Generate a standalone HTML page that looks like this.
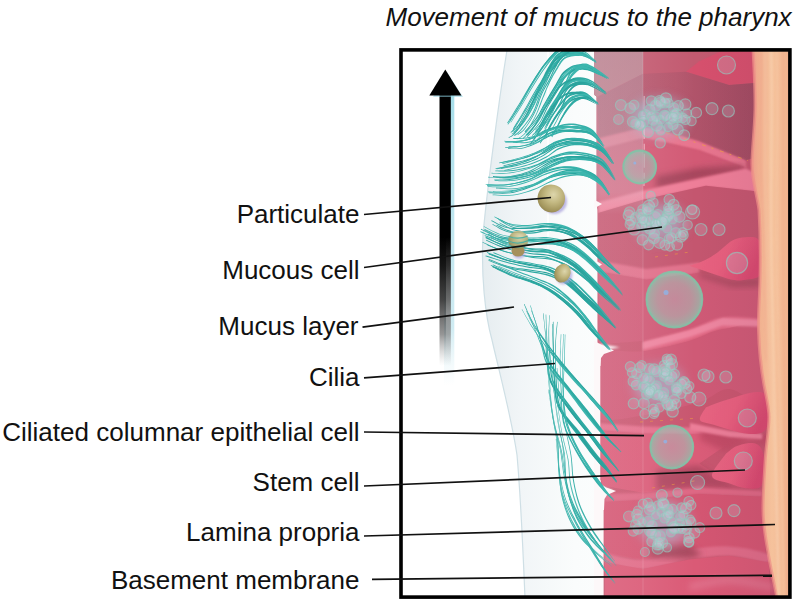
<!DOCTYPE html>
<html><head><meta charset="utf-8">
<style>
html,body{margin:0;padding:0;background:#fff;}
body{width:800px;height:604px;overflow:hidden;position:relative;font-family:"Liberation Sans",sans-serif;}
svg{position:absolute;left:0;top:0;}
.lbl{font-family:"Liberation Sans",sans-serif;font-size:26px;fill:#111;}
</style></head>
<body>
<svg width="800" height="604" viewBox="0 0 800 604">
<defs>
<linearGradient id="gShaft" x1="0" y1="0" x2="0" y2="1">
 <stop offset="0" stop-color="#000"/><stop offset="0.5" stop-color="#000"/><stop offset="0.6" stop-color="#161616"/><stop offset="0.72" stop-color="#363636" stop-opacity="0.93"/><stop offset="0.84" stop-color="#686868" stop-opacity="0.7"/><stop offset="0.95" stop-color="#aaa" stop-opacity="0"/>
</linearGradient>
<linearGradient id="gMucus" x1="0" y1="0" x2="1" y2="0">
 <stop offset="0" stop-color="#e6edf0"/><stop offset="0.22" stop-color="#f1f5f7"/><stop offset="0.55" stop-color="#fafcfc"/><stop offset="1" stop-color="#fefefe"/>
</linearGradient>
<linearGradient id="gLam" x1="0" y1="0" x2="1" y2="0">
 <stop offset="0" stop-color="#ee9f8c"/><stop offset="0.18" stop-color="#f1b08f"/><stop offset="0.5" stop-color="#f5c29c"/><stop offset="0.85" stop-color="#f2b690"/><stop offset="1" stop-color="#eda58a"/>
</linearGradient>
<linearGradient id="gShaftHi" x1="0" y1="0" x2="0" y2="1">
 <stop offset="0" stop-color="#fff" stop-opacity="0"/><stop offset="0.5" stop-color="#fff" stop-opacity="0"/><stop offset="0.78" stop-color="#fff" stop-opacity="0.28"/><stop offset="0.95" stop-color="#fff" stop-opacity="0"/>
</linearGradient>
<linearGradient id="gGlow" x1="0" y1="0" x2="0" y2="1">
 <stop offset="0" stop-color="#7fcfe0" stop-opacity="0.7"/><stop offset="0.8" stop-color="#9fd8e6" stop-opacity="0.5"/><stop offset="1" stop-color="#cfeaf2" stop-opacity="0"/>
</linearGradient>
<linearGradient id="gTone" gradientUnits="userSpaceOnUse" x1="597" y1="0" x2="760" y2="0">
 <stop offset="0" stop-color="#ffe8ee" stop-opacity="0.14"/><stop offset="0.3" stop-color="#ffe0e8" stop-opacity="0.09"/><stop offset="0.6" stop-color="#ffd8e0" stop-opacity="0"/><stop offset="0.61" stop-color="#40203a" stop-opacity="0"/><stop offset="1" stop-color="#40203a" stop-opacity="0.07"/>
</linearGradient>
<linearGradient id="gB" gradientUnits="userSpaceOnUse" x1="597" y1="0" x2="757" y2="0">
 <stop offset="0" stop-color="#b85a70"/><stop offset="0.5" stop-color="#b4566c"/><stop offset="1" stop-color="#a24b62"/>
</linearGradient>
<linearGradient id="gBulb" x1="0" y1="0" x2="1" y2="0.3">
 <stop offset="0" stop-color="#e66682"/><stop offset="0.55" stop-color="#e85f7e"/><stop offset="1" stop-color="#d94a70"/>
</linearGradient>
<linearGradient id="gStripe" x1="0" y1="0" x2="0" y2="1">
 <stop offset="0" stop-color="#fff" stop-opacity="0.9"/><stop offset="0.7" stop-color="#fff" stop-opacity="0.8"/><stop offset="1" stop-color="#fff" stop-opacity="0"/>
</linearGradient>
<linearGradient id="gHaze" x1="0" y1="0" x2="0" y2="1">
 <stop offset="0" stop-color="#b4aeb8" stop-opacity="0.38"/><stop offset="0.16" stop-color="#c4bcc4" stop-opacity="0.34"/><stop offset="0.26" stop-color="#dcd4dc" stop-opacity="0.26"/><stop offset="0.3" stop-color="#f0e0e8" stop-opacity="0.05"/><stop offset="1" stop-color="#f8e0e8" stop-opacity="0.0"/>
</linearGradient>
<radialGradient id="gPart" cx="0.58" cy="0.36" r="0.68">
 <stop offset="0" stop-color="#ddd6ac"/><stop offset="0.45" stop-color="#c2b780"/><stop offset="0.85" stop-color="#a2955c"/><stop offset="1" stop-color="#8f8250"/>
</radialGradient>
<radialGradient id="gBig" cx="0.5" cy="0.5" r="0.5">
 <stop offset="0" stop-color="#bca6b0" stop-opacity="0.6"/><stop offset="0.6" stop-color="#aeb4b2" stop-opacity="0.62"/><stop offset="0.88" stop-color="#98c0b0" stop-opacity="0.72"/><stop offset="1" stop-color="#84c6aa" stop-opacity="0.9"/>
</radialGradient>
<filter id="b0" x="-10%" y="-10%" width="120%" height="120%"><feGaussianBlur stdDeviation="0.6"/></filter>
<filter id="b1" x="-10%" y="-10%" width="120%" height="120%"><feGaussianBlur stdDeviation="1.2"/></filter>
<filter id="b3" x="-30%" y="-30%" width="160%" height="160%"><feGaussianBlur stdDeviation="6"/></filter>
<filter id="b2" x="-20%" y="-20%" width="140%" height="140%"><feGaussianBlur stdDeviation="3"/></filter>
<linearGradient id="gFade" gradientUnits="userSpaceOnUse" x1="602" y1="0" x2="630" y2="0">
 <stop offset="0" stop-color="#fff"/><stop offset="0.5" stop-color="#ddd"/><stop offset="1" stop-color="#888"/>
</linearGradient>
<mask id="mCil" maskUnits="userSpaceOnUse" x="400" y="40" width="400" height="570"><rect x="400" y="40" width="400" height="570" fill="url(#gFade)"/></mask>
<clipPath id="clipBox"><rect x="402" y="51" width="387" height="546"/></clipPath>
<clipPath id="clipCells"><path d="M594,50 L594,92 Q594,95.5 596.5,96.5 L596.5,205 L597.5,210 L597.5,344 L600,352 L600,486 L603,496 L603,598 L790,598 L790,50 Z"/></clipPath>
</defs>
<rect width="800" height="604" fill="#fff"/>
<g clip-path="url(#clipBox)">
 <path id="mucus" d="M507,50 C499,100 487,190 483,235 C481,275 485,315 492,340 C500,375 512,420 517,455 C521,500 523,550 525,598 L650,598 L650,50 Z" fill="url(#gMucus)"/>
 <path d="M507,50 C499,100 487,190 483,235 C481,275 485,315 492,340 C500,375 512,420 517,455 C521,500 523,550 525,598" fill="none" stroke="#cfdfe5" stroke-width="1.2"/>
 <rect x="547" y="50" width="2" height="260" fill="url(#gStripe)"/>
 <g id="cells" clip-path="url(#clipCells)">
<rect x="592" y="50" width="185" height="548" fill="#c8566f"/>
<polygon points="591.7,49.7 643.0,49.7 643.0,73.8 591.7,99.3" fill="#c4707f" />
<polygon points="643.0,49.7 757.2,49.7 757.2,82.8 729.1,85.1 686.0,71.8 643.0,73.8" fill="#c25a70" />
<polygon points="686.0,71.8 699.3,61.2 722.5,50.6 757.2,50.6 757.2,82.8 729.1,85.1" fill="#d6506d" />
<polygon points="596.6,97.7 643.0,73.8 686.0,71.8 729.1,85.1 757.2,82.8 755.6,157.3 745.6,160.6 699.3,141.4 666.2,131.4 643.0,127.5 599.9,138.1" fill="url(#gB)" />
<polygon points="599.9,138.1 643.0,127.5 666.2,131.4 699.3,141.4 745.6,160.6 746.3,168.5 699.3,151.3 666.2,143.0 643.0,139.7 599.9,151.3" fill="#e8748e" filter="url(#b1)"/>
<polygon points="599.9,149.0 643.0,138.1 699.3,150.0 745.6,167.9 745.6,170.5 705.9,178.5 643.0,191.7 598.3,203.6" fill="#d25a74" filter="url(#b1)"/>
<polygon points="656.2,176.5 699.3,167.9 744.0,165.2 744.0,169.9 705.9,177.8 656.2,188.4" fill="#a4455b" filter="url(#b2)"/>
<polygon points="598.3,202.3 643.0,190.4 705.9,177.1 745.6,168.5 757.2,173.8 760.5,192.4 705.9,186.4 643.0,200.3 598.3,213.6" fill="#ee7e98" filter="url(#b1)"/>
<polygon points="598.3,212.9 643.0,199.7 705.9,185.7 760.5,191.7 762.2,243.2 735.7,239.9 722.5,250.5 699.3,263.1 646.3,269.7 598.3,260.5" fill="#c4566f" />
<polygon points="598.3,260.5 646.3,269.1 699.3,262.5 699.3,273.0 646.3,279.7 598.3,271.4" fill="#e0708a" filter="url(#b1)"/>
<polygon points="598.3,271.4 646.3,279.7 699.3,273.0 762.2,279.7 762.2,319.4 722.5,316.8 689.3,329.3 643.0,340.9 599.9,344.2" fill="#cf5a76" />
<polygon points="699.3,271.4 732.4,280.3 760.5,278.0 760.5,286.3 732.4,287.0 699.3,276.4" fill="#a9485e" filter="url(#b2)"/>
<path d="M643.0,341.9 C650.7,339.9 676.1,334.1 689.3,330.0 C702.6,325.9 710.0,319.1 722.5,317.4 C734.9,315.8 756.9,318.1 763.8,320.1 C770.7,322.1 770.7,327.8 763.8,329.3 C756.9,330.9 734.9,327.4 722.5,329.3 C710.0,331.3 702.6,337.2 689.3,340.9 C676.1,344.7 650.7,350.0 643.0,351.9 Z" fill="#e26a86" filter="url(#b1)"/>
<polygon points="593.3,343.9 603.2,344.6 619.8,347.2 603.2,350.5 593.3,351.9" fill="#fbf4f6" filter="url(#b1)"/>
<path d="M599.9,353.2 C600.8,352.6 597.7,350.2 604.9,349.9 C612.1,349.5 628.9,352.7 643.0,351.2 C657.1,349.7 676.1,344.6 689.3,340.9 C702.6,337.3 709.8,331.3 722.5,329.3 C735.1,327.4 758.0,317.2 765.5,329.3 C772.9,341.5 773.2,392.3 767.2,402.2 C761.1,412.1 740.4,388.9 729.1,388.9 C717.8,388.9 713.6,397.8 699.3,402.2 C684.9,406.6 659.0,412.4 643.0,415.4 C627.0,418.5 610.4,420.4 603.2,420.4 C596.1,420.4 600.5,416.3 599.9,415.4 Z" fill="#cf5a76"/>
<polygon points="643.0,341.9 689.3,330.0 722.5,318.1 762.2,320.1 762.2,326.7 722.5,325.4 689.3,337.3 643.0,349.2" fill="#ee86a0" filter="url(#b1)"/>
<polygon points="599.9,423.2 643.0,426.5 699.3,427.8 732.4,435.8 762.2,434.5 762.2,440.4 732.4,441.1 699.3,434.5 643.0,433.8 599.9,430.5" fill="#e4708c" filter="url(#b1)"/>
<polygon points="599.9,430.5 643.0,433.8 699.3,434.5 732.4,441.1 699.3,463.6 715.8,474.2 735.7,484.1 762.2,483.5 762.2,490.8 699.3,486.8 643.0,492.7 601.6,485.5" fill="#da5c78" />
<polygon points="656.2,470.2 699.3,465.3 715.8,475.2 735.7,485.1 762.2,484.5 762.2,490.8 699.3,487.4 656.2,490.8" fill="#b04a62" filter="url(#b2)"/>
<polygon points="593.3,486.8 603.2,486.8 613.2,490.8 603.2,494.7 593.3,494.7" fill="#f4e6ea" filter="url(#b1)"/>
<polygon points="604.9,494.1 643.0,492.7 699.3,487.4 762.2,490.8 762.2,496.7 699.3,494.1 643.0,500.0 604.9,502.0" fill="#de6884" filter="url(#b1)"/>
<polygon points="603.9,502.0 643.0,500.0 699.3,494.1 763.8,496.7 765.5,553.0 729.1,547.0 689.3,550.4 643.0,560.3 604.9,553.7" fill="#d45672" />
<path d="M604.9,553.0 C611.2,554.1 628.9,560.2 643.0,559.6 C657.1,559.1 675.0,551.9 689.3,549.7 C703.7,547.5 716.1,545.7 729.1,546.4 C742.0,547.0 760.8,551.0 767.2,553.7 C773.5,556.3 773.5,561.9 767.2,562.3 C760.8,562.6 742.0,556.1 729.1,555.7 C716.1,555.2 703.7,557.4 689.3,559.6 C675.0,561.8 657.1,568.5 643.0,568.9 C628.9,569.3 611.2,563.4 604.9,562.3 Z" fill="#e06c88" filter="url(#b1)"/>
<polygon points="649.6,546.4 689.3,544.7 702.6,554.7 689.3,559.0 649.6,557.0" fill="#a9485e" filter="url(#b2)"/>
<polygon points="604.9,562.3 643.0,568.9 689.3,559.6 729.1,555.7 768.8,562.3 770.5,602.7 604.9,602.7" fill="#da5a76" />
<path d="M689.3,582.8 C696.0,581.7 715.8,576.2 729.1,576.2 C742.3,576.2 761.9,580.6 768.8,582.8 C775.7,585.0 777.1,589.2 770.5,589.4 C763.8,589.7 742.6,584.2 729.1,584.5 C715.6,584.7 696.0,590.0 689.3,591.1 Z" fill="#e0708a" filter="url(#b2)"/>
<polygon points="700.0,424.0 748.0,436.0 770.0,434.0 770.0,446.0 748.0,442.0 726.0,452.0 700.0,440.0" fill="#c24c66" filter="url(#b2)"/>
<polygon points="690.0,423.0 730.0,431.0 762.0,434.0 762.0,439.0 730.0,437.0 690.0,430.0" fill="#ec7e98" filter="url(#b1)"/>
<path d="M705.8,407.5 C708.1,406.6 714.8,403.8 719.8,402.0 C724.8,400.2 730.7,398.5 735.7,397.0 C740.7,395.5 745.2,393.8 749.6,393.0 C754.0,392.2 758.8,391.7 762.0,392.5 C765.2,393.3 767.6,394.8 769.0,398.0 C770.4,401.2 770.8,407.2 770.5,411.8 C770.2,416.4 769.0,422.2 767.5,425.7 C766.0,429.2 764.8,431.4 761.5,432.7 C758.2,434.0 752.9,434.2 747.6,433.7 C742.3,433.2 735.3,431.2 729.7,429.7 C724.1,428.2 718.8,426.3 713.8,424.7 C708.8,423.1 701.3,422.9 700.0,420.0 C698.7,417.1 704.8,409.6 705.8,407.5 Z" fill="url(#gBulb)" filter="url(#b0)"/>
<path d="M725.7,454.0 C727.4,452.8 732.1,448.4 735.7,446.6 C739.4,444.8 744.0,443.5 747.6,443.2 C751.2,442.9 755.0,443.2 757.5,444.6 C760.0,446.0 761.3,448.5 762.5,451.6 C763.7,454.8 764.3,459.2 764.5,463.5 C764.7,467.8 764.3,473.4 763.5,477.4 C762.7,481.4 762.5,485.6 759.5,487.4 C756.5,489.2 750.6,489.0 745.6,488.3 C740.6,487.6 735.3,485.4 729.7,483.4 C724.1,481.3 712.7,480.9 712.0,476.0 C711.3,471.1 723.4,457.7 725.7,454.0 Z" fill="url(#gBulb)" filter="url(#b0)"/>
<path d="M689.3,265.8 C691.8,264.9 699.5,262.7 704.2,260.5 C708.9,258.3 712.8,255.8 717.5,252.5 C722.2,249.2 727.7,243.1 732.4,240.6 C737.1,238.1 741.2,237.4 745.6,237.3 C750.0,237.2 755.9,236.2 758.9,239.9 C761.9,243.7 763.4,253.8 763.5,259.8 C763.6,265.8 762.5,272.4 759.5,275.7 C756.6,279.0 750.2,279.0 745.6,279.7 C741.1,280.3 738.5,280.9 732.4,279.7 C726.3,278.5 716.4,274.7 709.2,272.4 C702.0,270.1 692.6,266.9 689.3,265.8 Z" fill="url(#gBulb)" filter="url(#b0)"/>
 <rect x="590" y="50" width="200" height="548" fill="url(#gTone)"/>
 <rect x="590" y="50" width="53" height="548" fill="url(#gHaze)"/>
 <rect x="642.3" y="50" width="1.4" height="548" fill="#fff" opacity="0.1"/>
<path d="M644.2,96 C643.6,120 644.8,150 644,186" fill="none" stroke="#fff" stroke-width="1.1" stroke-dasharray="14 5 6 4" opacity="0.5"/>
 <path d="M666,132.5 L700,144 L748,160.5" fill="none" stroke="#f0a040" stroke-width="1" stroke-dasharray="4 6 2 7" opacity="0.7"/>
 <path d="M655,257 L690,252 M640,422 L700,418 M652,488 L700,480" fill="none" stroke="#f0a040" stroke-width="1" stroke-dasharray="3 7" opacity="0.55"/>
<ellipse cx="660" cy="117" rx="28" ry="19" fill="#a8bcd4" opacity="0.62" filter="url(#b3)"/>
<circle cx="678.3" cy="105.6" r="5.0" fill="#c4dce8" fill-opacity="0.20" stroke="#94c6bc" stroke-opacity="0.66" stroke-width="1.2"/>
<circle cx="668.1" cy="127.3" r="4.4" fill="#c4dce8" fill-opacity="0.20" stroke="#94c6bc" stroke-opacity="0.66" stroke-width="1.2"/>
<circle cx="687.0" cy="113.4" r="4.4" fill="#c4dce8" fill-opacity="0.20" stroke="#94c6bc" stroke-opacity="0.66" stroke-width="1.2"/>
<circle cx="656.8" cy="125.7" r="5.6" fill="#c4dce8" fill-opacity="0.20" stroke="#94c6bc" stroke-opacity="0.66" stroke-width="1.2"/>
<circle cx="618.5" cy="119.4" r="4.9" fill="#c4dce8" fill-opacity="0.20" stroke="#94c6bc" stroke-opacity="0.66" stroke-width="1.2"/>
<circle cx="645.6" cy="114.4" r="4.7" fill="#c4dce8" fill-opacity="0.20" stroke="#94c6bc" stroke-opacity="0.66" stroke-width="1.2"/>
<circle cx="656.3" cy="116.8" r="4.7" fill="#c4dce8" fill-opacity="0.20" stroke="#94c6bc" stroke-opacity="0.66" stroke-width="1.2"/>
<circle cx="642.8" cy="115.4" r="4.4" fill="#c4dce8" fill-opacity="0.20" stroke="#94c6bc" stroke-opacity="0.66" stroke-width="1.2"/>
<circle cx="685.5" cy="119.8" r="4.6" fill="#c4dce8" fill-opacity="0.20" stroke="#94c6bc" stroke-opacity="0.66" stroke-width="1.2"/>
<circle cx="630.2" cy="108.2" r="5.3" fill="#c4dce8" fill-opacity="0.20" stroke="#94c6bc" stroke-opacity="0.66" stroke-width="1.2"/>
<circle cx="696.3" cy="112.7" r="5.3" fill="#c4dce8" fill-opacity="0.20" stroke="#94c6bc" stroke-opacity="0.66" stroke-width="1.2"/>
<circle cx="643.2" cy="122.0" r="5.5" fill="#c4dce8" fill-opacity="0.20" stroke="#94c6bc" stroke-opacity="0.66" stroke-width="1.2"/>
<circle cx="660.3" cy="120.0" r="4.7" fill="#c4dce8" fill-opacity="0.20" stroke="#94c6bc" stroke-opacity="0.66" stroke-width="1.2"/>
<circle cx="676.8" cy="113.8" r="5.1" fill="#c4dce8" fill-opacity="0.20" stroke="#94c6bc" stroke-opacity="0.66" stroke-width="1.2"/>
<circle cx="673.1" cy="124.5" r="5.0" fill="#c4dce8" fill-opacity="0.20" stroke="#94c6bc" stroke-opacity="0.66" stroke-width="1.2"/>
<circle cx="660.6" cy="130.1" r="4.9" fill="#c4dce8" fill-opacity="0.20" stroke="#94c6bc" stroke-opacity="0.66" stroke-width="1.2"/>
<circle cx="659.5" cy="100.9" r="5.3" fill="#c4dce8" fill-opacity="0.20" stroke="#94c6bc" stroke-opacity="0.66" stroke-width="1.2"/>
<circle cx="691.6" cy="121.1" r="4.6" fill="#c4dce8" fill-opacity="0.20" stroke="#94c6bc" stroke-opacity="0.66" stroke-width="1.2"/>
<circle cx="660.2" cy="142.9" r="5.1" fill="#c4dce8" fill-opacity="0.20" stroke="#94c6bc" stroke-opacity="0.66" stroke-width="1.2"/>
<circle cx="685.3" cy="104.4" r="5.6" fill="#c4dce8" fill-opacity="0.20" stroke="#94c6bc" stroke-opacity="0.66" stroke-width="1.2"/>
<circle cx="664.7" cy="115.4" r="5.1" fill="#c4dce8" fill-opacity="0.20" stroke="#94c6bc" stroke-opacity="0.66" stroke-width="1.2"/>
<circle cx="684.2" cy="135.2" r="5.4" fill="#c4dce8" fill-opacity="0.20" stroke="#94c6bc" stroke-opacity="0.66" stroke-width="1.2"/>
<circle cx="682.3" cy="117.9" r="5.0" fill="#c4dce8" fill-opacity="0.20" stroke="#94c6bc" stroke-opacity="0.66" stroke-width="1.2"/>
<circle cx="664.9" cy="103.0" r="5.0" fill="#c4dce8" fill-opacity="0.20" stroke="#94c6bc" stroke-opacity="0.66" stroke-width="1.2"/>
<circle cx="649.8" cy="109.7" r="5.2" fill="#c4dce8" fill-opacity="0.20" stroke="#94c6bc" stroke-opacity="0.66" stroke-width="1.2"/>
<circle cx="665.7" cy="115.6" r="4.7" fill="#c4dce8" fill-opacity="0.20" stroke="#94c6bc" stroke-opacity="0.66" stroke-width="1.2"/>
<circle cx="632.8" cy="121.8" r="5.4" fill="#c4dce8" fill-opacity="0.20" stroke="#94c6bc" stroke-opacity="0.66" stroke-width="1.2"/>
<circle cx="677.8" cy="129.6" r="5.5" fill="#c4dce8" fill-opacity="0.20" stroke="#94c6bc" stroke-opacity="0.66" stroke-width="1.2"/>
<circle cx="668.7" cy="103.1" r="4.4" fill="#c4dce8" fill-opacity="0.20" stroke="#94c6bc" stroke-opacity="0.66" stroke-width="1.2"/>
<circle cx="673.8" cy="108.0" r="5.2" fill="#c4dce8" fill-opacity="0.20" stroke="#94c6bc" stroke-opacity="0.66" stroke-width="1.2"/>
<circle cx="651.3" cy="100.9" r="5.1" fill="#c4dce8" fill-opacity="0.20" stroke="#94c6bc" stroke-opacity="0.66" stroke-width="1.2"/>
<circle cx="634.0" cy="105.1" r="5.0" fill="#c4dce8" fill-opacity="0.20" stroke="#94c6bc" stroke-opacity="0.66" stroke-width="1.2"/>
<circle cx="651.0" cy="116.1" r="4.9" fill="#c4dce8" fill-opacity="0.20" stroke="#94c6bc" stroke-opacity="0.66" stroke-width="1.2"/>
<circle cx="655.7" cy="105.8" r="5.6" fill="#c4dce8" fill-opacity="0.20" stroke="#94c6bc" stroke-opacity="0.66" stroke-width="1.2"/>
<circle cx="660.7" cy="102.6" r="5.5" fill="#c4dce8" fill-opacity="0.20" stroke="#94c6bc" stroke-opacity="0.66" stroke-width="1.2"/>
<circle cx="640.2" cy="125.2" r="5.3" fill="#c4dce8" fill-opacity="0.20" stroke="#94c6bc" stroke-opacity="0.66" stroke-width="1.2"/>
<circle cx="670.4" cy="118.7" r="5.7" fill="#c4dce8" fill-opacity="0.20" stroke="#94c6bc" stroke-opacity="0.66" stroke-width="1.2"/>
<circle cx="677.4" cy="117.6" r="5.2" fill="#c4dce8" fill-opacity="0.20" stroke="#94c6bc" stroke-opacity="0.66" stroke-width="1.2"/>
<circle cx="653.4" cy="120.2" r="5.2" fill="#c4dce8" fill-opacity="0.20" stroke="#94c6bc" stroke-opacity="0.66" stroke-width="1.2"/>
<circle cx="620.9" cy="105.1" r="5.5" fill="#c4dce8" fill-opacity="0.20" stroke="#94c6bc" stroke-opacity="0.66" stroke-width="1.2"/>
<circle cx="648.0" cy="131.8" r="5.6" fill="#c4dce8" fill-opacity="0.20" stroke="#94c6bc" stroke-opacity="0.66" stroke-width="1.2"/>
<circle cx="674.6" cy="113.7" r="4.4" fill="#c4dce8" fill-opacity="0.20" stroke="#94c6bc" stroke-opacity="0.66" stroke-width="1.2"/>
<circle cx="665.9" cy="98.5" r="5.7" fill="#c4dce8" fill-opacity="0.20" stroke="#94c6bc" stroke-opacity="0.66" stroke-width="1.2"/>
<circle cx="673.2" cy="117.4" r="4.9" fill="#c4dce8" fill-opacity="0.20" stroke="#94c6bc" stroke-opacity="0.66" stroke-width="1.2"/>
<circle cx="640.3" cy="124.8" r="4.7" fill="#c4dce8" fill-opacity="0.20" stroke="#94c6bc" stroke-opacity="0.66" stroke-width="1.2"/>
<circle cx="635.7" cy="123.8" r="5.0" fill="#c4dce8" fill-opacity="0.20" stroke="#94c6bc" stroke-opacity="0.66" stroke-width="1.2"/>
<circle cx="712.0" cy="108.6" r="6.0" fill="#c4dce8" fill-opacity="0.20" stroke="#94c6bc" stroke-opacity="0.66" stroke-width="1.2"/>
<circle cx="728.4" cy="111.0" r="6.0" fill="#c4dce8" fill-opacity="0.20" stroke="#94c6bc" stroke-opacity="0.66" stroke-width="1.2"/>
<circle cx="726.5" cy="65.0" r="9.0" fill="#c4dce8" fill-opacity="0.20" stroke="#94c6bc" stroke-opacity="0.66" stroke-width="1.2"/>
<ellipse cx="660" cy="223" rx="25" ry="19" fill="#a8bcd4" opacity="0.62" filter="url(#b3)"/>
<circle cx="683.4" cy="235.1" r="4.8" fill="#c4dce8" fill-opacity="0.20" stroke="#94c6bc" stroke-opacity="0.66" stroke-width="1.2"/>
<circle cx="667.1" cy="228.2" r="4.6" fill="#c4dce8" fill-opacity="0.20" stroke="#94c6bc" stroke-opacity="0.66" stroke-width="1.2"/>
<circle cx="655.0" cy="217.4" r="5.7" fill="#c4dce8" fill-opacity="0.20" stroke="#94c6bc" stroke-opacity="0.66" stroke-width="1.2"/>
<circle cx="687.6" cy="225.0" r="4.7" fill="#c4dce8" fill-opacity="0.20" stroke="#94c6bc" stroke-opacity="0.66" stroke-width="1.2"/>
<circle cx="657.9" cy="215.1" r="5.6" fill="#c4dce8" fill-opacity="0.20" stroke="#94c6bc" stroke-opacity="0.66" stroke-width="1.2"/>
<circle cx="661.4" cy="225.4" r="4.4" fill="#c4dce8" fill-opacity="0.20" stroke="#94c6bc" stroke-opacity="0.66" stroke-width="1.2"/>
<circle cx="648.8" cy="206.0" r="5.7" fill="#c4dce8" fill-opacity="0.20" stroke="#94c6bc" stroke-opacity="0.66" stroke-width="1.2"/>
<circle cx="673.6" cy="204.8" r="5.4" fill="#c4dce8" fill-opacity="0.20" stroke="#94c6bc" stroke-opacity="0.66" stroke-width="1.2"/>
<circle cx="677.2" cy="244.8" r="5.4" fill="#c4dce8" fill-opacity="0.20" stroke="#94c6bc" stroke-opacity="0.66" stroke-width="1.2"/>
<circle cx="675.8" cy="232.8" r="5.1" fill="#c4dce8" fill-opacity="0.20" stroke="#94c6bc" stroke-opacity="0.66" stroke-width="1.2"/>
<circle cx="659.4" cy="242.8" r="5.5" fill="#c4dce8" fill-opacity="0.20" stroke="#94c6bc" stroke-opacity="0.66" stroke-width="1.2"/>
<circle cx="648.6" cy="244.9" r="5.0" fill="#c4dce8" fill-opacity="0.20" stroke="#94c6bc" stroke-opacity="0.66" stroke-width="1.2"/>
<circle cx="664.9" cy="245.1" r="5.0" fill="#c4dce8" fill-opacity="0.20" stroke="#94c6bc" stroke-opacity="0.66" stroke-width="1.2"/>
<circle cx="640.3" cy="213.9" r="4.6" fill="#c4dce8" fill-opacity="0.20" stroke="#94c6bc" stroke-opacity="0.66" stroke-width="1.2"/>
<circle cx="692.1" cy="209.6" r="4.8" fill="#c4dce8" fill-opacity="0.20" stroke="#94c6bc" stroke-opacity="0.66" stroke-width="1.2"/>
<circle cx="660.3" cy="223.9" r="5.2" fill="#c4dce8" fill-opacity="0.20" stroke="#94c6bc" stroke-opacity="0.66" stroke-width="1.2"/>
<circle cx="648.0" cy="209.3" r="5.6" fill="#c4dce8" fill-opacity="0.20" stroke="#94c6bc" stroke-opacity="0.66" stroke-width="1.2"/>
<circle cx="669.3" cy="199.6" r="5.3" fill="#c4dce8" fill-opacity="0.20" stroke="#94c6bc" stroke-opacity="0.66" stroke-width="1.2"/>
<circle cx="668.2" cy="214.1" r="5.5" fill="#c4dce8" fill-opacity="0.20" stroke="#94c6bc" stroke-opacity="0.66" stroke-width="1.2"/>
<circle cx="629.8" cy="224.3" r="4.7" fill="#c4dce8" fill-opacity="0.20" stroke="#94c6bc" stroke-opacity="0.66" stroke-width="1.2"/>
<circle cx="642.4" cy="239.9" r="5.3" fill="#c4dce8" fill-opacity="0.20" stroke="#94c6bc" stroke-opacity="0.66" stroke-width="1.2"/>
<circle cx="635.9" cy="217.8" r="5.3" fill="#c4dce8" fill-opacity="0.20" stroke="#94c6bc" stroke-opacity="0.66" stroke-width="1.2"/>
<circle cx="676.3" cy="210.0" r="5.3" fill="#c4dce8" fill-opacity="0.20" stroke="#94c6bc" stroke-opacity="0.66" stroke-width="1.2"/>
<circle cx="650.7" cy="195.7" r="4.6" fill="#c4dce8" fill-opacity="0.20" stroke="#94c6bc" stroke-opacity="0.66" stroke-width="1.2"/>
<circle cx="628.6" cy="215.3" r="5.4" fill="#c4dce8" fill-opacity="0.20" stroke="#94c6bc" stroke-opacity="0.66" stroke-width="1.2"/>
<circle cx="642.1" cy="217.5" r="5.0" fill="#c4dce8" fill-opacity="0.20" stroke="#94c6bc" stroke-opacity="0.66" stroke-width="1.2"/>
<circle cx="680.8" cy="236.8" r="5.4" fill="#c4dce8" fill-opacity="0.20" stroke="#94c6bc" stroke-opacity="0.66" stroke-width="1.2"/>
<circle cx="682.7" cy="232.4" r="4.7" fill="#c4dce8" fill-opacity="0.20" stroke="#94c6bc" stroke-opacity="0.66" stroke-width="1.2"/>
<circle cx="667.9" cy="216.4" r="5.0" fill="#c4dce8" fill-opacity="0.20" stroke="#94c6bc" stroke-opacity="0.66" stroke-width="1.2"/>
<circle cx="665.4" cy="218.0" r="4.6" fill="#c4dce8" fill-opacity="0.20" stroke="#94c6bc" stroke-opacity="0.66" stroke-width="1.2"/>
<circle cx="664.9" cy="220.3" r="5.1" fill="#c4dce8" fill-opacity="0.20" stroke="#94c6bc" stroke-opacity="0.66" stroke-width="1.2"/>
<circle cx="634.2" cy="229.3" r="5.7" fill="#c4dce8" fill-opacity="0.20" stroke="#94c6bc" stroke-opacity="0.66" stroke-width="1.2"/>
<circle cx="645.5" cy="220.8" r="5.2" fill="#c4dce8" fill-opacity="0.20" stroke="#94c6bc" stroke-opacity="0.66" stroke-width="1.2"/>
<circle cx="668.9" cy="238.7" r="4.7" fill="#c4dce8" fill-opacity="0.20" stroke="#94c6bc" stroke-opacity="0.66" stroke-width="1.2"/>
<circle cx="656.5" cy="223.9" r="4.4" fill="#c4dce8" fill-opacity="0.20" stroke="#94c6bc" stroke-opacity="0.66" stroke-width="1.2"/>
<circle cx="653.4" cy="202.6" r="4.7" fill="#c4dce8" fill-opacity="0.20" stroke="#94c6bc" stroke-opacity="0.66" stroke-width="1.2"/>
<circle cx="642.7" cy="209.7" r="5.0" fill="#c4dce8" fill-opacity="0.20" stroke="#94c6bc" stroke-opacity="0.66" stroke-width="1.2"/>
<circle cx="649.9" cy="228.5" r="5.6" fill="#c4dce8" fill-opacity="0.20" stroke="#94c6bc" stroke-opacity="0.66" stroke-width="1.2"/>
<circle cx="655.6" cy="223.6" r="4.5" fill="#c4dce8" fill-opacity="0.20" stroke="#94c6bc" stroke-opacity="0.66" stroke-width="1.2"/>
<circle cx="655.8" cy="223.9" r="4.5" fill="#c4dce8" fill-opacity="0.20" stroke="#94c6bc" stroke-opacity="0.66" stroke-width="1.2"/>
<circle cx="679.4" cy="216.7" r="5.6" fill="#c4dce8" fill-opacity="0.20" stroke="#94c6bc" stroke-opacity="0.66" stroke-width="1.2"/>
<circle cx="669.0" cy="210.5" r="4.9" fill="#c4dce8" fill-opacity="0.20" stroke="#94c6bc" stroke-opacity="0.66" stroke-width="1.2"/>
<circle cx="629.6" cy="212.2" r="5.3" fill="#c4dce8" fill-opacity="0.20" stroke="#94c6bc" stroke-opacity="0.66" stroke-width="1.2"/>
<circle cx="630.8" cy="220.9" r="5.0" fill="#c4dce8" fill-opacity="0.20" stroke="#94c6bc" stroke-opacity="0.66" stroke-width="1.2"/>
<circle cx="646.0" cy="226.1" r="4.8" fill="#c4dce8" fill-opacity="0.20" stroke="#94c6bc" stroke-opacity="0.66" stroke-width="1.2"/>
<circle cx="653.9" cy="238.3" r="5.4" fill="#c4dce8" fill-opacity="0.20" stroke="#94c6bc" stroke-opacity="0.66" stroke-width="1.2"/>
<circle cx="641.7" cy="226.1" r="5.0" fill="#c4dce8" fill-opacity="0.20" stroke="#94c6bc" stroke-opacity="0.66" stroke-width="1.2"/>
<circle cx="672.6" cy="219.2" r="4.6" fill="#c4dce8" fill-opacity="0.20" stroke="#94c6bc" stroke-opacity="0.66" stroke-width="1.2"/>
<circle cx="670.0" cy="246.8" r="4.4" fill="#c4dce8" fill-opacity="0.20" stroke="#94c6bc" stroke-opacity="0.66" stroke-width="1.2"/>
<circle cx="671.4" cy="237.6" r="5.0" fill="#c4dce8" fill-opacity="0.20" stroke="#94c6bc" stroke-opacity="0.66" stroke-width="1.2"/>
<circle cx="649.4" cy="220.7" r="4.7" fill="#c4dce8" fill-opacity="0.20" stroke="#94c6bc" stroke-opacity="0.66" stroke-width="1.2"/>
<circle cx="662.1" cy="221.7" r="5.4" fill="#c4dce8" fill-opacity="0.20" stroke="#94c6bc" stroke-opacity="0.66" stroke-width="1.2"/>
<circle cx="647.2" cy="210.6" r="4.7" fill="#c4dce8" fill-opacity="0.20" stroke="#94c6bc" stroke-opacity="0.66" stroke-width="1.2"/>
<circle cx="654.3" cy="233.4" r="5.2" fill="#c4dce8" fill-opacity="0.20" stroke="#94c6bc" stroke-opacity="0.66" stroke-width="1.2"/>
<circle cx="643.2" cy="220.1" r="4.5" fill="#c4dce8" fill-opacity="0.20" stroke="#94c6bc" stroke-opacity="0.66" stroke-width="1.2"/>
<circle cx="668.3" cy="207.8" r="4.7" fill="#c4dce8" fill-opacity="0.20" stroke="#94c6bc" stroke-opacity="0.66" stroke-width="1.2"/>
<circle cx="701.0" cy="229.5" r="6.0" fill="#c4dce8" fill-opacity="0.20" stroke="#94c6bc" stroke-opacity="0.66" stroke-width="1.2"/>
<circle cx="719.0" cy="229.5" r="6.0" fill="#c4dce8" fill-opacity="0.20" stroke="#94c6bc" stroke-opacity="0.66" stroke-width="1.2"/>
<circle cx="692.6" cy="212.0" r="7.0" fill="#c4dce8" fill-opacity="0.20" stroke="#94c6bc" stroke-opacity="0.66" stroke-width="1.2"/>
<ellipse cx="659" cy="385" rx="25" ry="20" fill="#a8bcd4" opacity="0.62" filter="url(#b3)"/>
<circle cx="644.0" cy="387.1" r="5.2" fill="#c4dce8" fill-opacity="0.20" stroke="#94c6bc" stroke-opacity="0.66" stroke-width="1.2"/>
<circle cx="664.6" cy="369.1" r="5.5" fill="#c4dce8" fill-opacity="0.20" stroke="#94c6bc" stroke-opacity="0.66" stroke-width="1.2"/>
<circle cx="639.8" cy="367.5" r="5.0" fill="#c4dce8" fill-opacity="0.20" stroke="#94c6bc" stroke-opacity="0.66" stroke-width="1.2"/>
<circle cx="681.5" cy="383.7" r="4.6" fill="#c4dce8" fill-opacity="0.20" stroke="#94c6bc" stroke-opacity="0.66" stroke-width="1.2"/>
<circle cx="667.5" cy="404.1" r="5.4" fill="#c4dce8" fill-opacity="0.20" stroke="#94c6bc" stroke-opacity="0.66" stroke-width="1.2"/>
<circle cx="671.2" cy="359.4" r="5.2" fill="#c4dce8" fill-opacity="0.20" stroke="#94c6bc" stroke-opacity="0.66" stroke-width="1.2"/>
<circle cx="684.5" cy="383.4" r="5.5" fill="#c4dce8" fill-opacity="0.20" stroke="#94c6bc" stroke-opacity="0.66" stroke-width="1.2"/>
<circle cx="671.5" cy="405.2" r="5.4" fill="#c4dce8" fill-opacity="0.20" stroke="#94c6bc" stroke-opacity="0.66" stroke-width="1.2"/>
<circle cx="654.8" cy="412.2" r="4.5" fill="#c4dce8" fill-opacity="0.20" stroke="#94c6bc" stroke-opacity="0.66" stroke-width="1.2"/>
<circle cx="630.3" cy="366.6" r="5.0" fill="#c4dce8" fill-opacity="0.20" stroke="#94c6bc" stroke-opacity="0.66" stroke-width="1.2"/>
<circle cx="666.9" cy="374.8" r="4.9" fill="#c4dce8" fill-opacity="0.20" stroke="#94c6bc" stroke-opacity="0.66" stroke-width="1.2"/>
<circle cx="649.3" cy="389.6" r="5.6" fill="#c4dce8" fill-opacity="0.20" stroke="#94c6bc" stroke-opacity="0.66" stroke-width="1.2"/>
<circle cx="672.6" cy="411.5" r="5.7" fill="#c4dce8" fill-opacity="0.20" stroke="#94c6bc" stroke-opacity="0.66" stroke-width="1.2"/>
<circle cx="671.8" cy="364.2" r="5.7" fill="#c4dce8" fill-opacity="0.20" stroke="#94c6bc" stroke-opacity="0.66" stroke-width="1.2"/>
<circle cx="687.2" cy="389.0" r="4.7" fill="#c4dce8" fill-opacity="0.20" stroke="#94c6bc" stroke-opacity="0.66" stroke-width="1.2"/>
<circle cx="677.0" cy="388.3" r="4.5" fill="#c4dce8" fill-opacity="0.20" stroke="#94c6bc" stroke-opacity="0.66" stroke-width="1.2"/>
<circle cx="654.1" cy="369.3" r="5.4" fill="#c4dce8" fill-opacity="0.20" stroke="#94c6bc" stroke-opacity="0.66" stroke-width="1.2"/>
<circle cx="667.0" cy="358.8" r="4.8" fill="#c4dce8" fill-opacity="0.20" stroke="#94c6bc" stroke-opacity="0.66" stroke-width="1.2"/>
<circle cx="659.3" cy="407.7" r="4.5" fill="#c4dce8" fill-opacity="0.20" stroke="#94c6bc" stroke-opacity="0.66" stroke-width="1.2"/>
<circle cx="664.1" cy="365.2" r="4.9" fill="#c4dce8" fill-opacity="0.20" stroke="#94c6bc" stroke-opacity="0.66" stroke-width="1.2"/>
<circle cx="664.0" cy="372.1" r="5.5" fill="#c4dce8" fill-opacity="0.20" stroke="#94c6bc" stroke-opacity="0.66" stroke-width="1.2"/>
<circle cx="644.8" cy="413.9" r="4.9" fill="#c4dce8" fill-opacity="0.20" stroke="#94c6bc" stroke-opacity="0.66" stroke-width="1.2"/>
<circle cx="656.3" cy="386.1" r="5.2" fill="#c4dce8" fill-opacity="0.20" stroke="#94c6bc" stroke-opacity="0.66" stroke-width="1.2"/>
<circle cx="663.6" cy="392.7" r="5.1" fill="#c4dce8" fill-opacity="0.20" stroke="#94c6bc" stroke-opacity="0.66" stroke-width="1.2"/>
<circle cx="655.4" cy="394.6" r="4.8" fill="#c4dce8" fill-opacity="0.20" stroke="#94c6bc" stroke-opacity="0.66" stroke-width="1.2"/>
<circle cx="689.5" cy="386.1" r="4.4" fill="#c4dce8" fill-opacity="0.20" stroke="#94c6bc" stroke-opacity="0.66" stroke-width="1.2"/>
<circle cx="655.2" cy="388.0" r="5.2" fill="#c4dce8" fill-opacity="0.20" stroke="#94c6bc" stroke-opacity="0.66" stroke-width="1.2"/>
<circle cx="667.8" cy="360.8" r="5.0" fill="#c4dce8" fill-opacity="0.20" stroke="#94c6bc" stroke-opacity="0.66" stroke-width="1.2"/>
<circle cx="671.5" cy="376.6" r="5.4" fill="#c4dce8" fill-opacity="0.20" stroke="#94c6bc" stroke-opacity="0.66" stroke-width="1.2"/>
<circle cx="668.3" cy="405.3" r="5.0" fill="#c4dce8" fill-opacity="0.20" stroke="#94c6bc" stroke-opacity="0.66" stroke-width="1.2"/>
<circle cx="664.3" cy="376.5" r="4.8" fill="#c4dce8" fill-opacity="0.20" stroke="#94c6bc" stroke-opacity="0.66" stroke-width="1.2"/>
<circle cx="651.8" cy="389.3" r="4.9" fill="#c4dce8" fill-opacity="0.20" stroke="#94c6bc" stroke-opacity="0.66" stroke-width="1.2"/>
<circle cx="662.8" cy="395.7" r="4.7" fill="#c4dce8" fill-opacity="0.20" stroke="#94c6bc" stroke-opacity="0.66" stroke-width="1.2"/>
<circle cx="674.4" cy="374.1" r="5.0" fill="#c4dce8" fill-opacity="0.20" stroke="#94c6bc" stroke-opacity="0.66" stroke-width="1.2"/>
<circle cx="670.0" cy="366.7" r="4.8" fill="#c4dce8" fill-opacity="0.20" stroke="#94c6bc" stroke-opacity="0.66" stroke-width="1.2"/>
<circle cx="683.9" cy="381.2" r="4.6" fill="#c4dce8" fill-opacity="0.20" stroke="#94c6bc" stroke-opacity="0.66" stroke-width="1.2"/>
<circle cx="646.6" cy="394.4" r="5.0" fill="#c4dce8" fill-opacity="0.20" stroke="#94c6bc" stroke-opacity="0.66" stroke-width="1.2"/>
<circle cx="641.7" cy="365.3" r="4.6" fill="#c4dce8" fill-opacity="0.20" stroke="#94c6bc" stroke-opacity="0.66" stroke-width="1.2"/>
<circle cx="674.5" cy="399.1" r="4.8" fill="#c4dce8" fill-opacity="0.20" stroke="#94c6bc" stroke-opacity="0.66" stroke-width="1.2"/>
<circle cx="681.4" cy="393.6" r="4.8" fill="#c4dce8" fill-opacity="0.20" stroke="#94c6bc" stroke-opacity="0.66" stroke-width="1.2"/>
<circle cx="632.1" cy="372.5" r="4.8" fill="#c4dce8" fill-opacity="0.20" stroke="#94c6bc" stroke-opacity="0.66" stroke-width="1.2"/>
<circle cx="649.9" cy="380.9" r="4.9" fill="#c4dce8" fill-opacity="0.20" stroke="#94c6bc" stroke-opacity="0.66" stroke-width="1.2"/>
<circle cx="653.9" cy="413.7" r="4.7" fill="#c4dce8" fill-opacity="0.20" stroke="#94c6bc" stroke-opacity="0.66" stroke-width="1.2"/>
<circle cx="675.7" cy="403.9" r="5.1" fill="#c4dce8" fill-opacity="0.20" stroke="#94c6bc" stroke-opacity="0.66" stroke-width="1.2"/>
<circle cx="648.0" cy="378.2" r="4.5" fill="#c4dce8" fill-opacity="0.20" stroke="#94c6bc" stroke-opacity="0.66" stroke-width="1.2"/>
<circle cx="665.5" cy="372.1" r="4.5" fill="#c4dce8" fill-opacity="0.20" stroke="#94c6bc" stroke-opacity="0.66" stroke-width="1.2"/>
<circle cx="690.2" cy="397.3" r="5.6" fill="#c4dce8" fill-opacity="0.20" stroke="#94c6bc" stroke-opacity="0.66" stroke-width="1.2"/>
<circle cx="676.8" cy="387.8" r="5.4" fill="#c4dce8" fill-opacity="0.20" stroke="#94c6bc" stroke-opacity="0.66" stroke-width="1.2"/>
<circle cx="636.7" cy="373.8" r="5.1" fill="#c4dce8" fill-opacity="0.20" stroke="#94c6bc" stroke-opacity="0.66" stroke-width="1.2"/>
<circle cx="653.3" cy="408.9" r="4.8" fill="#c4dce8" fill-opacity="0.20" stroke="#94c6bc" stroke-opacity="0.66" stroke-width="1.2"/>
<circle cx="643.9" cy="403.3" r="5.4" fill="#c4dce8" fill-opacity="0.20" stroke="#94c6bc" stroke-opacity="0.66" stroke-width="1.2"/>
<circle cx="649.6" cy="369.2" r="5.5" fill="#c4dce8" fill-opacity="0.20" stroke="#94c6bc" stroke-opacity="0.66" stroke-width="1.2"/>
<circle cx="633.6" cy="403.6" r="5.4" fill="#c4dce8" fill-opacity="0.20" stroke="#94c6bc" stroke-opacity="0.66" stroke-width="1.2"/>
<circle cx="664.9" cy="398.7" r="4.8" fill="#c4dce8" fill-opacity="0.20" stroke="#94c6bc" stroke-opacity="0.66" stroke-width="1.2"/>
<circle cx="645.3" cy="386.3" r="5.0" fill="#c4dce8" fill-opacity="0.20" stroke="#94c6bc" stroke-opacity="0.66" stroke-width="1.2"/>
<circle cx="636.1" cy="385.1" r="4.8" fill="#c4dce8" fill-opacity="0.20" stroke="#94c6bc" stroke-opacity="0.66" stroke-width="1.2"/>
<circle cx="649.3" cy="392.9" r="4.9" fill="#c4dce8" fill-opacity="0.20" stroke="#94c6bc" stroke-opacity="0.66" stroke-width="1.2"/>
<circle cx="644.0" cy="378.2" r="5.1" fill="#c4dce8" fill-opacity="0.20" stroke="#94c6bc" stroke-opacity="0.66" stroke-width="1.2"/>
<circle cx="669.1" cy="380.4" r="4.6" fill="#c4dce8" fill-opacity="0.20" stroke="#94c6bc" stroke-opacity="0.66" stroke-width="1.2"/>
<circle cx="649.9" cy="391.2" r="4.9" fill="#c4dce8" fill-opacity="0.20" stroke="#94c6bc" stroke-opacity="0.66" stroke-width="1.2"/>
<circle cx="676.9" cy="391.0" r="4.9" fill="#c4dce8" fill-opacity="0.20" stroke="#94c6bc" stroke-opacity="0.66" stroke-width="1.2"/>
<circle cx="658.8" cy="394.9" r="5.3" fill="#c4dce8" fill-opacity="0.20" stroke="#94c6bc" stroke-opacity="0.66" stroke-width="1.2"/>
<circle cx="656.5" cy="371.7" r="5.3" fill="#c4dce8" fill-opacity="0.20" stroke="#94c6bc" stroke-opacity="0.66" stroke-width="1.2"/>
<circle cx="633.6" cy="381.3" r="5.5" fill="#c4dce8" fill-opacity="0.20" stroke="#94c6bc" stroke-opacity="0.66" stroke-width="1.2"/>
<circle cx="704.0" cy="375.0" r="6.0" fill="#c4dce8" fill-opacity="0.20" stroke="#94c6bc" stroke-opacity="0.66" stroke-width="1.2"/>
<circle cx="708.0" cy="376.5" r="6.0" fill="#c4dce8" fill-opacity="0.20" stroke="#94c6bc" stroke-opacity="0.66" stroke-width="1.2"/>
<circle cx="725.8" cy="377.0" r="6.0" fill="#c4dce8" fill-opacity="0.20" stroke="#94c6bc" stroke-opacity="0.66" stroke-width="1.2"/>
<circle cx="699.0" cy="399.0" r="7.0" fill="#c4dce8" fill-opacity="0.20" stroke="#94c6bc" stroke-opacity="0.66" stroke-width="1.2"/>
<ellipse cx="664" cy="523" rx="26" ry="22" fill="#a8bcd4" opacity="0.62" filter="url(#b3)"/>
<circle cx="647.9" cy="502.8" r="4.6" fill="#c4dce8" fill-opacity="0.20" stroke="#94c6bc" stroke-opacity="0.66" stroke-width="1.2"/>
<circle cx="628.9" cy="516.4" r="5.4" fill="#c4dce8" fill-opacity="0.20" stroke="#94c6bc" stroke-opacity="0.66" stroke-width="1.2"/>
<circle cx="681.6" cy="507.6" r="4.8" fill="#c4dce8" fill-opacity="0.20" stroke="#94c6bc" stroke-opacity="0.66" stroke-width="1.2"/>
<circle cx="689.1" cy="542.5" r="4.7" fill="#c4dce8" fill-opacity="0.20" stroke="#94c6bc" stroke-opacity="0.66" stroke-width="1.2"/>
<circle cx="650.0" cy="530.8" r="5.5" fill="#c4dce8" fill-opacity="0.20" stroke="#94c6bc" stroke-opacity="0.66" stroke-width="1.2"/>
<circle cx="670.9" cy="532.3" r="4.6" fill="#c4dce8" fill-opacity="0.20" stroke="#94c6bc" stroke-opacity="0.66" stroke-width="1.2"/>
<circle cx="661.8" cy="495.1" r="5.5" fill="#c4dce8" fill-opacity="0.20" stroke="#94c6bc" stroke-opacity="0.66" stroke-width="1.2"/>
<circle cx="667.8" cy="509.6" r="5.1" fill="#c4dce8" fill-opacity="0.20" stroke="#94c6bc" stroke-opacity="0.66" stroke-width="1.2"/>
<circle cx="664.6" cy="518.1" r="5.0" fill="#c4dce8" fill-opacity="0.20" stroke="#94c6bc" stroke-opacity="0.66" stroke-width="1.2"/>
<circle cx="638.0" cy="510.5" r="4.5" fill="#c4dce8" fill-opacity="0.20" stroke="#94c6bc" stroke-opacity="0.66" stroke-width="1.2"/>
<circle cx="638.2" cy="529.0" r="5.1" fill="#c4dce8" fill-opacity="0.20" stroke="#94c6bc" stroke-opacity="0.66" stroke-width="1.2"/>
<circle cx="661.6" cy="512.0" r="4.7" fill="#c4dce8" fill-opacity="0.20" stroke="#94c6bc" stroke-opacity="0.66" stroke-width="1.2"/>
<circle cx="657.9" cy="505.6" r="4.8" fill="#c4dce8" fill-opacity="0.20" stroke="#94c6bc" stroke-opacity="0.66" stroke-width="1.2"/>
<circle cx="655.6" cy="535.0" r="5.1" fill="#c4dce8" fill-opacity="0.20" stroke="#94c6bc" stroke-opacity="0.66" stroke-width="1.2"/>
<circle cx="678.6" cy="528.3" r="4.8" fill="#c4dce8" fill-opacity="0.20" stroke="#94c6bc" stroke-opacity="0.66" stroke-width="1.2"/>
<circle cx="648.6" cy="521.4" r="5.3" fill="#c4dce8" fill-opacity="0.20" stroke="#94c6bc" stroke-opacity="0.66" stroke-width="1.2"/>
<circle cx="657.8" cy="548.7" r="5.5" fill="#c4dce8" fill-opacity="0.20" stroke="#94c6bc" stroke-opacity="0.66" stroke-width="1.2"/>
<circle cx="651.0" cy="506.8" r="4.6" fill="#c4dce8" fill-opacity="0.20" stroke="#94c6bc" stroke-opacity="0.66" stroke-width="1.2"/>
<circle cx="657.0" cy="545.6" r="4.4" fill="#c4dce8" fill-opacity="0.20" stroke="#94c6bc" stroke-opacity="0.66" stroke-width="1.2"/>
<circle cx="680.2" cy="516.5" r="4.5" fill="#c4dce8" fill-opacity="0.20" stroke="#94c6bc" stroke-opacity="0.66" stroke-width="1.2"/>
<circle cx="690.0" cy="519.6" r="4.5" fill="#c4dce8" fill-opacity="0.20" stroke="#94c6bc" stroke-opacity="0.66" stroke-width="1.2"/>
<circle cx="672.4" cy="509.1" r="5.0" fill="#c4dce8" fill-opacity="0.20" stroke="#94c6bc" stroke-opacity="0.66" stroke-width="1.2"/>
<circle cx="635.5" cy="524.8" r="4.9" fill="#c4dce8" fill-opacity="0.20" stroke="#94c6bc" stroke-opacity="0.66" stroke-width="1.2"/>
<circle cx="691.0" cy="522.0" r="4.9" fill="#c4dce8" fill-opacity="0.20" stroke="#94c6bc" stroke-opacity="0.66" stroke-width="1.2"/>
<circle cx="638.3" cy="519.4" r="5.6" fill="#c4dce8" fill-opacity="0.20" stroke="#94c6bc" stroke-opacity="0.66" stroke-width="1.2"/>
<circle cx="679.7" cy="522.9" r="4.7" fill="#c4dce8" fill-opacity="0.20" stroke="#94c6bc" stroke-opacity="0.66" stroke-width="1.2"/>
<circle cx="649.8" cy="509.6" r="5.5" fill="#c4dce8" fill-opacity="0.20" stroke="#94c6bc" stroke-opacity="0.66" stroke-width="1.2"/>
<circle cx="699.8" cy="527.6" r="4.9" fill="#c4dce8" fill-opacity="0.20" stroke="#94c6bc" stroke-opacity="0.66" stroke-width="1.2"/>
<circle cx="694.5" cy="532.8" r="5.4" fill="#c4dce8" fill-opacity="0.20" stroke="#94c6bc" stroke-opacity="0.66" stroke-width="1.2"/>
<circle cx="663.7" cy="504.6" r="5.5" fill="#c4dce8" fill-opacity="0.20" stroke="#94c6bc" stroke-opacity="0.66" stroke-width="1.2"/>
<circle cx="651.5" cy="533.0" r="5.2" fill="#c4dce8" fill-opacity="0.20" stroke="#94c6bc" stroke-opacity="0.66" stroke-width="1.2"/>
<circle cx="686.3" cy="524.7" r="5.3" fill="#c4dce8" fill-opacity="0.20" stroke="#94c6bc" stroke-opacity="0.66" stroke-width="1.2"/>
<circle cx="644.9" cy="552.0" r="4.5" fill="#c4dce8" fill-opacity="0.20" stroke="#94c6bc" stroke-opacity="0.66" stroke-width="1.2"/>
<circle cx="677.5" cy="492.6" r="4.6" fill="#c4dce8" fill-opacity="0.20" stroke="#94c6bc" stroke-opacity="0.66" stroke-width="1.2"/>
<circle cx="686.7" cy="529.8" r="4.6" fill="#c4dce8" fill-opacity="0.20" stroke="#94c6bc" stroke-opacity="0.66" stroke-width="1.2"/>
<circle cx="674.1" cy="527.3" r="5.6" fill="#c4dce8" fill-opacity="0.20" stroke="#94c6bc" stroke-opacity="0.66" stroke-width="1.2"/>
<circle cx="688.6" cy="541.7" r="5.1" fill="#c4dce8" fill-opacity="0.20" stroke="#94c6bc" stroke-opacity="0.66" stroke-width="1.2"/>
<circle cx="691.1" cy="505.2" r="4.8" fill="#c4dce8" fill-opacity="0.20" stroke="#94c6bc" stroke-opacity="0.66" stroke-width="1.2"/>
<circle cx="689.1" cy="537.6" r="5.1" fill="#c4dce8" fill-opacity="0.20" stroke="#94c6bc" stroke-opacity="0.66" stroke-width="1.2"/>
<circle cx="671.5" cy="522.3" r="5.2" fill="#c4dce8" fill-opacity="0.20" stroke="#94c6bc" stroke-opacity="0.66" stroke-width="1.2"/>
<circle cx="636.8" cy="514.4" r="5.1" fill="#c4dce8" fill-opacity="0.20" stroke="#94c6bc" stroke-opacity="0.66" stroke-width="1.2"/>
<circle cx="667.3" cy="515.5" r="4.8" fill="#c4dce8" fill-opacity="0.20" stroke="#94c6bc" stroke-opacity="0.66" stroke-width="1.2"/>
<circle cx="642.0" cy="522.1" r="4.5" fill="#c4dce8" fill-opacity="0.20" stroke="#94c6bc" stroke-opacity="0.66" stroke-width="1.2"/>
<circle cx="633.3" cy="531.0" r="5.1" fill="#c4dce8" fill-opacity="0.20" stroke="#94c6bc" stroke-opacity="0.66" stroke-width="1.2"/>
<circle cx="659.0" cy="545.5" r="4.5" fill="#c4dce8" fill-opacity="0.20" stroke="#94c6bc" stroke-opacity="0.66" stroke-width="1.2"/>
<circle cx="686.0" cy="508.4" r="5.5" fill="#c4dce8" fill-opacity="0.20" stroke="#94c6bc" stroke-opacity="0.66" stroke-width="1.2"/>
<circle cx="659.9" cy="536.1" r="5.5" fill="#c4dce8" fill-opacity="0.20" stroke="#94c6bc" stroke-opacity="0.66" stroke-width="1.2"/>
<circle cx="643.0" cy="504.0" r="4.8" fill="#c4dce8" fill-opacity="0.20" stroke="#94c6bc" stroke-opacity="0.66" stroke-width="1.2"/>
<circle cx="667.1" cy="547.6" r="4.4" fill="#c4dce8" fill-opacity="0.20" stroke="#94c6bc" stroke-opacity="0.66" stroke-width="1.2"/>
<circle cx="651.8" cy="525.4" r="5.3" fill="#c4dce8" fill-opacity="0.20" stroke="#94c6bc" stroke-opacity="0.66" stroke-width="1.2"/>
<circle cx="663.1" cy="503.4" r="5.5" fill="#c4dce8" fill-opacity="0.20" stroke="#94c6bc" stroke-opacity="0.66" stroke-width="1.2"/>
<circle cx="652.0" cy="541.5" r="5.2" fill="#c4dce8" fill-opacity="0.20" stroke="#94c6bc" stroke-opacity="0.66" stroke-width="1.2"/>
<circle cx="674.3" cy="528.3" r="5.6" fill="#c4dce8" fill-opacity="0.20" stroke="#94c6bc" stroke-opacity="0.66" stroke-width="1.2"/>
<circle cx="662.1" cy="542.8" r="5.5" fill="#c4dce8" fill-opacity="0.20" stroke="#94c6bc" stroke-opacity="0.66" stroke-width="1.2"/>
<circle cx="682.0" cy="528.9" r="4.6" fill="#c4dce8" fill-opacity="0.20" stroke="#94c6bc" stroke-opacity="0.66" stroke-width="1.2"/>
<circle cx="683.3" cy="514.8" r="4.6" fill="#c4dce8" fill-opacity="0.20" stroke="#94c6bc" stroke-opacity="0.66" stroke-width="1.2"/>
<circle cx="688.8" cy="501.4" r="4.9" fill="#c4dce8" fill-opacity="0.20" stroke="#94c6bc" stroke-opacity="0.66" stroke-width="1.2"/>
<circle cx="669.3" cy="514.3" r="4.5" fill="#c4dce8" fill-opacity="0.20" stroke="#94c6bc" stroke-opacity="0.66" stroke-width="1.2"/>
<circle cx="658.8" cy="542.3" r="5.3" fill="#c4dce8" fill-opacity="0.20" stroke="#94c6bc" stroke-opacity="0.66" stroke-width="1.2"/>
<circle cx="655.8" cy="515.2" r="4.4" fill="#c4dce8" fill-opacity="0.20" stroke="#94c6bc" stroke-opacity="0.66" stroke-width="1.2"/>
<circle cx="716.0" cy="513.0" r="6.0" fill="#c4dce8" fill-opacity="0.20" stroke="#94c6bc" stroke-opacity="0.66" stroke-width="1.2"/>
<circle cx="734.0" cy="510.6" r="6.0" fill="#c4dce8" fill-opacity="0.20" stroke="#94c6bc" stroke-opacity="0.66" stroke-width="1.2"/>
<circle cx="697.6" cy="482.5" r="7.0" fill="#c4dce8" fill-opacity="0.20" stroke="#94c6bc" stroke-opacity="0.66" stroke-width="1.2"/>
<circle cx="737.0" cy="263.0" r="10.6" fill="#c4dce8" fill-opacity="0.20" stroke="#94c6bc" stroke-opacity="0.66" stroke-width="1.2"/>
<circle cx="747.3" cy="418.0" r="9.0" fill="#c4dce8" fill-opacity="0.20" stroke="#94c6bc" stroke-opacity="0.66" stroke-width="1.2"/>
<circle cx="743.3" cy="461.0" r="9.0" fill="#c4dce8" fill-opacity="0.20" stroke="#94c6bc" stroke-opacity="0.66" stroke-width="1.2"/>
<circle cx="639.7" cy="167" r="16.5" fill="url(#gBig)" stroke="#80c4a8" stroke-opacity="0.85" stroke-width="1.8"/><circle cx="634.8" cy="162.9" r="1.5" fill="#8fb4e8" opacity="0.8"/>
<circle cx="674.4" cy="299.5" r="28" fill="url(#gBig)" stroke="#80c4a8" stroke-opacity="0.85" stroke-width="1.8"/><circle cx="666.0" cy="292.5" r="2.5" fill="#8fb4e8" opacity="0.8"/>
<circle cx="671.8" cy="447" r="21.5" fill="url(#gBig)" stroke="#80c4a8" stroke-opacity="0.85" stroke-width="1.8"/><circle cx="665.3" cy="441.6" r="1.9" fill="#8fb4e8" opacity="0.8"/>
 </g>
 <g id="notches" fill="#fdf8f9" filter="url(#b0)">
  <path d="M594,200 L597.5,201.5 L602,204 L597.5,206.5 L594,208 Z"/>
  <path d="M594,260 L598,262 L602,264.5 L598,267 L594,269 Z"/>
  <path d="M594,340 L598,343 L604,346 L614,350.5 L604,354 L601,358 L600.5,366 L594,366 Z"/>
  <path d="M594,480 L600.5,480 L601,484 L606,487.5 L616,491 L607,495 L604.5,499 L604,510 L594,510 Z"/>
  <rect x="594" y="360" width="6.3" height="124"/>
  <rect x="594" y="505" width="9.6" height="95"/>
 </g>
 <!-- lamina propria -->
 <path d="M753,48 C754,70 755.5,90 755,110 C754.5,130 752,150 752,164 C752,180 757,195 759,210 C760.5,235 760.5,260 760,280 C759.5,300 758,315 758.5,330 C759,350 761,368 764,385 C766.5,398 769,408 769,417 C769,430 766,445 765,463 C764,480 763,495 763,509 C763,525 765.5,538 768,552 C770,565 773.5,580 777,598 L792,598 L792,48 Z" fill="url(#gLam)"/>
 <path d="M753,48 C754,70 755.5,90 755,110 C754.5,130 752,150 752,164 C752,180 757,195 759,210 C760.5,235 760.5,260 760,280 C759.5,300 758,315 758.5,330 C759,350 761,368 764,385 C766.5,398 769,408 769,417 C769,430 766,445 765,463 C764,480 763,495 763,509 C763,525 765.5,538 768,552 C770,565 773.5,580 777,598" fill="none" stroke="#ee9088" stroke-width="3" opacity="0.7"/>
 <g fill="none" stroke-linecap="round" filter="url(#b1)" opacity="0.8">
  <path d="M771,52 C773,120 769,200 772,290 C774,380 776,470 779,596" stroke="#fbdcc0" stroke-width="2.2" opacity="0.55"/>
  <path d="M777,52 C779,140 775,230 778,320 C780,420 782,500 784,596" stroke="#f9d2b2" stroke-width="1.6" opacity="0.5"/>
  <path d="M765,52 C766,110 763,170 767,240 C769,320 770,380 774,450 C776,520 777,560 778,596" stroke="#f7cbb0" stroke-width="1.4" opacity="0.45"/>
  <path d="M783,52 C784,150 782,250 784,350 C785,450 786,520 787,596" stroke="#e89c82" stroke-width="1.8" opacity="0.35"/>
  <path d="M761,52 C762,100 759,150 762,200 C765,260 765,320 766,360" stroke="#ec9488" stroke-width="1.5" opacity="0.35"/>
 </g>
 <g id="partsback"></g>
 <g id="cilia" mask="url(#mCil)">
<path d="M512.1,134.6 L512.8,134.1 L513.8,133.5 L514.9,132.7 L516.3,131.7 L517.7,130.4 L519.2,128.7 L520.7,126.5 L522.4,124.0 L524.2,121.1 L526.0,118.1 L527.8,115.0 L529.4,112.0 L530.9,109.1 L532.3,106.1 L533.7,103.1 L535.0,100.1 L536.2,97.2 L537.5,94.3 L538.7,91.6 L539.9,88.8 L541.1,86.1 L542.3,83.5 L543.4,81.1 L544.5,78.7 L545.5,76.6 L546.4,74.6 L547.3,72.8 L548.3,71.0 L549.3,69.2 L550.5,67.4 L551.9,65.4 L553.5,63.2 L555.1,61.1 L556.7,59.1 L558.5,57.4 L560.2,56.1 L562.0,55.3 L563.9,54.8 L566.0,54.5 L568.1,54.4 L570.2,54.4 L572.3,54.3 L574.3,54.2 L576.2,54.1 L578.1,54.1 L580.0,54.2 L581.9,54.4 L583.8,54.9 L585.8,55.7 L588.1,56.9 L590.3,58.3 L592.4,59.6 L594.2,60.8 L595.5,61.6 L595.6,61.4 L594.4,60.5 L592.7,59.3 L590.6,57.8 L588.5,56.3 L586.2,54.9 L584.2,53.9 L582.2,53.3 L580.2,52.9 L578.2,52.6 L576.2,52.5 L574.2,52.5 L572.2,52.6 L570.2,52.7 L568.0,52.8 L565.8,52.9 L563.6,53.2 L561.5,53.9 L559.4,54.8 L557.5,56.3 L555.7,58.1 L554.0,60.2 L552.3,62.4 L550.8,64.6 L549.5,66.6 L548.2,68.5 L547.2,70.4 L546.2,72.2 L545.3,74.1 L544.4,76.1 L543.4,78.2 L542.3,80.6 L541.2,83.1 L540.1,85.7 L539.0,88.4 L537.8,91.1 L536.6,93.9 L535.3,96.8 L534.1,99.7 L532.8,102.7 L531.4,105.7 L530.0,108.7 L528.6,111.6 L527.0,114.6 L525.3,117.6 L523.5,120.6 L521.7,123.5 L520.0,126.1 L518.5,128.2 L517.1,129.8 L515.8,131.1 L514.5,132.1 L513.3,132.8 L512.3,133.4 L511.6,134.0Z" fill="#36b0a9" fill-opacity="1"/>
<path d="M517.9,135.0 L518.6,134.4 L519.6,133.8 L520.9,132.9 L522.3,131.8 L523.7,130.5 L525.2,128.8 L526.7,126.6 L528.4,124.1 L530.2,121.3 L532.0,118.3 L533.7,115.3 L535.2,112.3 L536.5,109.3 L537.7,106.2 L538.9,103.0 L539.9,99.8 L541.1,96.8 L542.2,94.0 L543.5,91.3 L544.9,88.7 L546.3,86.3 L547.7,83.9 L549.0,81.6 L550.2,79.3 L551.2,77.2 L552.1,75.2 L552.9,73.4 L553.8,71.5 L554.6,69.7 L555.6,67.9 L556.8,65.9 L557.9,63.8 L559.2,61.7 L560.4,59.7 L561.8,58.0 L563.3,56.7 L565.0,55.7 L566.9,55.1 L568.9,54.6 L571.0,54.3 L573.0,54.2 L575.0,54.0 L576.7,54.0 L578.4,53.9 L580.0,54.0 L581.6,54.1 L583.2,54.5 L584.9,55.0 L586.8,55.9 L588.9,57.1 L591.1,58.4 L593.1,59.8 L594.8,61.0 L596.1,61.8 L596.2,61.6 L595.0,60.7 L593.4,59.4 L591.4,57.9 L589.3,56.4 L587.3,55.1 L585.3,54.0 L583.6,53.3 L581.9,52.8 L580.2,52.5 L578.5,52.3 L576.7,52.2 L574.9,52.4 L572.9,52.5 L570.8,52.7 L568.6,53.1 L566.4,53.6 L564.3,54.4 L562.5,55.5 L560.8,57.0 L559.3,58.9 L558.0,60.9 L556.8,63.1 L555.6,65.2 L554.5,67.3 L553.5,69.2 L552.7,71.0 L551.9,72.9 L551.1,74.8 L550.2,76.7 L549.2,78.8 L548.1,81.0 L546.8,83.3 L545.4,85.8 L544.0,88.3 L542.7,90.9 L541.4,93.6 L540.2,96.5 L539.1,99.5 L538.0,102.7 L536.9,105.9 L535.7,109.0 L534.4,111.9 L532.9,114.9 L531.3,117.9 L529.5,120.9 L527.8,123.7 L526.1,126.2 L524.6,128.3 L523.2,130.0 L521.8,131.3 L520.4,132.3 L519.2,133.2 L518.2,133.8 L517.4,134.4Z" fill="#2faaa3" fill-opacity="1"/>
<path d="M516.7,127.3 L517.5,126.8 L518.6,126.3 L520.0,125.5 L521.5,124.5 L523.0,123.1 L524.6,121.4 L526.2,119.1 L528.0,116.4 L529.8,113.3 L531.6,110.1 L533.4,106.9 L535.0,103.9 L536.4,101.1 L537.8,98.2 L539.0,95.4 L540.2,92.6 L541.4,89.8 L542.6,87.1 L543.8,84.4 L545.0,81.7 L546.1,79.0 L547.2,76.5 L548.3,74.0 L549.4,71.8 L550.4,69.8 L551.2,68.0 L552.1,66.4 L553.0,64.9 L553.9,63.3 L555.0,61.6 L556.3,59.8 L557.7,57.8 L559.2,55.8 L560.7,54.0 L562.3,52.4 L563.8,51.2 L565.4,50.4 L567.0,49.9 L568.7,49.5 L570.5,49.4 L572.3,49.4 L574.0,49.5 L575.7,49.7 L577.5,50.0 L579.3,50.4 L581.1,51.0 L582.9,51.7 L584.7,52.6 L586.7,53.8 L588.9,55.4 L591.1,57.2 L593.1,58.9 L594.8,60.3 L596.1,61.4 L596.2,61.2 L595.1,60.1 L593.4,58.5 L591.5,56.7 L589.4,54.8 L587.3,53.1 L585.3,51.7 L583.4,50.6 L581.6,49.7 L579.8,48.9 L577.9,48.3 L576.0,47.9 L574.2,47.7 L572.3,47.6 L570.4,47.7 L568.5,47.9 L566.6,48.3 L564.8,49.0 L563.0,49.9 L561.3,51.3 L559.6,53.0 L558.1,55.0 L556.6,57.0 L555.2,59.0 L553.9,60.9 L552.8,62.6 L551.9,64.2 L551.0,65.8 L550.1,67.5 L549.3,69.3 L548.3,71.3 L547.3,73.6 L546.2,76.0 L545.1,78.6 L544.0,81.3 L542.8,84.0 L541.7,86.7 L540.5,89.4 L539.3,92.2 L538.1,95.0 L536.9,97.8 L535.6,100.7 L534.2,103.5 L532.6,106.5 L530.9,109.7 L529.1,112.9 L527.3,115.9 L525.5,118.7 L524.0,120.9 L522.5,122.6 L521.0,123.8 L519.5,124.8 L518.2,125.6 L517.1,126.2 L516.3,126.7Z" fill="#36b0a9" fill-opacity="1"/>
<path d="M511.0,132.7 L511.7,132.2 L512.6,131.6 L513.7,130.7 L515.1,129.7 L516.5,128.3 L518.1,126.6 L519.8,124.4 L521.8,121.8 L523.9,118.9 L526.0,115.9 L528.1,112.8 L529.9,109.7 L531.4,106.7 L532.8,103.5 L534.0,100.2 L535.2,97.0 L536.4,93.9 L537.5,91.1 L538.7,88.6 L539.8,86.2 L540.9,83.9 L542.0,81.8 L543.1,79.6 L544.2,77.5 L545.3,75.3 L546.4,73.2 L547.4,71.2 L548.5,69.1 L549.7,67.2 L550.9,65.2 L552.2,63.3 L553.4,61.3 L554.8,59.3 L556.2,57.5 L557.6,56.0 L559.2,54.8 L561.0,53.8 L562.9,53.1 L565.0,52.6 L567.1,52.3 L569.3,52.2 L571.4,52.1 L573.4,52.2 L575.4,52.4 L577.4,52.7 L579.5,53.2 L581.5,53.8 L583.5,54.5 L585.7,55.4 L588.0,56.7 L590.3,58.1 L592.5,59.4 L594.3,60.6 L595.7,61.4 L595.8,61.2 L594.5,60.3 L592.8,59.0 L590.7,57.5 L588.5,55.9 L586.2,54.5 L584.0,53.3 L582.0,52.4 L579.9,51.6 L577.8,51.0 L575.7,50.5 L573.5,50.2 L571.4,50.1 L569.2,50.2 L566.9,50.4 L564.6,50.8 L562.4,51.4 L560.2,52.2 L558.3,53.3 L556.5,54.8 L554.9,56.5 L553.5,58.4 L552.2,60.4 L550.9,62.5 L549.7,64.5 L548.5,66.5 L547.3,68.5 L546.3,70.5 L545.2,72.6 L544.2,74.8 L543.1,76.9 L542.0,79.1 L541.0,81.2 L539.9,83.4 L538.8,85.7 L537.7,88.1 L536.6,90.7 L535.4,93.6 L534.3,96.7 L533.1,99.9 L531.9,103.1 L530.6,106.3 L529.1,109.3 L527.4,112.3 L525.4,115.4 L523.3,118.5 L521.2,121.3 L519.2,123.9 L517.5,126.1 L516.0,127.8 L514.6,129.1 L513.3,130.2 L512.2,131.0 L511.2,131.6 L510.5,132.2Z" fill="#2faaa3" fill-opacity="1"/>
<path d="M513.6,132.6 L514.4,132.1 L515.5,131.4 L516.7,130.5 L518.2,129.3 L519.7,127.9 L521.3,126.1 L523.0,123.9 L524.9,121.2 L526.8,118.3 L528.8,115.2 L530.7,112.1 L532.3,109.1 L533.6,106.2 L534.8,103.3 L535.8,100.5 L536.8,97.6 L537.8,94.8 L538.9,92.1 L540.2,89.4 L541.6,86.6 L543.1,83.9 L544.6,81.3 L545.9,78.8 L547.2,76.5 L548.2,74.3 L549.0,72.3 L549.7,70.5 L550.4,68.8 L551.2,67.1 L552.3,65.3 L553.6,63.4 L555.1,61.4 L556.7,59.4 L558.4,57.5 L560.1,55.9 L561.8,54.7 L563.6,53.9 L565.4,53.4 L567.3,53.1 L569.3,53.0 L571.3,53.0 L573.3,53.0 L575.2,52.9 L577.0,52.9 L578.9,52.9 L580.7,53.0 L582.5,53.3 L584.4,53.8 L586.3,54.8 L588.5,56.1 L590.6,57.6 L592.7,59.1 L594.4,60.4 L595.6,61.3 L595.8,61.2 L594.6,60.2 L593.0,58.8 L591.0,57.1 L588.9,55.4 L586.8,54.0 L584.8,52.8 L582.9,52.1 L580.9,51.6 L579.0,51.3 L577.1,51.2 L575.1,51.1 L573.2,51.2 L571.3,51.2 L569.2,51.3 L567.1,51.4 L565.1,51.8 L563.0,52.3 L561.0,53.3 L559.1,54.7 L557.3,56.4 L555.6,58.4 L553.9,60.5 L552.4,62.6 L551.1,64.5 L550.0,66.4 L549.1,68.2 L548.4,70.0 L547.7,71.8 L547.0,73.8 L546.0,75.9 L544.8,78.2 L543.5,80.7 L542.0,83.4 L540.6,86.1 L539.2,88.8 L537.9,91.6 L536.7,94.4 L535.7,97.2 L534.8,100.1 L533.8,103.0 L532.7,105.8 L531.3,108.6 L529.8,111.6 L527.9,114.7 L526.0,117.7 L524.0,120.7 L522.2,123.3 L520.5,125.5 L519.0,127.2 L517.5,128.6 L516.2,129.7 L514.9,130.6 L513.9,131.3 L513.1,131.9Z" fill="#3db6ae" fill-opacity="1"/>
<path d="M508.9,138.1 L509.6,137.6 L510.6,137.1 L511.8,136.4 L513.1,135.5 L514.6,134.2 L516.0,132.5 L517.6,130.3 L519.4,127.6 L521.3,124.6 L523.1,121.5 L524.9,118.3 L526.6,115.3 L528.1,112.4 L529.6,109.4 L530.9,106.5 L532.3,103.5 L533.6,100.6 L534.9,97.8 L536.3,95.0 L537.6,92.3 L539.0,89.5 L540.3,86.9 L541.6,84.3 L542.8,81.9 L544.0,79.6 L545.1,77.4 L546.2,75.3 L547.3,73.4 L548.4,71.4 L549.6,69.5 L550.8,67.5 L552.1,65.5 L553.4,63.5 L554.7,61.7 L556.2,60.2 L557.8,58.9 L559.6,57.8 L561.6,57.0 L563.8,56.4 L566.0,55.9 L568.2,55.5 L570.4,55.3 L572.4,55.1 L574.4,55.0 L576.3,55.0 L578.3,55.2 L580.3,55.5 L582.3,55.9 L584.6,56.7 L587.1,57.8 L589.7,59.1 L592.1,60.4 L594.2,61.4 L595.6,62.2 L595.8,62.0 L594.4,61.1 L592.4,59.8 L590.1,58.4 L587.6,56.9 L585.1,55.6 L582.7,54.6 L580.6,54.0 L578.5,53.5 L576.5,53.1 L574.4,52.9 L572.3,52.9 L570.2,53.1 L567.9,53.4 L565.6,53.9 L563.3,54.4 L560.9,55.2 L558.7,56.1 L556.7,57.4 L555.0,58.9 L553.4,60.6 L552.0,62.6 L550.7,64.6 L549.5,66.7 L548.3,68.7 L547.1,70.6 L546.0,72.7 L544.9,74.7 L543.9,76.8 L542.8,79.0 L541.7,81.3 L540.4,83.8 L539.2,86.3 L537.9,89.0 L536.6,91.8 L535.3,94.6 L533.9,97.4 L532.6,100.2 L531.3,103.1 L530.0,106.0 L528.7,109.0 L527.3,111.9 L525.8,114.8 L524.1,117.9 L522.4,121.0 L520.5,124.2 L518.7,127.2 L517.0,129.8 L515.4,132.0 L514.0,133.6 L512.6,134.9 L511.4,135.8 L510.2,136.5 L509.2,137.0 L508.5,137.5Z" fill="#2aa39d" fill-opacity="1"/>
<path d="M514.6,136.1 L515.3,135.6 L516.2,134.9 L517.3,134.0 L518.6,132.9 L520.0,131.6 L521.5,129.9 L523.2,127.9 L525.1,125.5 L527.2,122.8 L529.3,120.0 L531.3,117.0 L533.1,114.1 L534.6,111.0 L535.9,107.8 L537.1,104.5 L538.3,101.2 L539.4,98.0 L540.6,95.1 L541.8,92.4 L543.0,89.9 L544.2,87.4 L545.4,85.1 L546.5,82.8 L547.6,80.5 L548.6,78.3 L549.6,76.2 L550.5,74.1 L551.4,72.1 L552.4,70.1 L553.6,68.2 L554.9,66.2 L556.3,64.1 L557.8,62.1 L559.3,60.2 L560.9,58.6 L562.5,57.4 L564.1,56.5 L565.8,55.9 L567.5,55.5 L569.4,55.3 L571.3,55.1 L573.2,55.0 L575.1,54.9 L577.1,54.8 L579.1,54.8 L581.1,54.9 L583.0,55.2 L585.0,55.7 L587.0,56.5 L589.2,57.8 L591.4,59.2 L593.4,60.7 L595.2,61.9 L596.4,62.8 L596.6,62.6 L595.4,61.6 L593.7,60.3 L591.8,58.7 L589.6,57.1 L587.5,55.7 L585.4,54.6 L583.4,53.9 L581.3,53.4 L579.2,53.2 L577.1,53.0 L575.1,53.0 L573.1,53.2 L571.1,53.3 L569.2,53.5 L567.2,53.8 L565.3,54.2 L563.4,55.0 L561.5,56.0 L559.8,57.4 L558.1,59.2 L556.5,61.2 L555.0,63.3 L553.6,65.4 L552.3,67.4 L551.2,69.4 L550.1,71.5 L549.2,73.5 L548.3,75.6 L547.4,77.8 L546.4,80.0 L545.4,82.2 L544.3,84.5 L543.1,86.9 L541.9,89.4 L540.7,91.9 L539.5,94.7 L538.4,97.6 L537.3,100.8 L536.1,104.1 L534.9,107.4 L533.6,110.6 L532.2,113.6 L530.4,116.5 L528.5,119.4 L526.4,122.2 L524.4,124.9 L522.4,127.2 L520.8,129.3 L519.3,130.9 L517.9,132.2 L516.7,133.3 L515.6,134.1 L514.7,134.8 L514.0,135.4Z" fill="#3db6ae" fill-opacity="1"/>
<path d="M517.7,139.3 L518.5,138.8 L519.7,138.1 L521.1,137.2 L522.6,136.1 L524.2,134.7 L525.8,133.0 L527.4,130.8 L529.1,128.1 L530.9,125.2 L532.7,122.2 L534.4,119.1 L535.9,116.1 L537.3,113.1 L538.6,110.0 L539.8,107.0 L541.0,103.9 L542.1,100.9 L543.2,98.1 L544.4,95.4 L545.5,92.7 L546.5,90.1 L547.6,87.6 L548.7,85.2 L549.8,82.8 L550.9,80.6 L552.0,78.6 L553.0,76.6 L554.1,74.6 L555.3,72.7 L556.4,70.7 L557.7,68.7 L558.9,66.5 L560.2,64.4 L561.5,62.4 L562.9,60.7 L564.4,59.3 L566.0,58.3 L567.7,57.6 L569.5,57.0 L571.4,56.6 L573.3,56.3 L575.1,56.1 L576.9,56.0 L578.6,55.9 L580.4,55.8 L582.1,55.9 L583.8,56.2 L585.5,56.6 L587.3,57.4 L589.3,58.5 L591.4,59.8 L593.3,61.1 L594.9,62.2 L596.1,63.0 L596.2,62.8 L595.1,61.9 L593.6,60.7 L591.8,59.2 L589.8,57.8 L587.8,56.5 L585.9,55.5 L584.1,54.8 L582.3,54.4 L580.5,54.1 L578.6,53.9 L576.8,53.9 L574.9,54.2 L573.0,54.4 L571.0,54.8 L569.0,55.2 L567.0,55.9 L565.1,56.8 L563.3,58.0 L561.7,59.6 L560.2,61.5 L558.9,63.6 L557.6,65.8 L556.4,68.0 L555.2,70.0 L554.1,72.0 L553.0,74.0 L551.9,76.0 L550.9,78.0 L549.8,80.1 L548.7,82.3 L547.7,84.7 L546.6,87.2 L545.6,89.7 L544.5,92.3 L543.4,95.0 L542.3,97.7 L541.2,100.6 L540.1,103.6 L539.0,106.6 L537.8,109.7 L536.6,112.8 L535.2,115.7 L533.7,118.7 L532.0,121.8 L530.3,124.9 L528.5,127.8 L526.8,130.4 L525.2,132.5 L523.7,134.2 L522.2,135.6 L520.7,136.7 L519.3,137.5 L518.2,138.2 L517.3,138.8Z" fill="#3db6ae" fill-opacity="1"/>
<path d="M523.2,139.0 L524.6,137.5 L526.6,135.5 L529.0,133.0 L531.5,130.4 L533.9,127.7 L536.0,125.1 L537.6,122.6 L539.0,120.1 L540.2,117.6 L541.4,115.0 L542.7,112.4 L544.1,109.6 L545.7,106.7 L547.4,103.6 L549.2,100.4 L551.0,97.2 L552.7,94.2 L554.4,91.5 L555.9,89.0 L557.3,86.8 L558.7,84.6 L560.1,82.7 L561.6,80.8 L563.1,79.1 L564.9,77.4 L566.6,75.8 L568.5,74.3 L570.4,73.0 L572.3,72.0 L574.3,71.1 L576.3,70.5 L578.3,70.1 L580.3,69.9 L582.4,69.8 L584.8,69.9 L587.3,70.3 L590.4,71.2 L594.1,72.7 L598.0,74.4 L601.7,76.1 L604.8,77.6 L607.1,78.6 L607.2,78.3 L605.0,77.2 L602.0,75.5 L598.4,73.5 L594.6,71.6 L590.9,69.9 L587.7,68.8 L585.0,68.1 L582.5,67.7 L580.2,67.7 L577.9,68.0 L575.7,68.6 L573.6,69.3 L571.5,70.3 L569.4,71.5 L567.4,72.9 L565.5,74.5 L563.7,76.2 L562.0,78.0 L560.4,79.8 L558.9,81.8 L557.5,83.8 L556.1,86.0 L554.7,88.3 L553.2,90.8 L551.6,93.6 L549.9,96.6 L548.2,99.8 L546.4,103.0 L544.8,106.2 L543.2,109.1 L541.8,111.9 L540.5,114.6 L539.3,117.2 L538.1,119.7 L536.8,122.1 L535.2,124.5 L533.2,127.1 L530.9,129.8 L528.4,132.4 L526.0,134.9 L524.0,136.9 L522.5,138.4Z" fill="#36b0a9" fill-opacity="1"/>
<path d="M535.7,130.4 L537.0,129.0 L538.8,127.0 L540.9,124.7 L543.1,122.2 L545.3,119.6 L547.2,117.1 L548.7,114.8 L550.1,112.5 L551.4,110.1 L552.6,107.7 L553.9,105.2 L555.4,102.6 L557.0,99.8 L558.7,96.8 L560.5,93.7 L562.2,90.6 L563.9,87.6 L565.4,84.9 L566.7,82.4 L567.7,80.1 L568.7,77.9 L569.6,75.9 L570.6,74.0 L571.8,72.4 L573.2,70.8 L574.7,69.4 L576.4,68.1 L578.0,67.1 L579.7,66.3 L581.3,65.7 L582.8,65.5 L584.2,65.5 L585.6,65.7 L587.2,66.1 L589.1,66.7 L591.3,67.5 L593.9,68.8 L597.2,70.7 L600.6,72.8 L603.9,74.9 L606.7,76.7 L608.7,77.9 L608.8,77.7 L606.9,76.3 L604.3,74.3 L601.1,72.0 L597.8,69.7 L594.7,67.6 L592.0,66.1 L589.8,65.0 L587.9,64.1 L586.1,63.6 L584.3,63.4 L582.6,63.5 L580.8,63.9 L578.9,64.5 L577.1,65.5 L575.3,66.7 L573.6,68.1 L572.0,69.7 L570.6,71.4 L569.3,73.2 L568.3,75.2 L567.4,77.3 L566.5,79.6 L565.5,81.9 L564.3,84.4 L562.9,87.1 L561.2,90.0 L559.5,93.1 L557.8,96.3 L556.1,99.3 L554.5,102.2 L553.1,104.8 L551.8,107.3 L550.6,109.7 L549.3,112.1 L548.0,114.4 L546.5,116.7 L544.7,119.1 L542.5,121.6 L540.3,124.2 L538.2,126.5 L536.4,128.5 L535.1,129.9Z" fill="#3db6ae" fill-opacity="1"/>
<path d="M527.5,137.0 L528.9,135.5 L530.9,133.4 L533.3,130.9 L535.8,128.2 L538.1,125.5 L540.0,123.0 L541.5,120.6 L542.7,118.2 L543.8,115.8 L544.9,113.4 L546.0,110.9 L547.4,108.2 L549.0,105.3 L550.9,102.2 L552.8,99.0 L554.8,95.8 L556.7,92.7 L558.4,89.9 L559.8,87.4 L561.1,85.0 L562.3,82.7 L563.4,80.7 L564.6,78.8 L566.1,77.0 L567.7,75.3 L569.5,73.7 L571.4,72.2 L573.3,70.9 L575.2,69.9 L577.1,69.2 L579.0,68.9 L580.7,68.8 L582.6,68.9 L584.5,69.2 L586.7,69.7 L589.2,70.3 L592.2,71.2 L595.7,72.7 L599.5,74.3 L603.0,75.9 L606.1,77.2 L608.2,78.2 L608.3,78.0 L606.3,76.9 L603.3,75.3 L599.8,73.5 L596.1,71.7 L592.6,70.1 L589.6,68.8 L587.2,68.0 L584.9,67.3 L582.8,66.9 L580.7,66.8 L578.7,67.0 L576.6,67.5 L574.5,68.4 L572.4,69.5 L570.4,70.9 L568.5,72.5 L566.7,74.3 L565.0,76.1 L563.5,78.0 L562.3,80.0 L561.1,82.2 L560.0,84.4 L558.8,86.8 L557.4,89.4 L555.8,92.2 L553.9,95.2 L552.0,98.5 L550.0,101.7 L548.2,104.9 L546.6,107.8 L545.2,110.5 L544.1,113.1 L543.1,115.5 L542.0,117.9 L540.9,120.2 L539.4,122.6 L537.5,125.1 L535.2,127.8 L532.8,130.4 L530.4,132.9 L528.4,135.0 L527.0,136.5Z" fill="#2aa39d" fill-opacity="1"/>
<path d="M536.3,134.8 L537.7,133.2 L539.6,131.1 L541.8,128.6 L544.1,125.9 L546.4,123.2 L548.3,120.7 L549.8,118.3 L551.1,116.1 L552.3,113.8 L553.4,111.5 L554.6,109.0 L555.9,106.4 L557.5,103.5 L559.1,100.3 L560.9,96.9 L562.6,93.6 L564.2,90.5 L565.7,87.7 L567.0,85.3 L568.1,83.2 L569.2,81.2 L570.3,79.4 L571.4,77.8 L572.7,76.1 L574.1,74.5 L575.6,73.0 L577.2,71.5 L578.9,70.3 L580.5,69.3 L582.1,68.6 L583.6,68.1 L585.2,67.9 L586.7,67.9 L588.4,68.1 L590.2,68.5 L592.3,69.1 L594.9,70.3 L598.0,72.0 L601.3,74.0 L604.4,76.0 L607.1,77.7 L609.0,78.9 L609.2,78.7 L607.4,77.3 L604.8,75.4 L601.8,73.2 L598.7,71.0 L595.6,69.0 L593.0,67.6 L590.8,66.6 L588.8,66.0 L586.8,65.7 L585.0,65.8 L583.2,66.1 L581.4,66.7 L579.6,67.6 L577.8,68.8 L576.1,70.2 L574.4,71.8 L572.9,73.4 L571.5,75.2 L570.2,76.9 L569.0,78.7 L568.0,80.5 L567.0,82.6 L565.9,84.7 L564.6,87.2 L563.2,90.0 L561.6,93.1 L559.9,96.4 L558.2,99.8 L556.6,103.0 L555.1,106.0 L553.8,108.6 L552.6,111.1 L551.5,113.4 L550.4,115.7 L549.1,117.9 L547.6,120.2 L545.8,122.8 L543.6,125.5 L541.3,128.2 L539.0,130.7 L537.2,132.8 L535.8,134.3Z" fill="#3db6ae" fill-opacity="1"/>
<path d="M525.3,132.2 L526.6,130.7 L528.5,128.6 L530.7,126.1 L533.0,123.5 L535.2,120.8 L537.2,118.2 L538.7,115.9 L540.1,113.5 L541.4,111.1 L542.7,108.7 L544.1,106.2 L545.6,103.5 L547.3,100.6 L549.2,97.5 L551.2,94.2 L553.1,91.0 L555.0,88.0 L556.7,85.3 L558.1,82.8 L559.4,80.5 L560.6,78.4 L561.8,76.5 L563.0,74.8 L564.4,73.3 L566.1,71.8 L567.9,70.5 L569.7,69.3 L571.6,68.3 L573.6,67.5 L575.5,67.0 L577.4,66.7 L579.3,66.6 L581.2,66.8 L583.2,67.1 L585.4,67.6 L587.9,68.3 L590.9,69.6 L594.5,71.4 L598.2,73.5 L601.8,75.5 L604.8,77.3 L607.0,78.5 L607.1,78.3 L605.1,76.9 L602.2,74.9 L598.7,72.6 L595.1,70.3 L591.6,68.3 L588.6,66.7 L586.0,65.7 L583.7,65.0 L581.4,64.6 L579.3,64.5 L577.2,64.6 L575.1,65.0 L572.9,65.6 L570.8,66.5 L568.8,67.7 L566.8,69.0 L564.9,70.5 L563.2,72.1 L561.7,73.8 L560.4,75.7 L559.3,77.7 L558.1,79.8 L556.9,82.1 L555.5,84.5 L553.8,87.3 L552.0,90.3 L550.0,93.6 L548.1,96.8 L546.3,100.0 L544.6,102.9 L543.1,105.6 L541.7,108.2 L540.5,110.6 L539.2,113.0 L537.8,115.3 L536.3,117.6 L534.4,120.2 L532.3,122.8 L530.0,125.5 L527.8,127.9 L525.9,130.0 L524.6,131.5Z" fill="#2aa39d" fill-opacity="1"/>
<path d="M526.4,135.4 L527.8,133.9 L529.7,131.9 L532.0,129.5 L534.3,126.8 L536.6,124.2 L538.6,121.6 L540.1,119.2 L541.5,116.7 L542.7,114.2 L543.9,111.7 L545.2,109.1 L546.7,106.4 L548.5,103.5 L550.4,100.3 L552.5,97.1 L554.5,93.9 L556.4,90.9 L558.2,88.1 L559.7,85.7 L561.0,83.5 L562.2,81.5 L563.4,79.6 L564.7,77.8 L566.1,76.2 L567.6,74.6 L569.1,73.0 L570.7,71.5 L572.3,70.3 L574.0,69.3 L575.8,68.7 L577.6,68.3 L579.6,68.2 L581.6,68.3 L583.8,68.7 L586.2,69.1 L588.7,69.8 L591.7,71.0 L595.3,72.6 L598.9,74.5 L602.4,76.4 L605.4,78.0 L607.5,79.1 L607.6,78.8 L605.6,77.6 L602.7,75.8 L599.3,73.8 L595.7,71.7 L592.3,69.8 L589.3,68.4 L586.6,67.5 L584.2,66.8 L581.8,66.4 L579.6,66.3 L577.4,66.5 L575.3,66.9 L573.2,67.7 L571.3,68.9 L569.6,70.3 L568.0,71.8 L566.4,73.5 L564.9,75.2 L563.5,76.9 L562.2,78.8 L561.0,80.7 L559.8,82.8 L558.5,85.0 L557.1,87.5 L555.4,90.2 L553.5,93.2 L551.5,96.4 L549.4,99.7 L547.5,102.9 L545.8,105.8 L544.3,108.6 L543.0,111.2 L541.8,113.8 L540.6,116.2 L539.3,118.7 L537.7,121.0 L535.9,123.6 L533.6,126.2 L531.3,128.8 L529.0,131.2 L527.1,133.3 L525.7,134.7Z" fill="#3db6ae" fill-opacity="1"/>
<path d="M537.1,131.7 L538.4,130.3 L540.1,128.4 L542.2,126.2 L544.4,123.7 L546.5,121.1 L548.2,118.7 L549.7,116.4 L550.9,114.0 L552.0,111.6 L553.1,109.1 L554.3,106.6 L555.6,103.9 L557.2,101.0 L559.0,97.9 L560.9,94.7 L562.8,91.5 L564.5,88.5 L566.1,85.8 L567.5,83.4 L568.7,81.2 L569.8,79.2 L570.8,77.3 L571.9,75.6 L573.2,74.0 L574.5,72.4 L575.9,70.8 L577.3,69.4 L578.7,68.2 L580.2,67.2 L581.6,66.7 L583.2,66.4 L584.7,66.4 L586.4,66.7 L588.2,67.2 L590.2,67.8 L592.4,68.6 L594.9,69.9 L597.9,71.6 L601.0,73.7 L604.0,75.6 L606.5,77.3 L608.3,78.5 L608.4,78.3 L606.7,77.0 L604.3,75.1 L601.5,73.0 L598.5,70.8 L595.6,68.8 L593.0,67.3 L590.9,66.2 L588.8,65.3 L586.8,64.8 L584.9,64.5 L583.0,64.6 L581.1,64.9 L579.3,65.7 L577.7,66.8 L576.1,68.2 L574.7,69.7 L573.3,71.3 L571.9,73.0 L570.7,74.7 L569.6,76.6 L568.5,78.5 L567.5,80.5 L566.3,82.7 L565.0,85.1 L563.4,87.8 L561.7,90.9 L559.8,94.1 L558.0,97.3 L556.2,100.5 L554.6,103.4 L553.3,106.1 L552.1,108.7 L551.0,111.2 L550.0,113.5 L548.8,115.9 L547.4,118.2 L545.7,120.5 L543.6,123.0 L541.5,125.5 L539.4,127.8 L537.7,129.7 L536.4,131.1Z" fill="#3db6ae" fill-opacity="1"/>
<path d="M526.1,132.9 L527.4,131.5 L529.2,129.6 L531.3,127.3 L533.6,124.9 L535.8,122.3 L537.6,119.8 L539.2,117.3 L540.6,114.8 L541.9,112.2 L543.1,109.5 L544.5,106.8 L546.0,104.1 L547.7,101.2 L549.6,98.1 L551.6,95.0 L553.6,91.9 L555.5,89.0 L557.2,86.3 L558.7,83.9 L560.0,81.7 L561.1,79.7 L562.3,77.9 L563.5,76.2 L564.9,74.6 L566.5,72.9 L568.1,71.4 L569.8,69.9 L571.6,68.7 L573.4,67.7 L575.3,67.1 L577.1,66.8 L579.0,66.8 L581.0,67.1 L583.1,67.5 L585.5,68.1 L588.1,68.9 L591.3,70.0 L595.0,71.6 L598.9,73.5 L602.6,75.3 L605.7,76.8 L608.0,77.9 L608.1,77.7 L605.9,76.5 L602.8,74.8 L599.2,72.8 L595.4,70.8 L591.7,69.0 L588.6,67.6 L586.0,66.6 L583.6,65.9 L581.3,65.3 L579.1,65.1 L577.0,65.2 L574.9,65.6 L572.8,66.3 L570.8,67.4 L568.9,68.8 L567.1,70.3 L565.5,72.0 L563.9,73.7 L562.5,75.4 L561.2,77.2 L560.1,79.1 L558.9,81.1 L557.7,83.3 L556.3,85.7 L554.6,88.4 L552.7,91.3 L550.8,94.4 L548.8,97.6 L546.9,100.7 L545.2,103.6 L543.6,106.4 L542.3,109.1 L541.0,111.8 L539.8,114.4 L538.5,116.9 L537.0,119.3 L535.1,121.8 L533.0,124.3 L530.7,126.8 L528.6,129.1 L526.8,131.0 L525.5,132.4Z" fill="#3db6ae" fill-opacity="1"/>
<path d="M540.5,143.4 L541.0,142.5 L541.8,141.5 L542.7,140.1 L543.8,138.6 L544.9,137.0 L546.0,135.2 L547.1,133.2 L548.2,130.9 L549.3,128.6 L550.6,126.1 L551.8,123.6 L553.2,121.2 L554.7,118.9 L556.3,116.4 L558.0,114.0 L559.6,111.5 L561.2,109.1 L562.7,106.6 L563.9,104.2 L564.9,101.7 L565.8,99.3 L566.7,97.0 L567.6,94.9 L568.8,93.1 L570.1,91.3 L571.5,89.7 L572.9,88.2 L574.5,87.0 L576.2,85.9 L578.0,85.2 L580.0,84.7 L582.3,84.4 L584.7,84.3 L587.2,84.4 L589.7,84.7 L592.1,85.2 L594.6,86.2 L597.3,87.7 L600.1,89.5 L602.7,91.2 L605.0,92.8 L606.6,93.8 L606.7,93.6 L605.2,92.4 L603.2,90.7 L600.7,88.7 L598.0,86.7 L595.2,84.9 L592.6,83.7 L590.0,82.9 L587.4,82.3 L584.7,82.2 L582.1,82.3 L579.6,82.7 L577.3,83.3 L575.3,84.3 L573.4,85.5 L571.7,86.9 L570.2,88.5 L568.8,90.3 L567.4,92.2 L566.2,94.2 L565.3,96.5 L564.4,98.8 L563.6,101.2 L562.6,103.7 L561.5,106.0 L560.2,108.4 L558.6,110.8 L557.0,113.3 L555.3,115.8 L553.7,118.3 L552.3,120.7 L550.9,123.2 L549.7,125.7 L548.5,128.1 L547.3,130.5 L546.2,132.7 L545.2,134.7 L544.1,136.5 L543.1,138.2 L542.0,139.7 L541.1,141.0 L540.4,142.1 L539.8,142.9Z" fill="#2aa39d" fill-opacity="1"/>
<path d="M537.8,139.5 L538.4,138.8 L539.3,137.9 L540.4,136.8 L541.6,135.5 L542.8,134.1 L544.0,132.4 L545.2,130.5 L546.3,128.3 L547.5,125.9 L548.8,123.4 L550.1,120.9 L551.4,118.4 L552.9,116.0 L554.4,113.4 L556.0,110.8 L557.6,108.2 L559.2,105.7 L560.6,103.2 L561.8,100.9 L562.8,98.6 L563.8,96.4 L564.7,94.3 L565.8,92.4 L567.0,90.7 L568.4,89.1 L570.0,87.6 L571.6,86.3 L573.4,85.1 L575.2,84.2 L577.0,83.6 L579.0,83.3 L581.1,83.2 L583.3,83.4 L585.6,83.7 L588.0,84.1 L590.4,84.8 L593.1,85.8 L596.1,87.3 L599.2,89.0 L602.2,90.8 L604.6,92.2 L606.4,93.2 L606.6,93.0 L604.9,91.9 L602.5,90.2 L599.7,88.3 L596.7,86.4 L593.7,84.6 L591.0,83.3 L588.5,82.4 L586.0,81.7 L583.5,81.3 L581.1,81.2 L578.8,81.4 L576.6,81.9 L574.5,82.6 L572.5,83.7 L570.7,85.0 L568.9,86.4 L567.3,88.1 L565.8,89.8 L564.6,91.7 L563.5,93.7 L562.6,95.9 L561.7,98.1 L560.7,100.4 L559.6,102.7 L558.2,105.1 L556.7,107.6 L555.2,110.2 L553.6,112.9 L552.0,115.5 L550.6,118.0 L549.3,120.5 L548.0,123.0 L546.8,125.5 L545.6,127.9 L544.5,130.1 L543.3,132.0 L542.2,133.6 L541.0,135.1 L539.9,136.3 L538.8,137.4 L537.9,138.3 L537.2,139.0Z" fill="#36b0a9" fill-opacity="1"/>
<path d="M530.9,143.8 L531.5,143.1 L532.3,142.2 L533.3,141.1 L534.4,139.7 L535.6,138.2 L536.7,136.4 L537.9,134.4 L539.1,132.1 L540.3,129.6 L541.6,127.0 L543.0,124.4 L544.5,121.9 L546.0,119.4 L547.7,116.8 L549.5,114.3 L551.2,111.7 L552.9,109.2 L554.5,106.8 L556.0,104.4 L557.3,102.0 L558.5,99.7 L559.7,97.5 L561.0,95.5 L562.5,93.7 L564.0,92.0 L565.6,90.4 L567.3,89.0 L569.0,87.8 L570.9,86.8 L572.9,86.0 L575.1,85.4 L577.4,85.0 L579.9,84.8 L582.5,84.7 L585.1,84.9 L587.8,85.3 L590.8,86.4 L594.2,87.9 L597.6,89.8 L600.9,91.7 L603.7,93.3 L605.7,94.4 L605.8,94.2 L603.9,93.0 L601.2,91.2 L598.0,89.1 L594.6,87.1 L591.2,85.3 L588.2,84.1 L585.3,83.4 L582.5,83.0 L579.8,83.0 L577.2,83.3 L574.7,83.8 L572.3,84.5 L570.2,85.4 L568.2,86.5 L566.3,87.9 L564.6,89.4 L563.0,91.0 L561.4,92.8 L559.9,94.7 L558.6,96.8 L557.3,99.1 L556.1,101.4 L554.9,103.7 L553.5,106.1 L551.9,108.5 L550.2,111.0 L548.5,113.6 L546.8,116.2 L545.1,118.8 L543.5,121.3 L542.1,123.9 L540.7,126.5 L539.4,129.1 L538.2,131.6 L537.0,133.9 L535.9,135.9 L534.7,137.6 L533.6,139.1 L532.6,140.5 L531.6,141.6 L530.8,142.5 L530.2,143.2Z" fill="#2aa39d" fill-opacity="1"/>
<path d="M534.0,139.3 L534.6,138.5 L535.6,137.4 L536.7,136.1 L537.9,134.6 L539.2,133.0 L540.4,131.3 L541.7,129.4 L543.0,127.4 L544.3,125.2 L545.7,122.9 L547.1,120.6 L548.5,118.2 L550.0,115.7 L551.6,113.1 L553.2,110.4 L554.7,107.7 L556.2,105.1 L557.7,102.6 L558.9,100.3 L560.1,98.1 L561.1,96.0 L562.2,94.0 L563.4,92.2 L564.7,90.6 L566.3,89.1 L568.0,87.8 L569.7,86.6 L571.6,85.5 L573.6,84.7 L575.7,84.0 L577.9,83.5 L580.3,83.2 L582.8,83.0 L585.3,83.0 L587.8,83.2 L590.2,83.7 L592.9,84.9 L595.7,86.6 L598.7,88.8 L601.4,90.9 L603.7,92.7 L605.4,93.9 L605.6,93.7 L604.0,92.4 L601.8,90.4 L599.2,88.0 L596.4,85.7 L593.5,83.7 L590.8,82.2 L588.2,81.4 L585.4,80.9 L582.7,80.9 L580.1,81.1 L577.5,81.6 L575.2,82.2 L572.9,82.9 L570.8,83.9 L568.8,85.1 L566.9,86.4 L565.2,87.9 L563.6,89.5 L562.1,91.3 L560.9,93.3 L559.9,95.3 L558.8,97.5 L557.8,99.7 L556.6,102.0 L555.2,104.5 L553.7,107.1 L552.2,109.8 L550.6,112.5 L549.1,115.2 L547.7,117.7 L546.3,120.1 L544.9,122.4 L543.5,124.7 L542.2,126.9 L540.9,128.9 L539.7,130.8 L538.5,132.5 L537.3,134.1 L536.1,135.6 L535.0,136.9 L534.0,138.0 L533.4,138.8Z" fill="#2aa39d" fill-opacity="1"/>
<path d="M532.6,135.9 L533.3,135.2 L534.3,134.3 L535.5,133.1 L536.7,131.7 L538.0,130.1 L539.3,128.4 L540.4,126.4 L541.6,124.2 L542.7,121.8 L543.9,119.4 L545.2,116.9 L546.5,114.5 L548.0,112.0 L549.6,109.5 L551.3,107.0 L553.0,104.5 L554.6,102.1 L556.1,99.8 L557.5,97.7 L558.8,95.7 L559.9,93.8 L561.1,92.1 L562.4,90.4 L563.8,88.8 L565.4,87.2 L567.1,85.5 L568.8,84.0 L570.6,82.6 L572.5,81.6 L574.5,80.9 L576.7,80.6 L579.1,80.5 L581.6,80.8 L584.2,81.2 L586.8,81.8 L589.4,82.7 L592.2,84.0 L595.2,85.9 L598.2,88.1 L601.1,90.3 L603.5,92.1 L605.2,93.4 L605.4,93.2 L603.8,91.8 L601.5,89.7 L598.8,87.4 L595.9,84.9 L592.9,82.8 L590.1,81.2 L587.4,80.0 L584.7,79.1 L581.9,78.6 L579.1,78.4 L576.5,78.5 L574.0,78.9 L571.7,79.8 L569.6,81.0 L567.6,82.6 L565.9,84.2 L564.2,86.0 L562.6,87.7 L561.1,89.4 L559.8,91.2 L558.7,93.0 L557.5,95.0 L556.3,97.0 L555.0,99.1 L553.5,101.3 L551.9,103.8 L550.2,106.3 L548.6,108.9 L547.0,111.4 L545.5,113.9 L544.2,116.4 L542.9,118.9 L541.8,121.4 L540.6,123.8 L539.5,126.0 L538.4,127.9 L537.2,129.6 L536.0,131.1 L534.8,132.4 L533.6,133.6 L532.7,134.6 L532.0,135.3Z" fill="#3db6ae" fill-opacity="1"/>
<path d="M535.4,132.8 L536.1,132.0 L537.1,130.9 L538.4,129.6 L539.7,128.1 L541.0,126.4 L542.2,124.7 L543.3,122.9 L544.4,120.8 L545.4,118.7 L546.5,116.5 L547.7,114.2 L548.9,112.0 L550.3,109.7 L551.8,107.2 L553.4,104.8 L555.0,102.3 L556.5,99.9 L558.0,97.6 L559.3,95.4 L560.5,93.2 L561.6,91.0 L562.7,89.0 L563.9,87.2 L565.3,85.6 L566.8,84.1 L568.5,82.7 L570.2,81.5 L572.0,80.5 L573.8,79.7 L575.8,79.2 L577.9,79.0 L580.1,79.0 L582.5,79.2 L585.0,79.6 L587.5,80.3 L590.0,81.2 L592.7,82.5 L595.7,84.5 L598.7,86.8 L601.5,89.0 L603.9,90.9 L605.7,92.2 L605.8,92.0 L604.2,90.6 L601.9,88.5 L599.2,86.2 L596.2,83.7 L593.3,81.5 L590.6,79.9 L588.0,78.8 L585.4,77.9 L582.8,77.4 L580.2,77.2 L577.8,77.2 L575.5,77.5 L573.3,78.1 L571.2,79.0 L569.3,80.2 L567.5,81.5 L565.8,83.0 L564.2,84.6 L562.8,86.4 L561.5,88.3 L560.4,90.4 L559.3,92.6 L558.2,94.8 L556.9,97.0 L555.5,99.3 L554.0,101.7 L552.4,104.2 L550.9,106.6 L549.4,109.1 L548.0,111.4 L546.8,113.7 L545.6,116.0 L544.5,118.3 L543.5,120.4 L542.4,122.4 L541.4,124.2 L540.2,125.9 L538.9,127.5 L537.7,129.0 L536.5,130.3 L535.5,131.4 L534.7,132.2Z" fill="#2faaa3" fill-opacity="1"/>
<path d="M527.6,135.4 L528.3,134.7 L529.1,133.7 L530.2,132.5 L531.3,131.1 L532.6,129.5 L533.8,127.8 L535.1,125.8 L536.4,123.6 L537.8,121.1 L539.2,118.6 L540.7,116.1 L542.2,113.7 L543.7,111.3 L545.3,108.8 L547.0,106.3 L548.7,103.9 L550.3,101.5 L551.8,99.2 L553.2,97.0 L554.6,94.8 L555.8,92.7 L557.1,90.8 L558.5,89.0 L560.0,87.4 L561.7,86.0 L563.6,84.6 L565.5,83.3 L567.5,82.3 L569.6,81.5 L571.8,80.9 L574.1,80.7 L576.6,80.8 L579.2,81.0 L581.9,81.5 L584.6,82.0 L587.4,82.8 L590.5,84.0 L594.0,85.7 L597.5,87.6 L600.9,89.6 L603.7,91.2 L605.7,92.3 L605.9,92.1 L603.9,90.8 L601.2,89.0 L598.0,86.9 L594.5,84.7 L591.1,82.8 L588.0,81.3 L585.1,80.3 L582.3,79.4 L579.4,78.9 L576.7,78.7 L574.0,78.8 L571.5,79.1 L569.1,79.7 L566.8,80.6 L564.6,81.8 L562.6,83.2 L560.7,84.7 L558.9,86.3 L557.3,88.0 L555.9,90.0 L554.6,92.0 L553.4,94.1 L552.1,96.3 L550.7,98.5 L549.2,100.8 L547.7,103.2 L546.0,105.7 L544.4,108.2 L542.8,110.7 L541.3,113.1 L539.8,115.6 L538.4,118.1 L536.9,120.7 L535.6,123.1 L534.3,125.3 L533.0,127.3 L531.8,129.0 L530.6,130.6 L529.5,131.9 L528.5,133.1 L527.6,134.1 L527.0,134.9Z" fill="#2aa39d" fill-opacity="1"/>
<path d="M533.8,137.5 L534.4,136.6 L535.2,135.5 L536.2,134.1 L537.2,132.5 L538.4,130.8 L539.5,129.0 L540.7,127.1 L541.9,125.0 L543.2,122.7 L544.6,120.4 L546.0,118.0 L547.4,115.6 L548.9,113.2 L550.5,110.7 L552.2,108.1 L553.8,105.5 L555.4,103.1 L556.9,100.8 L558.3,98.6 L559.5,96.6 L560.7,94.7 L561.9,92.8 L563.2,91.1 L564.5,89.5 L566.0,87.9 L567.5,86.3 L569.1,84.8 L570.7,83.6 L572.4,82.6 L574.3,81.9 L576.5,81.6 L578.9,81.5 L581.5,81.7 L584.2,82.1 L586.9,82.6 L589.6,83.4 L592.4,84.6 L595.5,86.5 L598.7,88.6 L601.7,90.6 L604.2,92.4 L606.0,93.7 L606.2,93.4 L604.5,92.1 L602.1,90.1 L599.3,87.8 L596.2,85.5 L593.1,83.4 L590.2,81.8 L587.4,80.7 L584.6,79.9 L581.7,79.5 L578.9,79.4 L576.3,79.5 L573.8,80.0 L571.6,80.8 L569.6,82.0 L567.9,83.5 L566.3,85.1 L564.8,86.8 L563.3,88.4 L561.9,90.2 L560.7,92.0 L559.5,93.9 L558.3,95.9 L557.1,98.0 L555.8,100.1 L554.4,102.4 L552.8,104.9 L551.2,107.5 L549.6,110.1 L548.0,112.7 L546.5,115.1 L545.1,117.5 L543.8,119.9 L542.4,122.2 L541.1,124.5 L539.9,126.6 L538.8,128.6 L537.7,130.3 L536.6,132.1 L535.5,133.6 L534.6,135.0 L533.8,136.2 L533.2,137.0Z" fill="#3db6ae" fill-opacity="1"/>
<path d="M544.9,128.6 L545.2,128.0 L545.7,127.1 L546.2,126.1 L546.8,124.9 L547.6,123.6 L548.4,122.2 L549.4,120.6 L550.4,118.9 L551.6,117.1 L552.9,115.2 L554.2,113.3 L555.4,111.5 L556.7,109.8 L557.9,108.0 L559.2,106.2 L560.5,104.5 L561.9,102.9 L563.2,101.5 L564.6,100.2 L565.9,99.0 L567.3,97.9 L568.7,96.9 L570.1,96.1 L571.8,95.5 L573.5,94.9 L575.5,94.5 L577.4,94.2 L579.5,94.1 L581.6,94.2 L583.7,94.6 L586.0,95.5 L588.8,97.0 L591.6,98.8 L594.2,100.7 L596.5,102.3 L598.1,103.3 L598.3,103.1 L596.8,101.9 L594.6,100.2 L592.1,98.1 L589.4,96.1 L586.7,94.3 L584.2,93.1 L581.8,92.5 L579.5,92.3 L577.3,92.5 L575.1,92.8 L573.1,93.4 L571.2,94.0 L569.5,94.8 L567.9,95.7 L566.4,96.8 L565.1,98.0 L563.7,99.3 L562.4,100.7 L561.0,102.2 L559.7,103.8 L558.4,105.6 L557.1,107.4 L555.9,109.2 L554.7,111.0 L553.4,112.8 L552.2,114.7 L551.0,116.6 L549.8,118.5 L548.7,120.2 L547.8,121.8 L547.0,123.2 L546.2,124.5 L545.6,125.8 L545.1,126.8 L544.6,127.7 L544.3,128.4Z" fill="#2faaa3" fill-opacity="1"/>
<path d="M547.5,131.4 L547.8,130.7 L548.3,129.8 L548.8,128.7 L549.5,127.5 L550.2,126.2 L551.0,124.9 L552.0,123.4 L553.0,121.8 L554.2,120.1 L555.4,118.4 L556.6,116.6 L557.8,114.9 L559.0,113.2 L560.1,111.4 L561.2,109.7 L562.4,107.9 L563.6,106.3 L564.9,104.8 L566.2,103.4 L567.5,102.0 L568.9,100.7 L570.3,99.5 L571.7,98.6 L573.2,97.8 L574.9,97.2 L576.7,96.8 L578.5,96.5 L580.4,96.4 L582.3,96.5 L584.2,96.7 L586.4,97.4 L588.9,98.5 L591.5,100.0 L594.0,101.4 L596.1,102.7 L597.6,103.5 L597.7,103.3 L596.4,102.2 L594.4,100.8 L592.1,99.1 L589.6,97.4 L587.1,95.9 L584.7,94.9 L582.5,94.3 L580.4,94.2 L578.2,94.4 L576.2,94.8 L574.3,95.4 L572.5,96.1 L570.8,97.0 L569.2,98.1 L567.7,99.4 L566.3,100.9 L565.0,102.3 L563.7,103.8 L562.5,105.4 L561.3,107.1 L560.1,108.9 L559.0,110.7 L557.9,112.5 L556.8,114.3 L555.7,116.0 L554.5,117.8 L553.3,119.5 L552.2,121.3 L551.1,122.9 L550.2,124.4 L549.4,125.8 L548.7,127.1 L548.0,128.3 L547.5,129.4 L547.0,130.3 L546.7,131.0Z" fill="#36b0a9" fill-opacity="1"/>
<path d="M552.2,137.2 L552.6,136.5 L553.2,135.6 L553.8,134.6 L554.6,133.3 L555.4,132.0 L556.2,130.5 L557.0,128.9 L557.9,127.1 L558.8,125.2 L559.8,123.2 L560.8,121.2 L561.8,119.3 L562.9,117.5 L564.1,115.6 L565.3,113.7 L566.5,111.9 L567.7,110.2 L569.0,108.6 L570.2,107.1 L571.4,105.7 L572.7,104.4 L573.9,103.2 L575.2,102.2 L576.6,101.3 L578.2,100.4 L579.8,99.7 L581.5,99.0 L583.1,98.6 L584.8,98.4 L586.5,98.4 L588.5,98.9 L590.8,99.9 L593.2,101.2 L595.4,102.5 L597.4,103.7 L598.8,104.5 L598.9,104.3 L597.6,103.4 L595.8,102.0 L593.7,100.4 L591.4,98.8 L589.0,97.5 L586.8,96.7 L584.8,96.4 L582.8,96.7 L580.9,97.2 L579.1,98.0 L577.4,98.9 L575.8,99.8 L574.3,100.8 L572.9,102.0 L571.6,103.3 L570.3,104.7 L569.1,106.2 L567.9,107.7 L566.7,109.4 L565.4,111.1 L564.2,113.0 L563.0,114.9 L561.9,116.9 L560.8,118.8 L559.8,120.7 L558.8,122.7 L557.9,124.7 L557.0,126.7 L556.1,128.5 L555.3,130.1 L554.5,131.5 L553.8,132.9 L553.0,134.1 L552.4,135.2 L551.9,136.1 L551.4,136.7Z" fill="#36b0a9" fill-opacity="1"/>
<path d="M551.4,136.1 L551.9,135.5 L552.6,134.7 L553.4,133.7 L554.3,132.5 L555.2,131.3 L556.1,129.8 L557.1,128.2 L558.0,126.4 L559.0,124.5 L560.0,122.5 L561.0,120.5 L562.0,118.6 L563.1,116.8 L564.1,115.0 L565.1,113.3 L566.2,111.5 L567.3,109.9 L568.5,108.3 L569.7,106.8 L571.0,105.3 L572.3,103.8 L573.7,102.5 L575.1,101.4 L576.6,100.5 L578.1,99.8 L579.8,99.2 L581.4,98.8 L583.1,98.6 L584.8,98.5 L586.5,98.6 L588.4,99.0 L590.6,100.0 L592.9,101.2 L595.1,102.4 L596.9,103.5 L598.3,104.2 L598.4,104.0 L597.2,103.1 L595.5,101.8 L593.5,100.3 L591.3,98.8 L589.1,97.5 L586.9,96.7 L584.9,96.3 L582.9,96.4 L581.0,96.7 L579.1,97.3 L577.3,98.0 L575.6,98.9 L574.0,99.9 L572.5,101.2 L571.1,102.7 L569.7,104.2 L568.5,105.8 L567.2,107.4 L566.1,109.1 L565.0,110.8 L563.9,112.6 L562.9,114.4 L561.9,116.2 L560.9,118.1 L559.9,120.0 L559.0,122.0 L558.0,124.0 L557.0,125.9 L556.1,127.7 L555.3,129.3 L554.4,130.7 L553.5,131.9 L552.6,133.1 L551.8,134.1 L551.1,134.9 L550.7,135.5Z" fill="#2faaa3" fill-opacity="1"/>
<path d="M546.8,125.7 L547.2,125.0 L547.7,124.1 L548.3,123.0 L548.9,121.8 L549.7,120.5 L550.5,119.1 L551.5,117.7 L552.5,116.3 L553.6,114.7 L554.8,113.1 L556.1,111.4 L557.3,109.8 L558.6,108.1 L559.9,106.2 L561.3,104.4 L562.7,102.6 L564.1,100.9 L565.4,99.5 L566.7,98.3 L567.9,97.3 L569.1,96.4 L570.3,95.7 L571.6,95.1 L573.1,94.6 L574.8,94.1 L576.6,93.7 L578.5,93.4 L580.5,93.4 L582.4,93.5 L584.4,93.9 L586.6,94.9 L589.1,96.5 L591.8,98.5 L594.3,100.5 L596.4,102.2 L597.9,103.3 L598.1,103.1 L596.7,101.8 L594.8,99.9 L592.4,97.7 L589.9,95.5 L587.4,93.5 L585.1,92.2 L582.8,91.4 L580.5,91.2 L578.3,91.4 L576.2,91.8 L574.3,92.3 L572.5,92.8 L570.9,93.5 L569.5,94.2 L568.2,95.1 L567.0,96.1 L565.7,97.3 L564.5,98.6 L563.1,100.1 L561.7,101.8 L560.4,103.7 L559.0,105.6 L557.7,107.4 L556.5,109.2 L555.3,110.9 L554.1,112.5 L552.9,114.2 L551.8,115.8 L550.8,117.3 L549.9,118.7 L549.1,120.1 L548.3,121.4 L547.6,122.7 L547.0,123.8 L546.6,124.7 L546.2,125.4Z" fill="#2faaa3" fill-opacity="1"/>
<path d="M545.0,138.0 L545.4,137.3 L545.9,136.3 L546.4,135.2 L547.1,133.9 L547.8,132.5 L548.6,130.9 L549.5,129.3 L550.5,127.4 L551.6,125.4 L552.8,123.4 L554.0,121.4 L555.1,119.5 L556.3,117.7 L557.5,116.0 L558.6,114.3 L559.9,112.7 L561.1,111.1 L562.5,109.5 L564.0,107.9 L565.5,106.2 L567.0,104.6 L568.6,103.1 L570.3,101.9 L572.0,100.9 L573.8,100.1 L575.8,99.5 L577.7,99.1 L579.8,98.9 L581.8,98.9 L583.8,99.0 L586.1,99.6 L588.7,100.5 L591.3,101.8 L593.8,103.0 L595.9,104.1 L597.5,104.8 L597.6,104.6 L596.2,103.7 L594.2,102.4 L591.8,100.9 L589.2,99.5 L586.6,98.2 L584.2,97.4 L581.9,97.0 L579.6,97.0 L577.4,97.3 L575.3,97.8 L573.2,98.5 L571.3,99.4 L569.4,100.5 L567.6,101.9 L566.0,103.5 L564.4,105.2 L562.9,106.9 L561.5,108.6 L560.1,110.2 L558.8,111.9 L557.6,113.6 L556.5,115.4 L555.4,117.1 L554.2,118.9 L553.1,120.9 L551.9,122.9 L550.8,124.9 L549.7,126.9 L548.7,128.8 L547.8,130.5 L547.0,132.0 L546.3,133.5 L545.7,134.8 L545.1,136.0 L544.6,136.9 L544.3,137.7Z" fill="#2aa39d" fill-opacity="1"/>
<path d="M539.5,127.3 L539.9,126.6 L540.5,125.6 L541.2,124.4 L542.0,123.1 L542.9,121.7 L543.8,120.2 L544.8,118.7 L545.9,117.0 L547.1,115.2 L548.3,113.4 L549.6,111.6 L550.8,109.9 L552.0,108.3 L553.2,106.7 L554.4,105.2 L555.7,103.7 L557.0,102.3 L558.4,101.0 L559.8,99.6 L561.3,98.3 L562.9,97.0 L564.5,95.9 L566.2,95.0 L568.0,94.4 L570.0,94.0 L572.2,93.7 L574.5,93.7 L576.8,93.9 L579.2,94.2 L581.6,94.7 L584.2,95.7 L587.1,97.1 L590.1,98.8 L592.9,100.5 L595.3,102.0 L597.0,103.0 L597.1,102.8 L595.5,101.6 L593.3,99.9 L590.6,98.0 L587.7,96.0 L584.9,94.3 L582.2,93.0 L579.6,92.2 L577.0,91.8 L574.5,91.7 L572.0,91.8 L569.7,92.2 L567.5,92.7 L565.5,93.5 L563.6,94.6 L561.9,95.8 L560.3,97.2 L558.9,98.6 L557.4,100.0 L556.0,101.4 L554.7,102.9 L553.5,104.5 L552.3,106.0 L551.1,107.7 L550.0,109.3 L548.8,111.0 L547.5,112.8 L546.3,114.7 L545.1,116.5 L544.1,118.2 L543.1,119.8 L542.2,121.3 L541.3,122.7 L540.5,124.0 L539.8,125.2 L539.3,126.2 L538.9,127.0Z" fill="#2aa39d" fill-opacity="1"/>
<path d="M550.9,130.8 L551.4,130.1 L552.0,129.2 L552.8,128.1 L553.6,126.8 L554.5,125.4 L555.4,124.0 L556.2,122.4 L557.1,120.7 L558.0,118.9 L558.9,117.1 L559.8,115.3 L560.9,113.5 L562.1,111.8 L563.3,110.0 L564.7,108.2 L566.0,106.5 L567.4,104.8 L568.7,103.4 L569.9,102.0 L571.0,100.8 L572.0,99.7 L573.1,98.7 L574.3,97.9 L575.6,97.3 L577.2,96.7 L579.0,96.1 L580.8,95.7 L582.7,95.5 L584.5,95.6 L586.3,95.9 L588.2,96.7 L590.5,98.1 L592.7,99.8 L594.9,101.6 L596.7,103.2 L598.1,104.2 L598.2,104.0 L597.1,102.8 L595.4,101.1 L593.4,99.1 L591.2,97.1 L589.0,95.4 L586.9,94.2 L584.8,93.6 L582.6,93.5 L580.5,93.8 L578.5,94.3 L576.6,95.0 L574.9,95.7 L573.4,96.5 L572.1,97.5 L571.0,98.6 L569.9,99.8 L568.8,101.1 L567.7,102.5 L566.4,104.0 L565.1,105.7 L563.8,107.5 L562.5,109.3 L561.2,111.2 L560.1,113.0 L559.0,114.8 L558.1,116.7 L557.2,118.5 L556.4,120.4 L555.5,122.1 L554.7,123.6 L553.9,125.0 L553.1,126.4 L552.2,127.7 L551.5,128.8 L550.8,129.7 L550.3,130.4Z" fill="#3db6ae" fill-opacity="1"/>
<path d="M513.7,128.9 L514.9,127.1 L516.4,124.5 L518.3,121.5 L520.3,118.1 L522.4,114.6 L524.5,111.2 L526.5,107.6 L528.6,103.9 L530.8,99.9 L533.0,96.0 L535.3,92.2 L537.5,88.5 L539.7,85.1 L541.9,81.7 L544.1,78.5 L546.3,75.3 L548.5,72.3 L550.7,69.4 L552.9,66.6 L555.1,63.9 L557.3,61.3 L559.5,58.9 L561.7,56.6 L563.9,54.6 L566.0,52.8 L568.0,51.3 L570.0,49.9 L572.1,48.7 L574.2,47.5 L576.5,46.5 L579.0,45.4 L581.6,44.4 L584.3,43.5 L587.0,42.8 L589.6,42.2 L592.0,41.9 L594.6,42.0 L597.3,42.6 L600.0,43.4 L602.5,44.2 L604.6,45.0 L606.2,45.4 L606.2,45.2 L604.7,44.6 L602.7,43.7 L600.2,42.7 L597.5,41.7 L594.8,41.0 L592.0,40.6 L589.4,40.8 L586.6,41.2 L583.8,41.9 L581.0,42.9 L578.4,44.0 L575.9,45.1 L573.5,46.2 L571.3,47.4 L569.2,48.7 L567.2,50.1 L565.1,51.8 L563.0,53.6 L560.8,55.7 L558.6,58.0 L556.4,60.5 L554.2,63.1 L552.0,65.9 L549.8,68.7 L547.6,71.7 L545.4,74.7 L543.2,77.9 L541.0,81.2 L538.8,84.6 L536.6,88.0 L534.4,91.7 L532.2,95.5 L530.0,99.5 L527.9,103.4 L525.8,107.2 L523.7,110.7 L521.7,114.2 L519.6,117.7 L517.6,121.0 L515.7,124.1 L514.2,126.6 L513.0,128.5Z" fill="#2faaa3" fill-opacity="1"/>
<path d="M507.9,123.3 L509.0,121.4 L510.6,118.9 L512.5,115.8 L514.6,112.5 L516.7,109.1 L518.8,105.7 L520.9,102.3 L523.0,98.7 L525.3,95.0 L527.5,91.3 L529.8,87.6 L532.0,84.0 L534.3,80.5 L536.5,77.0 L538.8,73.5 L541.1,70.2 L543.3,67.0 L545.5,64.1 L547.8,61.5 L549.9,59.0 L552.1,56.7 L554.3,54.6 L556.5,52.6 L558.7,50.7 L561.0,49.0 L563.2,47.5 L565.5,46.1 L567.8,44.8 L570.2,43.7 L572.6,42.7 L575.2,41.8 L577.9,41.1 L580.6,40.5 L583.3,39.9 L586.0,39.5 L588.5,39.3 L591.1,39.5 L593.8,39.9 L596.6,40.6 L599.1,41.3 L601.2,41.9 L602.8,42.3 L602.8,42.1 L601.3,41.5 L599.3,40.7 L596.8,39.8 L594.1,38.9 L591.3,38.2 L588.6,37.9 L585.9,37.9 L583.1,38.1 L580.2,38.6 L577.4,39.3 L574.6,40.1 L572.0,41.1 L569.5,42.1 L567.0,43.3 L564.7,44.7 L562.4,46.2 L560.1,47.8 L557.8,49.6 L555.6,51.5 L553.4,53.6 L551.2,55.8 L549.0,58.1 L546.8,60.7 L544.6,63.4 L542.4,66.3 L540.1,69.6 L537.9,72.9 L535.6,76.4 L533.4,80.0 L531.2,83.5 L528.9,87.1 L526.7,90.8 L524.5,94.5 L522.3,98.3 L520.1,101.9 L518.1,105.3 L516.0,108.6 L513.9,112.1 L511.8,115.4 L509.9,118.4 L508.4,121.0 L507.2,122.8Z" fill="#2faaa3" fill-opacity="1"/>
<path d="M512.8,131.6 L514.0,129.7 L515.7,127.1 L517.6,124.0 L519.8,120.6 L522.0,117.1 L524.1,113.6 L526.2,110.2 L528.4,106.5 L530.6,102.7 L532.8,98.9 L535.0,95.1 L537.3,91.5 L539.4,88.0 L541.6,84.5 L543.8,81.0 L546.0,77.7 L548.1,74.5 L550.3,71.5 L552.4,68.7 L554.4,65.9 L556.5,63.4 L558.5,61.0 L560.6,58.8 L562.8,56.8 L564.9,55.1 L567.2,53.6 L569.4,52.3 L571.7,51.1 L574.1,50.0 L576.5,48.9 L579.0,47.8 L581.6,46.7 L584.2,45.7 L586.7,44.8 L589.2,44.1 L591.5,43.8 L593.9,43.8 L596.5,44.3 L599.0,45.0 L601.4,45.8 L603.3,46.4 L604.8,46.9 L604.9,46.7 L603.5,46.1 L601.5,45.3 L599.2,44.3 L596.7,43.4 L594.1,42.7 L591.5,42.5 L588.9,42.7 L586.3,43.2 L583.6,44.1 L580.9,45.1 L578.3,46.3 L575.8,47.4 L573.4,48.5 L571.0,49.7 L568.7,51.0 L566.4,52.3 L564.1,53.9 L561.8,55.8 L559.7,57.8 L557.5,60.1 L555.5,62.6 L553.4,65.2 L551.4,67.9 L549.3,70.8 L547.1,73.8 L545.0,77.0 L542.8,80.4 L540.7,83.9 L538.5,87.4 L536.3,90.9 L534.1,94.6 L531.9,98.3 L529.7,102.2 L527.5,106.0 L525.3,109.6 L523.3,113.1 L521.1,116.6 L519.0,120.1 L516.8,123.5 L514.8,126.6 L513.2,129.2 L512.0,131.1Z" fill="#36b0a9" fill-opacity="1"/>
<path d="M508.2,124.6 L509.5,122.7 L511.1,120.2 L513.2,117.1 L515.3,113.8 L517.6,110.3 L519.7,106.9 L521.8,103.4 L523.9,99.7 L526.1,95.9 L528.3,92.0 L530.5,88.3 L532.6,84.7 L534.7,81.3 L536.8,77.9 L538.8,74.7 L540.8,71.5 L542.9,68.5 L545.1,65.6 L547.3,63.0 L549.7,60.4 L552.0,58.0 L554.4,55.7 L556.8,53.6 L559.1,51.7 L561.3,50.0 L563.4,48.5 L565.4,47.1 L567.5,45.9 L569.7,44.8 L572.1,43.7 L574.7,42.8 L577.6,41.9 L580.6,41.0 L583.5,40.4 L586.4,39.9 L589.0,39.6 L591.5,39.8 L594.1,40.3 L596.7,41.2 L599.1,42.0 L601.1,42.8 L602.5,43.3 L602.6,43.1 L601.2,42.4 L599.3,41.5 L597.0,40.4 L594.4,39.4 L591.7,38.6 L589.0,38.2 L586.2,38.3 L583.2,38.6 L580.1,39.3 L577.1,40.2 L574.2,41.1 L571.5,42.2 L569.0,43.3 L566.8,44.5 L564.6,45.8 L562.5,47.2 L560.4,48.8 L558.2,50.6 L555.9,52.6 L553.5,54.8 L551.1,57.1 L548.7,59.6 L546.4,62.2 L544.1,64.9 L542.0,67.8 L539.9,70.9 L537.9,74.1 L535.9,77.4 L533.8,80.8 L531.8,84.2 L529.6,87.8 L527.5,91.6 L525.3,95.4 L523.1,99.2 L521.0,102.9 L519.0,106.4 L516.8,109.8 L514.6,113.3 L512.4,116.7 L510.4,119.7 L508.8,122.3 L507.5,124.2Z" fill="#3db6ae" fill-opacity="1"/>
<path d="M511.0,122.6 L512.2,120.8 L513.8,118.3 L515.7,115.3 L517.8,112.0 L520.0,108.6 L522.0,105.2 L524.1,101.8 L526.3,98.1 L528.5,94.3 L530.7,90.5 L533.0,86.7 L535.3,83.1 L537.5,79.6 L539.8,76.1 L542.1,72.6 L544.4,69.3 L546.7,66.2 L548.9,63.3 L551.0,60.6 L553.0,58.2 L555.0,56.0 L556.9,53.9 L559.0,52.0 L561.1,50.2 L563.4,48.5 L565.8,46.9 L568.2,45.5 L570.7,44.2 L573.2,43.1 L575.7,42.1 L578.2,41.3 L580.7,40.6 L583.3,40.1 L585.9,39.7 L588.4,39.3 L590.8,39.2 L593.2,39.3 L595.9,39.8 L598.5,40.4 L600.9,41.1 L603.0,41.7 L604.5,42.1 L604.6,41.9 L603.1,41.3 L601.1,40.5 L598.8,39.6 L596.1,38.7 L593.4,38.0 L590.8,37.7 L588.3,37.6 L585.6,37.7 L582.9,38.1 L580.3,38.7 L577.6,39.5 L575.0,40.4 L572.5,41.5 L570.0,42.7 L567.4,44.1 L565.0,45.6 L562.5,47.3 L560.2,49.1 L558.1,51.0 L556.0,53.0 L554.0,55.1 L552.1,57.4 L550.1,59.9 L548.0,62.6 L545.8,65.5 L543.6,68.7 L541.3,72.0 L539.0,75.5 L536.7,79.1 L534.5,82.6 L532.3,86.2 L530.0,90.0 L527.8,93.9 L525.6,97.7 L523.5,101.4 L521.4,104.8 L519.4,108.2 L517.2,111.6 L515.1,114.9 L513.2,117.9 L511.7,120.4 L510.5,122.2Z" fill="#3db6ae" fill-opacity="1"/>
<path d="M516.3,130.0 L517.4,128.2 L518.8,125.6 L520.5,122.5 L522.4,119.1 L524.4,115.6 L526.5,112.2 L528.6,108.8 L530.9,105.1 L533.3,101.3 L535.7,97.5 L538.1,93.8 L540.4,90.1 L542.6,86.5 L544.8,82.9 L546.9,79.3 L549.1,75.8 L551.1,72.6 L553.2,69.5 L555.2,66.7 L557.2,64.1 L559.1,61.7 L561.0,59.4 L562.9,57.4 L565.0,55.5 L567.2,53.7 L569.5,52.2 L571.9,50.8 L574.3,49.6 L576.7,48.5 L579.1,47.4 L581.6,46.3 L584.2,45.3 L586.8,44.3 L589.3,43.5 L591.7,42.9 L594.0,42.6 L596.4,42.7 L598.9,43.3 L601.5,44.1 L603.8,45.0 L605.8,45.8 L607.3,46.2 L607.4,46.0 L606.0,45.4 L604.1,44.4 L601.8,43.3 L599.2,42.3 L596.6,41.5 L594.0,41.1 L591.4,41.3 L588.8,41.7 L586.1,42.5 L583.5,43.6 L580.9,44.7 L578.5,45.8 L576.0,47.0 L573.5,48.2 L571.1,49.5 L568.7,50.9 L566.4,52.6 L564.1,54.4 L562.0,56.4 L560.0,58.6 L558.1,60.9 L556.2,63.4 L554.3,66.0 L552.3,68.9 L550.2,72.0 L548.2,75.3 L546.1,78.8 L544.0,82.4 L541.8,86.0 L539.6,89.6 L537.3,93.3 L535.0,97.1 L532.6,100.9 L530.2,104.7 L527.9,108.4 L525.8,111.8 L523.8,115.3 L521.8,118.8 L519.9,122.2 L518.2,125.2 L516.8,127.8 L515.7,129.7Z" fill="#2aa39d" fill-opacity="1"/>
<path d="M510.6,120.4 L511.7,118.6 L513.2,116.2 L515.1,113.3 L517.1,110.1 L519.1,106.7 L521.2,103.4 L523.2,99.8 L525.3,96.0 L527.5,92.1 L529.7,88.1 L531.9,84.2 L534.1,80.6 L536.3,77.1 L538.5,73.7 L540.8,70.4 L543.0,67.3 L545.2,64.3 L547.4,61.5 L549.6,58.9 L551.8,56.5 L553.9,54.3 L556.1,52.2 L558.3,50.2 L560.6,48.4 L562.9,46.6 L565.1,45.0 L567.5,43.6 L569.8,42.3 L572.2,41.1 L574.6,40.1 L577.2,39.3 L579.9,38.6 L582.6,38.0 L585.3,37.6 L587.9,37.3 L590.4,37.2 L592.9,37.4 L595.5,38.0 L598.1,38.8 L600.5,39.6 L602.6,40.4 L604.1,40.8 L604.1,40.6 L602.7,40.1 L600.7,39.2 L598.4,38.2 L595.8,37.2 L593.1,36.4 L590.5,36.0 L587.8,35.9 L585.1,36.0 L582.3,36.4 L579.5,37.0 L576.8,37.8 L574.1,38.7 L571.6,39.8 L569.2,41.0 L566.8,42.4 L564.4,44.0 L562.1,45.6 L559.8,47.4 L557.6,49.3 L555.3,51.3 L553.1,53.5 L551.0,55.8 L548.8,58.2 L546.6,60.9 L544.4,63.7 L542.2,66.7 L540.0,69.9 L537.8,73.2 L535.6,76.6 L533.4,80.1 L531.2,83.8 L529.0,87.7 L526.8,91.7 L524.6,95.7 L522.5,99.5 L520.5,103.0 L518.5,106.4 L516.4,109.7 L514.4,112.9 L512.6,115.8 L511.1,118.3 L510.0,120.1Z" fill="#2faaa3" fill-opacity="1"/>
<path d="M512.8,142.6 L514.3,142.7 L516.5,142.9 L519.0,143.1 L521.7,143.2 L524.5,143.2 L527.1,143.0 L529.6,142.6 L532.1,142.0 L534.6,141.2 L537.0,140.4 L539.4,139.5 L541.7,138.6 L543.7,137.6 L545.6,136.4 L547.4,135.2 L549.2,134.0 L551.1,132.9 L553.0,132.0 L555.2,131.2 L557.6,130.5 L560.1,129.8 L562.5,129.2 L564.9,128.7 L567.2,128.3 L569.4,128.0 L571.4,127.8 L573.4,127.6 L575.3,127.5 L577.3,127.6 L579.3,127.9 L581.5,128.3 L583.7,128.8 L585.9,129.4 L588.1,130.2 L590.3,131.2 L592.5,132.4 L594.7,134.3 L597.0,136.8 L599.3,139.6 L601.4,142.3 L603.2,144.6 L604.6,146.3 L604.7,146.1 L603.5,144.4 L601.9,142.0 L599.9,139.1 L597.7,136.2 L595.5,133.5 L593.3,131.4 L591.1,129.9 L588.8,128.6 L586.5,127.7 L584.1,127.1 L581.8,126.6 L579.6,126.3 L577.4,126.0 L575.3,126.0 L573.3,126.1 L571.3,126.3 L569.2,126.6 L567.0,127.0 L564.7,127.4 L562.2,127.9 L559.7,128.6 L557.3,129.3 L554.8,130.0 L552.6,130.9 L550.5,131.9 L548.6,133.1 L546.8,134.3 L545.1,135.5 L543.2,136.6 L541.2,137.6 L539.0,138.5 L536.7,139.4 L534.3,140.3 L531.8,141.0 L529.4,141.6 L527.0,142.1 L524.5,142.3 L521.8,142.3 L519.1,142.2 L516.5,142.0 L514.4,141.8 L512.8,141.7Z" fill="#3db6ae" fill-opacity="1"/>
<path d="M504.4,141.6 L505.9,141.6 L507.9,141.7 L510.3,141.8 L513.0,141.8 L515.6,141.8 L518.0,141.6 L520.3,141.3 L522.6,141.0 L524.9,140.6 L527.2,140.1 L529.4,139.4 L531.8,138.6 L534.1,137.5 L536.4,136.2 L538.7,134.7 L540.9,133.3 L543.2,132.0 L545.5,130.9 L547.9,130.0 L550.2,129.2 L552.6,128.6 L555.0,128.0 L557.4,127.6 L559.8,127.3 L562.2,127.1 L564.6,127.1 L567.0,127.2 L569.4,127.3 L571.9,127.6 L574.3,128.0 L576.8,128.4 L579.3,128.7 L581.9,129.2 L584.3,129.8 L586.8,130.6 L589.1,131.8 L591.6,133.7 L594.3,136.2 L597.0,139.1 L599.4,142.0 L601.5,144.4 L603.0,146.1 L603.2,145.9 L601.8,144.2 L599.9,141.6 L597.5,138.6 L595.0,135.6 L592.4,132.8 L589.9,130.7 L587.4,129.2 L584.8,128.1 L582.2,127.4 L579.6,127.0 L577.0,126.7 L574.5,126.4 L572.0,126.1 L569.6,125.8 L567.1,125.7 L564.6,125.7 L562.2,125.8 L559.7,126.0 L557.2,126.3 L554.8,126.8 L552.3,127.4 L549.9,128.1 L547.5,128.9 L545.1,129.9 L542.7,131.0 L540.4,132.4 L538.1,133.9 L535.9,135.4 L533.6,136.7 L531.4,137.8 L529.2,138.6 L526.9,139.2 L524.7,139.8 L522.5,140.2 L520.2,140.5 L518.0,140.8 L515.6,141.0 L513.0,141.0 L510.4,141.0 L507.9,141.0 L505.9,140.9 L504.4,140.8Z" fill="#2faaa3" fill-opacity="1"/>
<path d="M508.0,148.9 L509.5,149.0 L511.5,149.1 L513.9,149.1 L516.5,149.1 L519.1,149.0 L521.5,148.7 L523.9,148.2 L526.2,147.6 L528.6,146.8 L530.9,145.9 L533.2,145.0 L535.5,144.0 L537.6,143.0 L539.7,141.9 L541.7,140.7 L543.7,139.5 L545.8,138.4 L548.0,137.3 L550.3,136.3 L552.8,135.3 L555.4,134.4 L557.9,133.5 L560.4,132.8 L562.8,132.3 L565.2,132.0 L567.4,131.9 L569.7,131.9 L572.0,132.0 L574.3,132.2 L576.6,132.4 L579.1,132.5 L581.6,132.6 L584.1,132.7 L586.5,132.9 L588.8,133.4 L591.0,134.2 L593.2,135.7 L595.6,137.8 L598.0,140.3 L600.1,142.8 L602.0,144.9 L603.3,146.4 L603.5,146.2 L602.3,144.7 L600.6,142.4 L598.6,139.8 L596.4,137.1 L594.0,134.7 L591.7,132.9 L589.3,131.8 L586.8,131.1 L584.2,130.8 L581.6,130.7 L579.1,130.7 L576.7,130.7 L574.4,130.5 L572.1,130.4 L569.7,130.3 L567.4,130.4 L565.0,130.6 L562.6,130.9 L560.1,131.5 L557.5,132.3 L554.9,133.2 L552.4,134.2 L549.9,135.3 L547.5,136.3 L545.3,137.4 L543.2,138.6 L541.2,139.8 L539.2,141.0 L537.2,142.2 L535.1,143.2 L532.9,144.2 L530.6,145.1 L528.3,146.0 L526.0,146.8 L523.7,147.5 L521.4,148.0 L519.0,148.3 L516.5,148.4 L513.9,148.4 L511.5,148.4 L509.5,148.3 L508.0,148.3Z" fill="#2faaa3" fill-opacity="1"/>
<path d="M508.6,146.8 L510.0,146.8 L511.9,146.8 L514.1,146.9 L516.6,146.8 L519.1,146.7 L521.5,146.5 L523.9,146.1 L526.4,145.7 L528.9,145.2 L531.4,144.6 L533.9,143.9 L536.3,143.1 L538.6,142.1 L540.7,140.9 L542.8,139.6 L544.9,138.3 L546.9,137.1 L549.1,136.0 L551.3,135.1 L553.6,134.2 L556.0,133.4 L558.3,132.7 L560.7,132.2 L563.0,131.7 L565.2,131.4 L567.5,131.2 L569.8,131.1 L572.0,131.1 L574.3,131.2 L576.6,131.5 L578.9,131.7 L581.3,132.0 L583.7,132.5 L586.0,133.0 L588.4,133.7 L590.6,134.7 L593.0,136.2 L595.5,138.3 L598.0,140.6 L600.3,143.0 L602.3,144.9 L603.7,146.3 L603.9,146.2 L602.5,144.7 L600.7,142.6 L598.6,140.1 L596.2,137.6 L593.7,135.3 L591.3,133.5 L589.0,132.2 L586.5,131.3 L584.1,130.7 L581.6,130.3 L579.1,130.0 L576.7,129.8 L574.4,129.6 L572.0,129.5 L569.7,129.6 L567.4,129.7 L565.1,130.0 L562.7,130.4 L560.4,130.9 L558.0,131.5 L555.6,132.3 L553.2,133.1 L550.9,134.0 L548.6,135.0 L546.4,136.1 L544.3,137.4 L542.3,138.7 L540.2,140.0 L538.1,141.2 L536.0,142.2 L533.6,143.1 L531.2,143.8 L528.7,144.4 L526.2,144.9 L523.8,145.4 L521.4,145.7 L519.0,146.0 L516.6,146.1 L514.1,146.1 L511.9,146.1 L510.0,146.1 L508.6,146.1Z" fill="#3db6ae" fill-opacity="1"/>
<path d="M505.3,142.2 L506.8,142.2 L509.0,142.2 L511.5,142.2 L514.3,142.2 L517.0,142.0 L519.5,141.8 L521.8,141.4 L524.0,141.0 L526.3,140.5 L528.5,139.9 L530.7,139.2 L533.0,138.4 L535.3,137.4 L537.6,136.2 L539.9,134.9 L542.1,133.6 L544.4,132.4 L546.6,131.4 L548.9,130.5 L551.2,129.7 L553.5,129.0 L555.8,128.5 L558.1,128.0 L560.4,127.7 L562.7,127.5 L565.0,127.5 L567.4,127.5 L569.8,127.7 L572.2,128.0 L574.7,128.4 L577.3,128.8 L580.0,129.1 L582.7,129.6 L585.3,130.2 L587.9,131.0 L590.3,132.2 L592.8,134.0 L595.3,136.5 L597.8,139.4 L600.1,142.2 L602.1,144.6 L603.5,146.3 L603.7,146.1 L602.5,144.3 L600.7,141.8 L598.6,138.8 L596.2,135.7 L593.7,132.9 L591.2,130.8 L588.7,129.2 L585.9,128.1 L583.1,127.4 L580.3,127.0 L577.5,126.7 L574.9,126.4 L572.4,126.1 L569.9,125.9 L567.5,125.8 L565.0,125.8 L562.6,125.9 L560.2,126.1 L557.8,126.5 L555.4,127.0 L553.1,127.7 L550.8,128.4 L548.5,129.3 L546.2,130.2 L543.8,131.3 L541.6,132.6 L539.3,133.9 L537.1,135.2 L534.8,136.5 L532.6,137.5 L530.4,138.3 L528.2,139.0 L526.1,139.7 L523.9,140.2 L521.6,140.6 L519.4,141.0 L516.9,141.3 L514.2,141.4 L511.5,141.5 L509.0,141.5 L506.8,141.5 L505.3,141.5Z" fill="#36b0a9" fill-opacity="1"/>
<path d="M513.3,139.0 L514.8,139.0 L516.8,138.9 L519.1,138.9 L521.7,138.8 L524.4,138.6 L526.8,138.4 L529.2,138.0 L531.7,137.6 L534.2,137.1 L536.7,136.5 L539.2,135.9 L541.5,135.1 L543.7,134.2 L545.7,133.1 L547.7,131.9 L549.6,130.7 L551.6,129.7 L553.6,128.7 L555.7,127.9 L557.9,127.2 L560.2,126.5 L562.4,125.9 L564.6,125.4 L566.8,125.2 L569.0,125.0 L571.2,125.0 L573.4,125.2 L575.5,125.5 L577.7,125.8 L579.8,126.3 L582.0,126.9 L584.1,127.5 L586.2,128.2 L588.2,129.0 L590.3,130.0 L592.3,131.4 L594.4,133.3 L596.6,135.9 L598.9,138.8 L600.9,141.7 L602.7,144.1 L604.0,145.8 L604.1,145.6 L603.0,143.9 L601.4,141.3 L599.5,138.4 L597.4,135.3 L595.3,132.5 L593.2,130.3 L591.2,128.7 L589.0,127.4 L586.8,126.4 L584.6,125.7 L582.4,125.2 L580.2,124.7 L578.0,124.2 L575.8,123.8 L573.5,123.6 L571.2,123.5 L569.0,123.5 L566.7,123.7 L564.4,124.0 L562.1,124.5 L559.8,125.2 L557.5,125.9 L555.3,126.7 L553.1,127.6 L551.0,128.6 L549.0,129.7 L547.1,130.9 L545.1,132.1 L543.2,133.2 L541.1,134.1 L538.8,134.8 L536.5,135.5 L534.0,136.1 L531.5,136.6 L529.1,137.0 L526.7,137.4 L524.3,137.7 L521.7,137.9 L519.1,138.0 L516.7,138.0 L514.7,138.0 L513.3,138.1Z" fill="#36b0a9" fill-opacity="1"/>
<path d="M505.2,147.8 L506.7,147.7 L508.7,147.7 L511.1,147.7 L513.8,147.6 L516.4,147.4 L519.0,147.0 L521.4,146.6 L524.0,146.0 L526.6,145.3 L529.1,144.6 L531.6,143.7 L534.0,142.8 L536.3,141.7 L538.3,140.4 L540.3,139.0 L542.3,137.7 L544.3,136.5 L546.4,135.4 L548.6,134.5 L550.8,133.6 L553.1,132.9 L555.4,132.2 L557.7,131.7 L560.2,131.3 L562.7,131.1 L565.3,131.0 L567.9,131.1 L570.6,131.2 L573.3,131.5 L575.9,131.7 L578.4,131.9 L580.9,132.0 L583.3,132.2 L585.6,132.5 L587.8,133.0 L590.1,133.9 L592.5,135.5 L595.0,137.8 L597.6,140.5 L600.0,143.1 L602.0,145.3 L603.5,146.9 L603.7,146.7 L602.3,145.1 L600.5,142.7 L598.3,139.9 L595.8,137.1 L593.3,134.5 L590.9,132.6 L588.4,131.4 L586.0,130.6 L583.5,130.2 L581.0,130.1 L578.5,130.0 L576.0,129.9 L573.4,129.7 L570.7,129.5 L568.0,129.4 L565.2,129.4 L562.6,129.5 L560.0,129.8 L557.5,130.2 L555.0,130.8 L552.7,131.6 L550.4,132.4 L548.1,133.3 L545.9,134.3 L543.7,135.5 L541.7,136.8 L539.7,138.1 L537.8,139.5 L535.8,140.8 L533.6,141.9 L531.3,142.8 L528.9,143.7 L526.3,144.5 L523.8,145.2 L521.3,145.7 L518.8,146.2 L516.4,146.6 L513.7,146.8 L511.1,146.9 L508.7,146.9 L506.7,147.0 L505.2,147.0Z" fill="#2faaa3" fill-opacity="1"/>
<path d="M505.3,142.4 L506.8,142.4 L508.9,142.5 L511.4,142.5 L514.0,142.4 L516.7,142.3 L519.3,142.0 L521.7,141.6 L524.2,141.1 L526.6,140.4 L529.1,139.7 L531.5,138.9 L533.8,138.1 L536.1,137.2 L538.2,136.2 L540.2,135.1 L542.2,134.1 L544.3,133.1 L546.4,132.2 L548.6,131.4 L551.0,130.7 L553.3,129.9 L555.7,129.3 L558.1,128.8 L560.5,128.4 L563.0,128.2 L565.5,128.1 L568.1,128.1 L570.7,128.2 L573.2,128.4 L575.7,128.7 L578.2,129.1 L580.7,129.4 L583.0,129.9 L585.3,130.4 L587.6,131.2 L589.8,132.3 L592.2,134.0 L594.7,136.5 L597.2,139.2 L599.5,141.9 L601.4,144.2 L602.9,145.8 L603.1,145.6 L601.8,143.9 L600.0,141.4 L597.9,138.6 L595.6,135.7 L593.2,133.0 L590.8,130.9 L588.4,129.4 L586.0,128.4 L583.5,127.7 L581.0,127.3 L578.5,127.0 L576.0,126.7 L573.4,126.5 L570.8,126.3 L568.1,126.2 L565.5,126.3 L562.9,126.4 L560.3,126.7 L557.8,127.2 L555.3,127.8 L552.9,128.5 L550.5,129.3 L548.2,130.1 L545.9,131.0 L543.7,131.9 L541.6,132.9 L539.6,134.0 L537.6,135.1 L535.6,136.1 L533.4,137.0 L531.1,137.8 L528.8,138.6 L526.4,139.4 L523.9,140.0 L521.5,140.6 L519.1,141.1 L516.7,141.3 L514.0,141.5 L511.4,141.5 L508.9,141.5 L506.8,141.5 L505.3,141.5Z" fill="#3db6ae" fill-opacity="1"/>
<path d="M503.7,166.1 L506.3,165.5 L510.1,164.6 L514.4,163.6 L519.0,162.4 L523.4,161.3 L527.2,160.2 L530.5,159.1 L533.4,158.0 L536.2,156.9 L538.8,155.8 L541.4,154.6 L544.0,153.4 L546.6,152.0 L549.0,150.5 L551.4,148.9 L553.7,147.4 L556.0,146.1 L558.4,145.0 L560.8,144.1 L563.2,143.3 L565.7,142.6 L568.2,142.1 L570.7,141.8 L573.3,141.6 L576.1,141.5 L579.1,141.6 L582.1,141.8 L585.1,142.1 L587.9,142.6 L590.5,143.3 L592.8,144.1 L594.9,145.1 L596.8,146.3 L598.7,147.5 L600.6,148.9 L602.6,150.5 L604.6,152.5 L606.8,155.0 L608.9,157.7 L610.9,160.3 L612.5,162.5 L613.8,164.0 L614.0,163.9 L612.9,162.2 L611.4,159.9 L609.6,157.1 L607.7,154.3 L605.6,151.6 L603.7,149.3 L601.8,147.5 L599.9,145.9 L597.9,144.5 L595.8,143.3 L593.5,142.3 L591.0,141.5 L588.3,140.8 L585.4,140.3 L582.3,140.0 L579.2,139.9 L576.1,139.9 L573.2,140.0 L570.5,140.3 L567.9,140.7 L565.3,141.3 L562.8,142.0 L560.3,142.8 L557.8,143.8 L555.4,145.0 L553.0,146.4 L550.7,148.0 L548.4,149.5 L546.0,151.1 L543.5,152.4 L541.0,153.7 L538.4,154.9 L535.8,156.0 L533.1,157.1 L530.2,158.2 L527.0,159.3 L523.2,160.4 L518.8,161.6 L514.2,162.7 L509.9,163.8 L506.2,164.7 L503.5,165.3Z" fill="#2aa39d" fill-opacity="1"/>
<path d="M504.4,170.8 L507.0,170.3 L510.7,169.5 L515.1,168.6 L519.7,167.5 L524.2,166.4 L528.1,165.3 L531.5,164.2 L534.7,163.0 L537.8,161.7 L540.7,160.4 L543.5,159.0 L546.2,157.7 L548.6,156.3 L550.7,154.8 L552.7,153.3 L554.6,151.9 L556.6,150.6 L558.8,149.5 L561.2,148.5 L563.7,147.6 L566.4,146.8 L569.1,146.1 L571.8,145.6 L574.6,145.3 L577.4,145.2 L580.3,145.2 L583.2,145.4 L586.1,145.7 L588.9,146.1 L591.5,146.7 L593.9,147.4 L596.2,148.1 L598.4,149.0 L600.5,149.9 L602.5,151.0 L604.4,152.3 L606.2,154.0 L608.1,156.2 L609.9,158.5 L611.5,160.9 L612.9,162.8 L614.0,164.2 L614.2,164.1 L613.3,162.6 L612.1,160.5 L610.6,158.1 L609.0,155.5 L607.2,153.1 L605.3,151.1 L603.4,149.6 L601.4,148.2 L599.2,147.1 L596.9,146.3 L594.5,145.5 L591.9,144.9 L589.2,144.4 L586.3,144.0 L583.3,143.7 L580.3,143.6 L577.3,143.6 L574.4,143.8 L571.6,144.2 L568.8,144.8 L566.0,145.5 L563.3,146.3 L560.7,147.3 L558.2,148.3 L556.0,149.6 L553.9,150.9 L552.0,152.4 L550.1,153.9 L548.0,155.4 L545.7,156.8 L543.1,158.1 L540.3,159.5 L537.4,160.8 L534.4,162.1 L531.2,163.3 L527.8,164.5 L523.9,165.6 L519.5,166.7 L514.9,167.7 L510.5,168.7 L506.8,169.5 L504.2,170.0Z" fill="#36b0a9" fill-opacity="1"/>
<path d="M496.8,169.3 L499.4,168.8 L503.1,167.9 L507.3,167.0 L511.9,165.9 L516.2,164.8 L520.1,163.7 L523.3,162.6 L526.4,161.4 L529.3,160.2 L532.1,159.0 L534.9,157.6 L537.6,156.3 L540.3,154.8 L542.9,153.1 L545.4,151.3 L547.9,149.7 L550.4,148.2 L552.9,147.0 L555.4,146.0 L557.9,145.3 L560.4,144.7 L562.9,144.2 L565.5,143.9 L568.2,143.6 L571.1,143.5 L574.2,143.4 L577.2,143.5 L580.3,143.7 L583.3,144.1 L586.1,144.7 L588.9,145.5 L591.5,146.4 L594.1,147.6 L596.6,148.9 L599.0,150.2 L601.3,151.7 L603.5,153.6 L605.7,155.8 L607.7,158.2 L609.6,160.6 L611.2,162.6 L612.3,164.0 L612.5,163.9 L611.5,162.4 L610.0,160.3 L608.3,157.8 L606.4,155.2 L604.3,152.8 L602.1,150.7 L599.8,149.0 L597.4,147.4 L594.8,146.1 L592.1,144.9 L589.4,143.9 L586.5,143.1 L583.6,142.6 L580.5,142.2 L577.3,142.0 L574.2,142.0 L571.1,142.1 L568.1,142.3 L565.4,142.6 L562.7,143.0 L560.1,143.5 L557.6,144.1 L555.0,144.9 L552.4,145.9 L549.8,147.2 L547.3,148.8 L544.8,150.5 L542.3,152.2 L539.8,153.9 L537.2,155.4 L534.5,156.8 L531.7,158.1 L529.0,159.4 L526.1,160.6 L523.0,161.7 L519.8,162.9 L516.0,164.0 L511.7,165.1 L507.1,166.2 L502.9,167.1 L499.2,167.9 L496.6,168.5Z" fill="#2faaa3" fill-opacity="1"/>
<path d="M499.3,163.2 L502.0,162.8 L505.9,162.1 L510.4,161.4 L515.1,160.5 L519.7,159.5 L523.6,158.5 L527.0,157.4 L530.1,156.2 L533.1,154.9 L535.8,153.6 L538.5,152.3 L541.2,151.0 L543.7,149.6 L546.1,148.3 L548.4,146.9 L550.6,145.6 L552.9,144.4 L555.2,143.3 L557.6,142.4 L560.0,141.6 L562.4,140.9 L564.9,140.4 L567.4,140.0 L570.1,139.8 L573.0,139.9 L576.1,140.1 L579.4,140.6 L582.6,141.2 L585.6,141.9 L588.4,142.7 L590.8,143.5 L593.1,144.5 L595.2,145.5 L597.2,146.7 L599.2,148.0 L601.2,149.5 L603.4,151.6 L605.7,154.1 L607.9,156.9 L610.0,159.6 L611.8,161.9 L613.1,163.5 L613.3,163.4 L612.1,161.7 L610.5,159.3 L608.6,156.5 L606.5,153.5 L604.3,150.8 L602.2,148.5 L600.2,146.7 L598.1,145.2 L596.0,143.9 L593.8,142.8 L591.4,141.9 L588.9,141.1 L586.0,140.3 L582.9,139.6 L579.6,139.1 L576.3,138.7 L573.1,138.4 L570.0,138.4 L567.3,138.6 L564.6,139.1 L562.1,139.7 L559.6,140.4 L557.2,141.3 L554.7,142.3 L552.4,143.3 L550.1,144.6 L547.8,146.0 L545.6,147.4 L543.2,148.8 L540.7,150.1 L538.1,151.4 L535.4,152.8 L532.7,154.1 L529.8,155.4 L526.7,156.6 L523.4,157.7 L519.5,158.7 L514.9,159.7 L510.2,160.5 L505.7,161.3 L501.9,162.0 L499.2,162.4Z" fill="#2faaa3" fill-opacity="1"/>
<path d="M502.3,164.1 L504.8,163.4 L508.4,162.5 L512.7,161.5 L517.2,160.3 L521.5,159.1 L525.3,158.0 L528.7,156.9 L531.9,155.8 L534.9,154.6 L537.8,153.4 L540.6,152.2 L543.4,151.0 L545.9,149.7 L548.3,148.3 L550.6,147.0 L552.8,145.6 L555.0,144.4 L557.3,143.3 L559.7,142.4 L562.2,141.6 L564.6,140.8 L567.1,140.2 L569.6,139.8 L572.3,139.5 L575.1,139.5 L578.1,139.6 L581.1,139.9 L584.2,140.3 L587.1,140.9 L589.7,141.7 L592.2,142.5 L594.5,143.6 L596.7,144.7 L598.8,146.0 L600.9,147.4 L602.9,149.0 L604.9,151.1 L607.0,153.8 L609.0,156.6 L610.8,159.4 L612.3,161.8 L613.4,163.5 L613.6,163.3 L612.6,161.6 L611.3,159.1 L609.6,156.2 L607.8,153.2 L605.9,150.4 L603.9,148.0 L601.9,146.2 L599.9,144.5 L597.6,143.1 L595.3,141.9 L592.8,140.9 L590.2,140.1 L587.4,139.4 L584.4,138.8 L581.3,138.4 L578.2,138.2 L575.1,138.1 L572.2,138.2 L569.5,138.5 L566.8,139.0 L564.3,139.6 L561.8,140.4 L559.3,141.3 L556.9,142.3 L554.5,143.4 L552.3,144.7 L550.0,146.1 L547.8,147.5 L545.5,148.9 L543.0,150.2 L540.3,151.4 L537.5,152.6 L534.6,153.8 L531.6,155.0 L528.4,156.1 L525.1,157.2 L521.3,158.4 L517.0,159.6 L512.5,160.7 L508.2,161.8 L504.7,162.7 L502.1,163.4Z" fill="#2faaa3" fill-opacity="1"/>
<path d="M500.9,163.1 L503.6,162.4 L507.4,161.5 L511.9,160.4 L516.6,159.3 L521.2,158.1 L525.1,156.9 L528.4,155.8 L531.5,154.6 L534.4,153.5 L537.1,152.3 L539.8,151.1 L542.4,149.9 L545.0,148.6 L547.4,147.2 L549.8,145.7 L552.1,144.4 L554.4,143.2 L556.7,142.2 L559.2,141.4 L561.7,140.7 L564.2,140.1 L566.7,139.7 L569.3,139.5 L571.9,139.4 L574.6,139.4 L577.3,139.6 L580.2,140.0 L583.0,140.5 L585.7,141.1 L588.3,141.8 L590.8,142.7 L593.2,143.6 L595.5,144.7 L597.8,145.9 L600.0,147.2 L602.1,148.7 L604.3,150.8 L606.5,153.4 L608.6,156.2 L610.5,158.9 L612.2,161.2 L613.4,162.8 L613.6,162.7 L612.5,161.0 L611.1,158.5 L609.3,155.7 L607.4,152.7 L605.3,149.9 L603.2,147.6 L601.1,145.7 L598.8,144.1 L596.5,142.8 L594.0,141.7 L591.5,140.8 L588.9,140.0 L586.2,139.3 L583.3,138.7 L580.4,138.3 L577.5,138.0 L574.6,137.8 L571.8,137.8 L569.1,138.0 L566.5,138.3 L563.9,138.8 L561.3,139.4 L558.8,140.2 L556.3,141.0 L553.8,142.1 L551.5,143.4 L549.2,144.8 L546.9,146.3 L544.5,147.7 L542.0,149.0 L539.4,150.2 L536.7,151.5 L534.0,152.7 L531.2,153.8 L528.1,155.0 L524.8,156.1 L521.0,157.3 L516.4,158.5 L511.7,159.7 L507.3,160.8 L503.5,161.7 L500.8,162.4Z" fill="#36b0a9" fill-opacity="1"/>
<path d="M495.7,169.0 L498.3,168.5 L502.1,167.7 L506.5,166.8 L511.1,165.8 L515.7,164.7 L519.6,163.6 L523.0,162.6 L526.2,161.5 L529.3,160.4 L532.2,159.2 L535.0,157.9 L537.7,156.6 L540.4,155.0 L542.8,153.3 L545.1,151.5 L547.3,149.7 L549.6,148.2 L552.0,146.9 L554.6,145.9 L557.4,145.1 L560.2,144.4 L563.0,143.9 L565.8,143.5 L568.6,143.4 L571.4,143.3 L574.3,143.5 L577.1,143.9 L579.9,144.4 L582.7,145.0 L585.5,145.6 L588.2,146.3 L591.0,147.1 L593.7,148.0 L596.3,148.9 L598.7,149.9 L601.0,151.2 L603.3,153.0 L605.5,155.2 L607.6,157.7 L609.5,160.1 L611.1,162.2 L612.4,163.6 L612.6,163.4 L611.5,161.9 L610.1,159.7 L608.3,157.1 L606.4,154.5 L604.2,152.0 L602.0,149.9 L599.6,148.3 L597.1,147.0 L594.4,145.9 L591.6,145.1 L588.7,144.4 L585.9,143.7 L583.1,143.1 L580.3,142.6 L577.3,142.2 L574.4,141.9 L571.5,141.7 L568.6,141.8 L565.7,142.0 L562.8,142.5 L559.9,143.0 L557.0,143.8 L554.2,144.7 L551.5,145.8 L549.0,147.1 L546.6,148.8 L544.4,150.6 L542.1,152.4 L539.8,154.2 L537.3,155.7 L534.6,157.1 L531.8,158.4 L528.9,159.6 L525.9,160.7 L522.7,161.8 L519.4,162.9 L515.5,163.9 L511.0,165.0 L506.3,166.0 L501.9,167.0 L498.2,167.7 L495.5,168.3Z" fill="#36b0a9" fill-opacity="1"/>
<path d="M500.8,169.1 L503.5,168.6 L507.3,167.8 L511.9,166.9 L516.7,165.9 L521.2,164.8 L525.2,163.7 L528.4,162.7 L531.4,161.6 L534.2,160.5 L536.9,159.4 L539.4,158.1 L542.0,156.8 L544.6,155.3 L547.1,153.6 L549.4,151.9 L551.8,150.3 L554.1,148.8 L556.5,147.6 L559.0,146.7 L561.5,146.0 L564.0,145.5 L566.6,145.1 L569.2,144.8 L572.0,144.6 L574.8,144.4 L577.7,144.3 L580.7,144.2 L583.7,144.4 L586.5,144.6 L589.1,145.2 L591.5,145.9 L593.8,146.8 L595.9,148.0 L598.0,149.2 L600.1,150.6 L602.1,152.0 L604.1,153.8 L606.1,156.1 L608.1,158.5 L609.9,160.8 L611.4,162.8 L612.5,164.1 L612.7,164.0 L611.7,162.5 L610.4,160.4 L608.7,158.0 L606.9,155.5 L605.0,153.0 L603.0,151.0 L601.1,149.3 L599.0,147.7 L596.8,146.3 L594.5,145.2 L592.1,144.2 L589.5,143.5 L586.7,143.0 L583.8,142.7 L580.7,142.6 L577.7,142.7 L574.7,142.9 L571.8,143.1 L569.1,143.4 L566.4,143.7 L563.8,144.2 L561.1,144.7 L558.6,145.5 L556.0,146.5 L553.5,147.7 L551.1,149.3 L548.7,151.0 L546.4,152.7 L544.0,154.4 L541.5,155.9 L539.0,157.2 L536.4,158.4 L533.8,159.6 L531.1,160.7 L528.1,161.8 L524.9,162.8 L521.0,163.9 L516.5,164.9 L511.7,165.9 L507.2,166.9 L503.3,167.7 L500.6,168.2Z" fill="#2faaa3" fill-opacity="1"/>
<path d="M494.3,180.4 L496.4,180.3 L499.2,180.3 L502.5,180.3 L506.1,180.2 L509.8,179.9 L513.3,179.5 L516.6,179.0 L520.0,178.2 L523.4,177.4 L526.8,176.4 L530.2,175.4 L533.5,174.3 L536.6,173.0 L539.7,171.6 L542.7,170.1 L545.7,168.6 L548.6,167.1 L551.5,165.9 L554.5,164.7 L557.3,163.6 L560.1,162.6 L563.0,161.6 L565.9,160.9 L568.9,160.3 L572.1,160.0 L575.5,159.8 L578.9,159.7 L582.3,159.9 L585.6,160.1 L588.6,160.6 L591.3,161.1 L593.8,161.8 L596.1,162.6 L598.4,163.5 L600.6,164.6 L602.8,166.1 L605.0,168.1 L607.4,170.6 L609.8,173.5 L611.9,176.3 L613.7,178.7 L615.1,180.4 L615.3,180.3 L614.1,178.5 L612.4,176.0 L610.4,173.0 L608.3,170.0 L606.0,167.2 L603.7,164.9 L601.5,163.2 L599.2,161.8 L596.8,160.7 L594.3,159.9 L591.7,159.3 L588.9,158.8 L585.8,158.4 L582.4,158.2 L578.9,158.1 L575.4,158.2 L571.9,158.4 L568.6,158.8 L565.5,159.5 L562.6,160.3 L559.7,161.2 L556.8,162.3 L554.0,163.5 L551.0,164.7 L548.1,166.0 L545.1,167.5 L542.2,169.0 L539.2,170.6 L536.2,172.0 L533.1,173.3 L529.9,174.4 L526.5,175.5 L523.2,176.4 L519.8,177.3 L516.4,178.0 L513.1,178.6 L509.7,179.0 L506.1,179.3 L502.5,179.4 L499.2,179.4 L496.3,179.5 L494.3,179.5Z" fill="#36b0a9" fill-opacity="1"/>
<path d="M491.5,173.5 L493.5,173.5 L496.3,173.6 L499.6,173.7 L503.1,173.7 L506.8,173.6 L510.2,173.3 L513.6,172.8 L517.1,172.1 L520.7,171.3 L524.2,170.3 L527.7,169.3 L531.1,168.2 L534.2,167.0 L537.3,165.6 L540.3,164.2 L543.3,162.7 L546.2,161.4 L549.2,160.1 L552.2,159.0 L555.1,157.8 L558.0,156.8 L560.9,155.8 L563.9,155.1 L567.0,154.7 L570.4,154.5 L574.0,154.6 L577.7,155.0 L581.3,155.4 L584.7,156.1 L587.7,156.8 L590.4,157.5 L592.7,158.4 L594.8,159.3 L596.8,160.4 L598.9,161.7 L601.0,163.4 L603.4,165.7 L606.0,168.7 L608.5,171.9 L610.9,175.1 L613.0,177.8 L614.4,179.7 L614.6,179.6 L613.3,177.6 L611.4,174.8 L609.2,171.4 L606.8,168.0 L604.3,164.9 L602.0,162.3 L599.9,160.4 L597.8,158.8 L595.7,157.6 L593.4,156.7 L590.9,155.8 L588.2,155.1 L585.0,154.4 L581.5,153.9 L577.8,153.4 L574.0,153.2 L570.4,153.1 L566.9,153.3 L563.7,153.8 L560.6,154.6 L557.6,155.6 L554.7,156.7 L551.7,157.9 L548.8,159.1 L545.8,160.4 L542.8,161.8 L539.9,163.3 L536.9,164.8 L533.9,166.2 L530.8,167.4 L527.5,168.5 L524.0,169.5 L520.5,170.5 L517.0,171.4 L513.5,172.1 L510.1,172.6 L506.7,172.9 L503.1,173.1 L499.6,173.1 L496.3,173.0 L493.6,172.9 L491.5,172.8Z" fill="#36b0a9" fill-opacity="1"/>
<path d="M488.1,177.6 L490.1,177.6 L493.0,177.6 L496.3,177.7 L500.0,177.7 L503.7,177.6 L507.3,177.3 L510.7,176.8 L514.3,176.1 L517.9,175.4 L521.4,174.5 L524.9,173.5 L528.3,172.3 L531.5,170.9 L534.5,169.3 L537.5,167.5 L540.4,165.8 L543.2,164.2 L546.1,162.8 L549.0,161.7 L551.7,160.8 L554.5,160.0 L557.4,159.3 L560.3,158.7 L563.5,158.3 L566.9,157.9 L570.7,157.7 L574.6,157.6 L578.5,157.7 L582.1,157.9 L585.4,158.3 L588.2,158.9 L590.8,159.5 L593.1,160.4 L595.3,161.4 L597.5,162.7 L599.9,164.2 L602.5,166.5 L605.3,169.4 L608.1,172.5 L610.7,175.7 L612.9,178.3 L614.5,180.2 L614.7,180.0 L613.2,178.1 L611.1,175.3 L608.7,172.1 L606.0,168.7 L603.3,165.7 L600.7,163.2 L598.4,161.4 L596.1,159.9 L593.7,158.8 L591.3,157.9 L588.6,157.2 L585.6,156.7 L582.3,156.3 L578.5,156.1 L574.6,156.2 L570.7,156.3 L566.8,156.6 L563.3,157.0 L560.1,157.5 L557.1,158.1 L554.2,158.8 L551.4,159.7 L548.6,160.7 L545.7,161.8 L542.7,163.2 L539.8,164.9 L537.0,166.7 L534.1,168.5 L531.1,170.1 L528.0,171.5 L524.7,172.6 L521.2,173.7 L517.7,174.6 L514.1,175.3 L510.6,176.0 L507.2,176.5 L503.7,176.8 L500.0,177.0 L496.3,177.0 L493.0,176.9 L490.1,176.9 L488.1,176.8Z" fill="#2faaa3" fill-opacity="1"/>
<path d="M496.4,177.7 L498.3,177.7 L501.1,177.6 L504.3,177.6 L507.8,177.4 L511.4,177.2 L514.9,176.9 L518.3,176.4 L521.8,175.9 L525.4,175.2 L529.0,174.5 L532.5,173.6 L535.8,172.5 L538.9,171.1 L541.7,169.5 L544.4,167.8 L547.1,166.1 L549.7,164.5 L552.4,163.1 L555.1,161.9 L557.8,160.8 L560.6,159.9 L563.3,159.0 L566.2,158.4 L569.2,158.0 L572.4,157.8 L576.0,157.8 L579.6,158.0 L583.2,158.3 L586.6,158.8 L589.7,159.3 L592.4,159.9 L594.9,160.5 L597.2,161.2 L599.3,162.1 L601.4,163.1 L603.5,164.5 L605.6,166.6 L607.8,169.4 L610.0,172.4 L612.0,175.4 L613.6,178.0 L614.9,179.8 L615.1,179.7 L614.0,177.8 L612.5,175.1 L610.7,172.0 L608.7,168.8 L606.6,165.8 L604.4,163.4 L602.3,161.7 L600.2,160.4 L597.9,159.4 L595.4,158.7 L592.8,158.1 L590.0,157.5 L586.9,157.0 L583.4,156.6 L579.7,156.3 L576.0,156.2 L572.4,156.2 L569.0,156.5 L565.9,157.0 L562.9,157.7 L560.1,158.6 L557.4,159.6 L554.6,160.8 L551.9,162.0 L549.1,163.4 L546.4,165.1 L543.8,166.8 L541.1,168.6 L538.4,170.2 L535.4,171.5 L532.2,172.6 L528.8,173.5 L525.3,174.2 L521.7,174.9 L518.1,175.5 L514.8,175.9 L511.4,176.3 L507.8,176.5 L504.3,176.7 L501.0,176.7 L498.3,176.8 L496.3,176.8Z" fill="#3db6ae" fill-opacity="1"/>
<path d="M499.3,178.3 L501.2,178.3 L503.8,178.4 L507.0,178.5 L510.4,178.5 L513.9,178.4 L517.3,178.1 L520.7,177.6 L524.3,177.0 L528.0,176.2 L531.6,175.3 L535.2,174.2 L538.5,173.1 L541.6,171.7 L544.5,170.1 L547.2,168.4 L549.8,166.8 L552.4,165.2 L555.1,163.9 L557.8,162.7 L560.5,161.6 L563.2,160.6 L565.9,159.8 L568.7,159.2 L571.6,158.8 L574.8,158.6 L578.3,158.6 L581.8,158.9 L585.4,159.2 L588.7,159.7 L591.7,160.2 L594.3,160.7 L596.7,161.2 L598.8,161.8 L600.7,162.6 L602.6,163.5 L604.5,164.8 L606.6,166.7 L608.6,169.4 L610.7,172.3 L612.5,175.2 L614.1,177.7 L615.2,179.4 L615.4,179.3 L614.4,177.5 L613.0,174.9 L611.3,171.9 L609.5,168.8 L607.5,166.0 L605.5,163.7 L603.5,162.1 L601.5,160.9 L599.4,160.0 L597.1,159.5 L594.7,159.0 L592.0,158.5 L589.0,158.0 L585.6,157.6 L582.0,157.3 L578.3,157.1 L574.8,157.1 L571.5,157.3 L568.4,157.8 L565.5,158.5 L562.7,159.3 L560.0,160.4 L557.3,161.5 L554.6,162.7 L551.8,164.1 L549.2,165.7 L546.5,167.4 L543.9,169.1 L541.1,170.7 L538.1,172.1 L534.9,173.2 L531.4,174.2 L527.7,175.2 L524.1,175.9 L520.5,176.6 L517.1,177.1 L513.8,177.4 L510.3,177.6 L507.0,177.5 L503.9,177.5 L501.3,177.4 L499.4,177.3Z" fill="#36b0a9" fill-opacity="1"/>
<path d="M495.1,181.1 L497.1,181.1 L499.9,181.2 L503.2,181.2 L506.8,181.2 L510.5,181.1 L514.1,180.7 L517.6,180.2 L521.2,179.5 L525.0,178.7 L528.7,177.7 L532.3,176.7 L535.7,175.6 L538.8,174.3 L541.8,172.8 L544.7,171.2 L547.4,169.6 L550.2,168.1 L552.9,166.8 L555.6,165.6 L558.2,164.4 L560.8,163.3 L563.5,162.4 L566.2,161.6 L569.1,161.0 L572.3,160.5 L575.9,160.3 L579.6,160.1 L583.2,160.2 L586.6,160.4 L589.6,160.8 L592.2,161.3 L594.5,162.0 L596.6,162.8 L598.6,163.8 L600.6,164.9 L602.6,166.3 L604.8,168.2 L607.1,170.7 L609.3,173.4 L611.4,176.1 L613.1,178.4 L614.4,180.0 L614.6,179.9 L613.4,178.2 L611.9,175.7 L610.0,172.9 L607.9,170.0 L605.7,167.3 L603.6,165.1 L601.6,163.5 L599.6,162.1 L597.4,161.0 L595.1,160.2 L592.6,159.5 L589.9,159.0 L586.7,158.7 L583.2,158.5 L579.5,158.5 L575.8,158.7 L572.2,159.0 L568.8,159.5 L565.8,160.2 L563.0,161.0 L560.3,162.1 L557.7,163.2 L555.1,164.4 L552.4,165.7 L549.6,167.1 L546.9,168.6 L544.1,170.3 L541.3,171.9 L538.4,173.3 L535.3,174.6 L532.0,175.8 L528.4,176.8 L524.8,177.8 L521.1,178.6 L517.4,179.4 L514.0,179.9 L510.5,180.3 L506.8,180.4 L503.2,180.4 L499.9,180.4 L497.1,180.3 L495.1,180.3Z" fill="#36b0a9" fill-opacity="1"/>
<path d="M493.0,176.9 L494.9,177.0 L497.7,177.3 L500.9,177.5 L504.4,177.7 L508.1,177.7 L511.6,177.4 L515.1,176.9 L518.8,176.1 L522.5,175.2 L526.3,174.1 L529.9,173.0 L533.3,171.7 L536.4,170.3 L539.3,168.8 L542.1,167.1 L544.8,165.4 L547.6,163.9 L550.3,162.6 L553.2,161.4 L556.0,160.4 L558.9,159.5 L561.7,158.7 L564.7,158.0 L567.7,157.6 L571.0,157.4 L574.5,157.3 L578.1,157.4 L581.6,157.7 L584.9,158.0 L588.0,158.5 L590.8,159.1 L593.3,159.7 L595.6,160.5 L597.9,161.4 L600.1,162.5 L602.3,164.0 L604.6,166.2 L607.1,169.0 L609.5,172.2 L611.8,175.4 L613.7,178.1 L615.1,179.9 L615.2,179.8 L614.0,177.9 L612.2,175.1 L610.1,171.8 L607.8,168.5 L605.5,165.4 L603.1,163.0 L600.9,161.3 L598.6,159.9 L596.2,158.9 L593.7,158.1 L591.1,157.6 L588.3,157.0 L585.1,156.5 L581.7,156.2 L578.1,156.0 L574.5,155.9 L570.9,156.0 L567.6,156.3 L564.5,156.8 L561.4,157.5 L558.5,158.3 L555.6,159.3 L552.8,160.4 L549.9,161.6 L547.0,162.9 L544.3,164.5 L541.6,166.2 L538.8,167.9 L536.0,169.5 L532.9,170.8 L529.6,172.1 L526.0,173.3 L522.3,174.3 L518.6,175.3 L514.9,176.1 L511.5,176.6 L508.1,176.9 L504.5,176.9 L500.9,176.7 L497.7,176.5 L495.0,176.3 L493.0,176.1Z" fill="#2aa39d" fill-opacity="1"/>
<path d="M495.3,171.3 L497.2,171.3 L499.8,171.4 L502.9,171.4 L506.4,171.4 L509.9,171.2 L513.3,170.9 L516.7,170.4 L520.3,169.8 L524.1,169.0 L527.8,168.2 L531.4,167.2 L534.8,166.2 L538.0,164.9 L541.0,163.5 L543.9,161.9 L546.7,160.4 L549.4,159.0 L552.2,157.8 L555.1,156.7 L557.9,155.7 L560.7,154.8 L563.5,154.0 L566.4,153.4 L569.3,153.1 L572.6,153.0 L576.0,153.1 L579.6,153.5 L583.1,154.0 L586.4,154.6 L589.4,155.3 L592.1,156.1 L594.6,156.9 L596.9,157.9 L599.0,159.0 L601.2,160.3 L603.3,161.9 L605.5,164.3 L607.8,167.3 L610.0,170.6 L612.1,173.8 L613.8,176.6 L615.1,178.5 L615.3,178.4 L614.1,176.4 L612.6,173.5 L610.7,170.2 L608.6,166.7 L606.4,163.5 L604.2,161.0 L602.1,159.0 L599.9,157.5 L597.6,156.3 L595.2,155.3 L592.6,154.5 L589.8,153.7 L586.7,153.0 L583.3,152.4 L579.7,151.9 L576.1,151.6 L572.6,151.5 L569.2,151.6 L566.1,152.0 L563.2,152.7 L560.3,153.5 L557.4,154.5 L554.6,155.5 L551.8,156.6 L548.9,157.9 L546.1,159.4 L543.3,160.9 L540.5,162.5 L537.6,163.9 L534.5,165.1 L531.1,166.2 L527.6,167.2 L523.9,168.0 L520.2,168.8 L516.6,169.4 L513.2,169.9 L509.8,170.3 L506.3,170.4 L502.9,170.5 L499.9,170.4 L497.3,170.4 L495.3,170.4Z" fill="#36b0a9" fill-opacity="1"/>
<path d="M489.2,193.2 L491.5,193.3 L494.7,193.4 L498.4,193.6 L502.5,193.7 L506.5,193.6 L510.3,193.3 L513.8,192.7 L517.3,191.8 L520.8,190.8 L524.3,189.7 L527.7,188.5 L531.0,187.3 L534.2,185.9 L537.3,184.4 L540.3,182.7 L543.2,181.2 L546.1,179.7 L549.1,178.5 L552.1,177.6 L555.0,176.7 L558.0,176.0 L560.9,175.5 L563.9,175.0 L566.7,174.7 L569.6,174.6 L572.4,174.6 L575.2,174.7 L577.9,174.9 L580.6,175.3 L583.3,175.9 L585.9,176.6 L588.6,177.5 L591.2,178.5 L593.7,179.6 L596.1,180.9 L598.3,182.3 L600.4,184.2 L602.5,186.7 L604.5,189.4 L606.3,192.0 L607.9,194.3 L609.0,195.8 L609.2,195.7 L608.2,194.0 L606.9,191.7 L605.3,188.9 L603.4,186.0 L601.4,183.3 L599.3,181.1 L597.1,179.3 L594.6,177.8 L592.0,176.6 L589.2,175.6 L586.5,174.8 L583.7,174.1 L580.9,173.5 L578.1,173.2 L575.3,173.0 L572.4,172.9 L569.5,173.0 L566.6,173.2 L563.7,173.6 L560.7,174.1 L557.7,174.7 L554.7,175.5 L551.7,176.4 L548.7,177.4 L545.7,178.7 L542.7,180.2 L539.7,181.8 L536.8,183.4 L533.7,185.0 L530.6,186.4 L527.3,187.6 L524.0,188.8 L520.6,190.0 L517.1,191.0 L513.6,191.8 L510.2,192.5 L506.5,192.8 L502.5,192.9 L498.5,192.9 L494.7,192.7 L491.5,192.5 L489.2,192.5Z" fill="#2aa39d" fill-opacity="1"/>
<path d="M485.6,184.6 L487.8,184.7 L490.9,185.0 L494.5,185.2 L498.5,185.4 L502.5,185.5 L506.2,185.2 L509.9,184.7 L513.6,184.0 L517.4,183.2 L521.2,182.2 L524.8,181.1 L528.3,180.0 L531.4,178.7 L534.4,177.2 L537.2,175.6 L539.9,174.1 L542.7,172.7 L545.6,171.5 L548.6,170.5 L551.7,169.6 L554.9,168.8 L558.0,168.2 L561.1,167.7 L564.2,167.5 L567.2,167.5 L570.3,167.7 L573.4,168.0 L576.4,168.5 L579.3,169.2 L582.0,170.1 L584.5,171.2 L587.0,172.4 L589.3,173.7 L591.6,175.3 L593.8,176.9 L596.1,178.8 L598.4,181.1 L600.9,184.0 L603.3,187.1 L605.5,190.1 L607.4,192.7 L608.8,194.5 L609.0,194.3 L607.7,192.5 L606.0,189.8 L603.9,186.7 L601.6,183.5 L599.3,180.4 L597.0,177.9 L594.8,175.8 L592.5,173.9 L590.2,172.3 L587.7,170.9 L585.2,169.7 L582.5,168.7 L579.6,167.8 L576.7,167.1 L573.6,166.6 L570.4,166.3 L567.3,166.2 L564.1,166.2 L561.0,166.5 L557.8,167.0 L554.6,167.7 L551.4,168.5 L548.3,169.5 L545.2,170.5 L542.3,171.7 L539.5,173.2 L536.7,174.8 L534.0,176.4 L531.1,177.9 L528.0,179.2 L524.6,180.3 L521.0,181.4 L517.3,182.4 L513.5,183.3 L509.8,184.0 L506.2,184.5 L502.4,184.8 L498.5,184.7 L494.6,184.6 L491.0,184.3 L487.9,184.1 L485.7,183.9Z" fill="#3db6ae" fill-opacity="1"/>
<path d="M496.0,188.4 L498.1,188.6 L501.0,188.8 L504.5,189.1 L508.2,189.3 L512.0,189.3 L515.6,189.0 L519.1,188.5 L522.7,187.8 L526.3,186.9 L529.9,185.9 L533.4,184.8 L536.8,183.7 L540.0,182.3 L543.1,180.8 L546.1,179.2 L549.1,177.6 L551.9,176.1 L554.8,174.9 L557.5,173.9 L560.2,173.0 L562.7,172.3 L565.3,171.7 L567.9,171.2 L570.6,171.0 L573.4,170.9 L576.4,170.9 L579.4,171.1 L582.3,171.4 L585.1,172.0 L587.6,172.7 L589.8,173.7 L591.9,174.9 L593.9,176.2 L595.8,177.7 L597.7,179.3 L599.6,181.0 L601.5,183.1 L603.5,185.6 L605.5,188.3 L607.2,190.9 L608.8,193.0 L609.9,194.6 L610.1,194.4 L609.1,192.8 L607.8,190.5 L606.2,187.8 L604.4,185.0 L602.6,182.3 L600.7,180.0 L598.9,178.0 L597.1,176.2 L595.1,174.6 L593.0,173.2 L590.7,172.0 L588.2,171.0 L585.5,170.2 L582.6,169.7 L579.5,169.4 L576.4,169.3 L573.4,169.3 L570.5,169.5 L567.7,169.8 L565.0,170.3 L562.4,171.0 L559.7,171.8 L557.1,172.7 L554.3,173.8 L551.4,175.1 L548.5,176.6 L545.6,178.2 L542.6,179.8 L539.5,181.4 L536.4,182.7 L533.1,183.9 L529.6,185.0 L526.0,186.0 L522.5,186.9 L518.9,187.7 L515.5,188.2 L512.0,188.4 L508.2,188.4 L504.5,188.2 L501.1,188.0 L498.2,187.8 L496.1,187.6Z" fill="#2faaa3" fill-opacity="1"/>
<path d="M492.9,191.7 L495.0,191.6 L498.0,191.6 L501.5,191.6 L505.3,191.5 L509.2,191.3 L512.8,190.9 L516.4,190.4 L520.1,189.6 L523.9,188.8 L527.6,187.8 L531.2,186.7 L534.5,185.6 L537.7,184.4 L540.7,182.9 L543.5,181.4 L546.2,179.9 L549.0,178.6 L551.8,177.4 L554.6,176.5 L557.5,175.6 L560.3,174.9 L563.2,174.3 L566.1,173.8 L568.9,173.5 L571.9,173.2 L574.8,173.0 L577.8,172.9 L580.7,173.0 L583.4,173.4 L586.0,173.9 L588.4,174.8 L590.7,175.9 L592.9,177.2 L595.0,178.6 L597.1,180.2 L599.2,181.8 L601.2,183.8 L603.2,186.3 L605.2,188.9 L607.0,191.4 L608.5,193.5 L609.7,195.0 L609.9,194.9 L608.9,193.3 L607.6,191.0 L606.0,188.4 L604.1,185.6 L602.2,182.9 L600.3,180.7 L598.3,178.8 L596.2,177.0 L594.0,175.4 L591.6,174.1 L589.1,173.0 L586.5,172.1 L583.7,171.5 L580.8,171.3 L577.8,171.2 L574.7,171.4 L571.7,171.6 L568.7,171.9 L565.8,172.4 L562.9,172.9 L560.0,173.6 L557.1,174.4 L554.2,175.3 L551.3,176.3 L548.5,177.5 L545.7,178.9 L543.0,180.5 L540.2,182.0 L537.3,183.4 L534.2,184.7 L530.9,185.8 L527.3,186.9 L523.6,187.9 L519.9,188.8 L516.3,189.5 L512.7,190.1 L509.1,190.5 L505.3,190.8 L501.5,190.9 L498.0,190.9 L495.0,190.9 L492.9,190.9Z" fill="#3db6ae" fill-opacity="1"/>
<path d="M487.6,187.0 L489.9,187.0 L493.0,187.2 L496.7,187.3 L500.7,187.4 L504.7,187.3 L508.4,187.0 L511.9,186.4 L515.5,185.7 L519.0,184.9 L522.5,183.9 L525.9,182.9 L529.2,181.8 L532.3,180.6 L535.3,179.3 L538.3,177.9 L541.2,176.5 L544.1,175.3 L547.0,174.2 L549.9,173.2 L552.9,172.3 L555.8,171.5 L558.8,170.8 L561.7,170.3 L564.7,170.0 L567.8,169.9 L571.0,170.0 L574.3,170.2 L577.4,170.6 L580.4,171.2 L583.2,172.1 L585.7,173.1 L588.1,174.4 L590.3,175.8 L592.5,177.4 L594.7,179.1 L596.9,180.8 L599.2,182.9 L601.6,185.4 L604.0,188.0 L606.2,190.5 L608.1,192.6 L609.4,194.1 L609.6,194.0 L608.4,192.4 L606.7,190.1 L604.6,187.5 L602.4,184.7 L600.1,182.0 L597.9,179.7 L595.8,177.8 L593.7,175.9 L591.4,174.2 L589.0,172.7 L586.5,171.4 L583.8,170.4 L580.8,169.6 L577.7,169.0 L574.4,168.6 L571.1,168.4 L567.8,168.4 L564.6,168.6 L561.5,168.9 L558.5,169.5 L555.5,170.2 L552.5,171.1 L549.6,172.1 L546.6,173.1 L543.6,174.2 L540.7,175.6 L537.8,177.0 L534.9,178.4 L531.9,179.7 L528.8,180.9 L525.6,182.0 L522.2,183.0 L518.8,184.0 L515.3,184.9 L511.8,185.6 L508.4,186.2 L504.7,186.5 L500.7,186.6 L496.7,186.5 L493.0,186.4 L489.9,186.3 L487.6,186.2Z" fill="#3db6ae" fill-opacity="1"/>
<path d="M487.9,192.3 L490.1,192.4 L493.1,192.5 L496.7,192.7 L500.6,192.8 L504.5,192.8 L508.2,192.5 L511.8,191.9 L515.4,191.1 L519.1,190.2 L522.7,189.1 L526.2,188.0 L529.5,186.8 L532.7,185.6 L535.7,184.1 L538.6,182.7 L541.5,181.2 L544.3,179.8 L547.2,178.6 L550.3,177.5 L553.3,176.3 L556.4,175.3 L559.5,174.4 L562.5,173.6 L565.6,173.2 L568.6,173.0 L571.7,172.9 L574.7,173.1 L577.7,173.5 L580.6,174.0 L583.3,174.7 L585.8,175.5 L588.1,176.5 L590.4,177.7 L592.5,179.0 L594.7,180.3 L596.9,181.9 L599.2,183.9 L601.5,186.3 L603.8,188.9 L606.0,191.4 L607.8,193.6 L609.1,195.1 L609.4,194.9 L608.2,193.3 L606.6,191.0 L604.6,188.3 L602.4,185.5 L600.2,182.8 L598.0,180.6 L595.9,178.8 L593.7,177.1 L591.4,175.7 L589.0,174.5 L586.5,173.5 L583.8,172.7 L581.0,172.0 L578.0,171.6 L574.9,171.3 L571.7,171.2 L568.5,171.2 L565.4,171.5 L562.2,172.1 L559.1,172.9 L556.0,173.9 L552.9,175.0 L549.8,176.2 L546.7,177.4 L543.8,178.7 L540.9,180.1 L538.1,181.6 L535.2,183.1 L532.3,184.5 L529.2,185.8 L525.8,187.0 L522.4,188.1 L518.8,189.2 L515.2,190.2 L511.6,191.0 L508.1,191.6 L504.5,191.9 L500.6,191.9 L496.7,191.9 L493.1,191.7 L490.1,191.5 L487.9,191.4Z" fill="#3db6ae" fill-opacity="1"/>
<path d="M492.6,195.2 L494.8,195.3 L497.8,195.5 L501.3,195.7 L505.2,195.8 L509.1,195.8 L512.8,195.5 L516.3,195.0 L519.9,194.2 L523.4,193.3 L527.0,192.3 L530.5,191.2 L533.8,190.0 L537.0,188.7 L540.1,187.3 L543.0,185.8 L545.9,184.3 L548.8,182.9 L551.6,181.7 L554.4,180.6 L557.1,179.5 L559.8,178.5 L562.4,177.7 L565.1,177.0 L567.8,176.4 L570.7,176.0 L573.6,175.7 L576.6,175.6 L579.5,175.6 L582.3,175.8 L585.0,176.3 L587.4,177.1 L589.8,178.1 L592.1,179.4 L594.4,180.8 L596.6,182.3 L598.7,183.8 L600.9,185.6 L603.1,187.7 L605.3,190.0 L607.3,192.2 L608.9,194.0 L610.2,195.3 L610.3,195.2 L609.2,193.8 L607.7,191.8 L605.8,189.5 L603.8,187.1 L601.7,184.8 L599.5,182.8 L597.4,181.1 L595.3,179.4 L593.0,177.9 L590.5,176.7 L588.0,175.6 L585.3,174.8 L582.5,174.3 L579.6,174.1 L576.6,174.2 L573.5,174.4 L570.5,174.7 L567.6,175.2 L564.8,175.8 L562.1,176.5 L559.4,177.4 L556.7,178.4 L554.0,179.5 L551.2,180.7 L548.3,182.0 L545.5,183.4 L542.6,184.9 L539.6,186.4 L536.6,187.9 L533.5,189.1 L530.2,190.3 L526.7,191.4 L523.2,192.5 L519.7,193.4 L516.1,194.2 L512.7,194.7 L509.1,195.0 L505.2,195.1 L501.4,195.0 L497.8,194.8 L494.8,194.6 L492.6,194.5Z" fill="#3db6ae" fill-opacity="1"/>
<path d="M487.0,185.7 L489.2,185.7 L492.4,185.7 L496.1,185.7 L500.1,185.6 L504.1,185.4 L507.8,185.0 L511.4,184.5 L515.1,183.8 L518.8,183.1 L522.4,182.2 L525.9,181.2 L529.2,180.2 L532.3,179.0 L535.3,177.6 L538.0,176.1 L540.8,174.7 L543.5,173.3 L546.4,172.2 L549.4,171.2 L552.5,170.3 L555.6,169.5 L558.7,168.8 L561.8,168.3 L564.8,168.1 L567.8,168.2 L570.7,168.4 L573.7,168.9 L576.6,169.5 L579.4,170.3 L582.1,171.2 L584.8,172.3 L587.3,173.6 L589.8,175.0 L592.2,176.5 L594.6,178.1 L596.9,179.9 L599.2,182.2 L601.6,185.0 L603.8,187.9 L605.9,190.7 L607.6,193.2 L608.9,194.9 L609.1,194.7 L608.0,192.9 L606.4,190.4 L604.5,187.4 L602.4,184.3 L600.2,181.4 L597.9,178.9 L595.7,176.8 L593.3,174.9 L590.8,173.3 L588.2,171.9 L585.5,170.6 L582.7,169.6 L579.9,168.6 L577.0,167.9 L574.0,167.3 L570.9,166.8 L567.8,166.6 L564.7,166.6 L561.6,166.9 L558.4,167.4 L555.3,168.1 L552.1,169.0 L549.0,170.0 L545.9,171.0 L543.0,172.2 L540.2,173.6 L537.5,175.1 L534.7,176.6 L531.9,178.0 L528.9,179.2 L525.6,180.2 L522.1,181.2 L518.5,182.1 L514.9,182.9 L511.3,183.5 L507.7,184.1 L504.0,184.4 L500.0,184.6 L496.0,184.7 L492.4,184.8 L489.2,184.8 L487.0,184.8Z" fill="#36b0a9" fill-opacity="1"/>
<path d="M494.2,217.1 L495.9,217.9 L498.3,219.2 L501.1,220.6 L504.2,222.1 L507.3,223.4 L510.3,224.4 L513.1,225.0 L516.0,225.4 L518.9,225.7 L521.9,225.9 L524.9,225.9 L528.0,225.9 L531.3,225.7 L534.7,225.3 L538.1,224.9 L541.5,224.4 L544.9,224.1 L548.3,224.2 L551.6,224.5 L554.9,224.9 L558.1,225.5 L561.4,226.3 L564.6,227.3 L567.8,228.6 L571.0,230.2 L574.2,232.2 L577.5,234.3 L580.7,236.7 L583.8,239.2 L586.7,241.6 L589.4,244.2 L591.9,247.0 L594.3,249.8 L596.8,252.7 L599.4,255.5 L602.1,258.3 L605.1,261.1 L608.5,264.1 L611.8,267.1 L615.0,269.9 L617.6,272.2 L619.6,273.8 L619.8,273.6 L618.0,271.8 L615.5,269.3 L612.5,266.3 L609.4,263.2 L606.2,260.0 L603.4,257.0 L600.9,254.1 L598.6,251.2 L596.1,248.3 L593.6,245.4 L591.0,242.6 L588.1,240.0 L585.1,237.6 L581.9,235.1 L578.6,232.8 L575.2,230.6 L571.8,228.7 L568.5,227.1 L565.1,225.8 L561.8,224.8 L558.4,224.0 L555.1,223.5 L551.7,223.1 L548.3,222.9 L544.9,222.9 L541.4,223.2 L537.9,223.7 L534.5,224.3 L531.2,224.7 L528.0,224.9 L524.9,225.0 L521.9,224.9 L519.0,224.8 L516.1,224.6 L513.3,224.2 L510.5,223.6 L507.6,222.7 L504.5,221.4 L501.4,220.0 L498.6,218.5 L496.2,217.3 L494.5,216.4Z" fill="#3db6ae" fill-opacity="1"/>
<path d="M491.2,221.0 L492.9,221.8 L495.1,223.0 L497.8,224.5 L500.8,225.9 L503.9,227.2 L506.9,228.1 L509.9,228.6 L513.0,228.9 L516.2,229.0 L519.5,229.0 L522.7,228.9 L526.0,228.8 L529.2,228.6 L532.5,228.2 L535.7,227.7 L539.0,227.3 L542.2,227.0 L545.5,227.1 L548.9,227.4 L552.3,227.9 L555.7,228.6 L559.2,229.5 L562.5,230.6 L565.8,231.9 L569.1,233.5 L572.3,235.4 L575.5,237.4 L578.6,239.6 L581.7,242.0 L584.6,244.3 L587.4,246.8 L590.1,249.5 L592.7,252.3 L595.3,255.1 L598.1,257.8 L601.0,260.4 L604.2,262.9 L607.8,265.6 L611.4,268.2 L614.7,270.5 L617.6,272.5 L619.6,273.9 L619.8,273.7 L617.8,272.1 L615.1,270.0 L611.9,267.5 L608.4,264.7 L605.1,261.9 L602.0,259.2 L599.3,256.6 L596.8,253.8 L594.2,250.9 L591.5,248.1 L588.7,245.4 L585.8,242.9 L582.8,240.5 L579.6,238.2 L576.4,236.0 L573.1,234.0 L569.8,232.1 L566.4,230.5 L563.0,229.2 L559.5,228.1 L556.0,227.3 L552.5,226.6 L549.0,226.1 L545.6,225.8 L542.2,225.8 L538.9,226.1 L535.6,226.5 L532.3,227.1 L529.1,227.5 L525.9,227.8 L522.7,227.9 L519.5,228.0 L516.3,228.0 L513.1,228.0 L510.0,227.7 L507.1,227.2 L504.2,226.4 L501.2,225.1 L498.2,223.7 L495.5,222.3 L493.3,221.0 L491.6,220.2Z" fill="#2faaa3" fill-opacity="1"/>
<path d="M498.4,219.8 L500.0,220.8 L502.3,222.2 L505.1,223.9 L508.0,225.6 L511.1,227.0 L514.0,228.1 L516.9,228.7 L519.8,229.0 L522.7,229.0 L525.6,229.0 L528.7,228.8 L531.8,228.8 L535.2,228.6 L538.6,228.2 L542.1,227.8 L545.7,227.5 L549.2,227.3 L552.6,227.3 L555.9,227.6 L559.2,227.9 L562.5,228.4 L565.7,229.1 L568.8,230.0 L571.9,231.2 L574.9,232.7 L577.8,234.6 L580.8,236.8 L583.6,239.1 L586.5,241.5 L589.2,244.0 L591.9,246.6 L594.5,249.3 L597.0,252.2 L599.5,255.0 L602.1,257.8 L604.7,260.4 L607.5,263.0 L610.4,265.7 L613.3,268.4 L616.0,270.8 L618.2,272.8 L619.9,274.3 L620.1,274.1 L618.6,272.5 L616.5,270.3 L614.0,267.7 L611.3,264.8 L608.6,262.0 L606.0,259.2 L603.6,256.4 L601.2,253.6 L598.7,250.7 L596.1,247.8 L593.4,245.0 L590.6,242.5 L587.8,240.0 L584.9,237.6 L581.9,235.3 L578.8,233.2 L575.7,231.3 L572.5,229.7 L569.3,228.5 L566.0,227.6 L562.7,226.9 L559.4,226.5 L556.0,226.2 L552.6,226.0 L549.1,226.0 L545.6,226.3 L542.0,226.7 L538.5,227.1 L535.1,227.5 L531.8,227.7 L528.6,227.8 L525.6,228.0 L522.7,228.1 L519.8,228.0 L517.0,227.8 L514.3,227.3 L511.4,226.3 L508.4,224.9 L505.5,223.2 L502.7,221.6 L500.4,220.2 L498.7,219.2Z" fill="#2aa39d" fill-opacity="1"/>
<path d="M499.2,223.1 L501.0,224.0 L503.4,225.4 L506.3,226.9 L509.4,228.5 L512.6,229.9 L515.6,230.8 L518.6,231.4 L521.5,231.6 L524.5,231.7 L527.6,231.6 L530.7,231.5 L533.8,231.3 L537.1,231.1 L540.5,230.8 L543.9,230.4 L547.4,230.0 L550.8,229.8 L554.1,229.8 L557.3,230.0 L560.5,230.3 L563.6,230.7 L566.7,231.3 L569.7,232.2 L572.7,233.4 L575.6,234.8 L578.4,236.6 L581.2,238.7 L583.9,240.9 L586.6,243.3 L589.3,245.6 L592.0,248.0 L594.7,250.5 L597.3,253.2 L600.0,255.8 L602.6,258.3 L605.3,260.8 L608.0,263.2 L610.9,265.8 L613.8,268.3 L616.4,270.6 L618.7,272.5 L620.3,273.9 L620.5,273.8 L618.9,272.2 L616.8,270.1 L614.3,267.7 L611.6,265.0 L608.9,262.3 L606.3,259.7 L603.8,257.2 L601.3,254.5 L598.7,251.8 L596.0,249.2 L593.2,246.7 L590.5,244.3 L587.7,242.0 L584.9,239.7 L582.1,237.5 L579.2,235.4 L576.3,233.6 L573.3,232.1 L570.2,230.9 L567.0,230.1 L563.8,229.5 L560.6,229.1 L557.4,228.8 L554.1,228.7 L550.7,228.7 L547.3,229.0 L543.8,229.4 L540.4,229.8 L537.0,230.2 L533.8,230.5 L530.6,230.6 L527.5,230.8 L524.5,230.9 L521.6,230.9 L518.7,230.6 L515.8,230.1 L512.8,229.2 L509.7,227.9 L506.6,226.3 L503.7,224.8 L501.3,223.4 L499.6,222.5Z" fill="#2aa39d" fill-opacity="1"/>
<path d="M497.2,218.7 L498.9,219.6 L501.3,220.8 L504.2,222.3 L507.3,223.8 L510.5,225.2 L513.5,226.1 L516.3,226.8 L519.2,227.2 L522.1,227.4 L525.0,227.5 L528.0,227.5 L531.1,227.5 L534.4,227.3 L537.8,226.8 L541.2,226.3 L544.7,225.8 L548.1,225.6 L551.4,225.7 L554.7,226.0 L558.1,226.6 L561.4,227.4 L564.7,228.4 L567.9,229.5 L571.0,230.9 L574.0,232.5 L576.9,234.3 L579.8,236.4 L582.5,238.6 L585.3,240.9 L588.0,243.3 L590.7,245.8 L593.3,248.6 L595.9,251.4 L598.5,254.2 L601.2,257.0 L603.9,259.6 L606.7,262.3 L609.8,265.1 L612.8,267.9 L615.6,270.4 L618.0,272.6 L619.7,274.1 L620.0,273.9 L618.4,272.2 L616.2,269.9 L613.6,267.1 L610.7,264.2 L607.9,261.2 L605.2,258.3 L602.7,255.5 L600.2,252.6 L597.7,249.7 L595.0,246.9 L592.3,244.2 L589.5,241.7 L586.7,239.3 L583.8,237.0 L580.9,234.8 L578.0,232.7 L574.9,230.9 L571.8,229.3 L568.6,227.9 L565.2,226.8 L561.8,225.9 L558.4,225.1 L554.9,224.6 L551.5,224.3 L548.0,224.3 L544.5,224.6 L541.0,225.1 L537.6,225.7 L534.3,226.2 L531.1,226.4 L528.0,226.5 L525.0,226.5 L522.1,226.4 L519.3,226.2 L516.5,225.9 L513.7,225.3 L510.8,224.4 L507.7,223.1 L504.5,221.6 L501.7,220.1 L499.3,218.9 L497.5,218.0Z" fill="#36b0a9" fill-opacity="1"/>
<path d="M496.3,225.6 L497.9,226.3 L500.0,227.4 L502.6,228.7 L505.4,230.0 L508.4,231.2 L511.4,232.1 L514.3,232.7 L517.4,233.1 L520.7,233.4 L523.9,233.6 L527.2,233.7 L530.5,233.7 L533.8,233.4 L537.2,232.9 L540.5,232.2 L543.8,231.6 L547.1,231.2 L550.3,231.1 L553.5,231.3 L556.7,231.7 L559.8,232.3 L562.9,233.0 L566.0,234.0 L569.1,235.1 L572.2,236.6 L575.4,238.4 L578.6,240.3 L581.7,242.5 L584.7,244.7 L587.6,246.9 L590.3,249.3 L592.8,251.8 L595.2,254.4 L597.7,257.0 L600.3,259.5 L602.9,261.9 L605.9,264.3 L609.1,266.8 L612.3,269.2 L615.3,271.4 L617.9,273.2 L619.7,274.5 L619.9,274.3 L618.2,272.9 L615.7,270.8 L612.9,268.5 L609.8,265.9 L606.8,263.2 L604.0,260.7 L601.5,258.2 L599.2,255.6 L596.7,252.9 L594.2,250.3 L591.6,247.8 L588.8,245.5 L585.8,243.2 L582.7,241.0 L579.5,238.9 L576.2,236.9 L573.0,235.1 L569.7,233.7 L566.5,232.5 L563.3,231.6 L560.1,230.8 L556.8,230.3 L553.6,230.0 L550.3,229.8 L547.0,230.0 L543.6,230.4 L540.3,231.1 L537.0,231.7 L533.7,232.3 L530.5,232.6 L527.2,232.6 L524.0,232.6 L520.7,232.4 L517.5,232.2 L514.5,231.8 L511.6,231.2 L508.7,230.3 L505.8,229.2 L503.0,227.9 L500.4,226.6 L498.2,225.5 L496.6,224.8Z" fill="#2faaa3" fill-opacity="1"/>
<path d="M492.3,224.6 L494.0,225.5 L496.3,226.8 L499.0,228.4 L502.0,229.9 L505.1,231.2 L508.1,232.2 L511.0,232.7 L514.0,232.9 L517.0,233.0 L520.1,232.9 L523.3,232.8 L526.5,232.6 L529.7,232.3 L533.1,231.7 L536.5,231.1 L539.9,230.5 L543.3,230.2 L546.7,230.1 L550.2,230.4 L553.7,230.8 L557.2,231.5 L560.7,232.3 L564.1,233.3 L567.3,234.5 L570.5,236.0 L573.5,237.6 L576.5,239.5 L579.4,241.6 L582.2,243.7 L585.1,245.9 L587.8,248.2 L590.5,250.7 L593.1,253.4 L595.8,256.0 L598.5,258.6 L601.4,261.0 L604.5,263.5 L607.8,266.2 L611.2,268.8 L614.4,271.1 L617.1,273.1 L619.0,274.6 L619.2,274.4 L617.4,272.8 L614.8,270.6 L611.8,268.1 L608.5,265.3 L605.3,262.5 L602.4,259.9 L599.7,257.3 L597.1,254.6 L594.5,251.9 L591.8,249.3 L589.1,246.8 L586.2,244.5 L583.3,242.3 L580.4,240.2 L577.4,238.2 L574.3,236.3 L571.2,234.6 L567.9,233.2 L564.5,232.0 L561.0,231.0 L557.5,230.2 L553.9,229.6 L550.3,229.2 L546.8,228.9 L543.3,229.0 L539.8,229.4 L536.3,230.0 L532.9,230.7 L529.6,231.3 L526.4,231.6 L523.2,231.8 L520.1,232.0 L517.0,232.1 L514.0,232.1 L511.1,231.9 L508.3,231.4 L505.4,230.5 L502.4,229.2 L499.4,227.7 L496.7,226.2 L494.4,224.9 L492.7,224.0Z" fill="#2aa39d" fill-opacity="1"/>
<path d="M480.8,229.5 L482.9,230.5 L485.9,232.1 L489.4,233.8 L493.3,235.6 L497.4,237.2 L501.4,238.4 L505.5,239.1 L510.0,239.4 L514.6,239.6 L519.1,239.6 L523.5,239.6 L527.5,239.7 L531.1,239.9 L534.4,240.0 L537.5,240.1 L540.5,240.2 L543.6,240.4 L546.8,240.9 L550.3,241.4 L553.8,242.0 L557.4,242.8 L560.9,243.7 L564.4,244.8 L567.7,246.1 L570.7,247.6 L573.6,249.2 L576.3,251.1 L579.1,253.2 L582.0,255.5 L585.0,258.1 L588.3,261.0 L591.8,264.4 L595.4,268.0 L599.1,271.6 L602.6,275.0 L605.8,278.2 L608.9,281.1 L611.9,284.2 L614.7,287.1 L617.2,289.7 L619.4,291.9 L621.0,293.5 L621.2,293.3 L619.7,291.6 L617.7,289.2 L615.4,286.4 L612.7,283.4 L609.9,280.2 L607.0,277.0 L603.9,273.7 L600.6,270.1 L597.0,266.5 L593.3,262.9 L589.7,259.5 L586.3,256.6 L583.2,254.0 L580.2,251.7 L577.3,249.7 L574.4,247.8 L571.5,246.1 L568.3,244.6 L564.9,243.3 L561.3,242.3 L557.7,241.4 L554.1,240.7 L550.5,240.1 L547.0,239.6 L543.7,239.2 L540.6,239.0 L537.5,238.9 L534.4,238.9 L531.1,238.9 L527.5,238.7 L523.5,238.6 L519.1,238.7 L514.6,238.7 L510.0,238.5 L505.6,238.2 L501.6,237.6 L497.6,236.5 L493.6,234.9 L489.8,233.1 L486.2,231.4 L483.3,229.9 L481.1,228.8Z" fill="#2aa39d" fill-opacity="1"/>
<path d="M483.8,230.3 L485.8,231.3 L488.6,232.8 L491.8,234.5 L495.5,236.2 L499.3,237.8 L503.2,238.9 L507.2,239.7 L511.5,240.2 L516.0,240.5 L520.6,240.6 L525.0,240.8 L529.0,240.9 L532.8,240.9 L536.5,240.8 L539.9,240.6 L543.3,240.5 L546.6,240.5 L549.9,240.9 L553.1,241.5 L556.4,242.3 L559.6,243.3 L562.7,244.5 L565.9,245.8 L569.0,247.3 L572.2,248.9 L575.2,250.6 L578.3,252.4 L581.4,254.4 L584.5,256.7 L587.6,259.2 L590.8,262.1 L594.2,265.5 L597.6,269.1 L601.0,272.6 L604.3,276.1 L607.3,279.1 L610.3,282.0 L613.2,284.9 L616.0,287.7 L618.5,290.2 L620.6,292.2 L622.2,293.7 L622.4,293.6 L620.9,291.9 L619.0,289.7 L616.6,287.1 L614.0,284.2 L611.2,281.2 L608.4,278.1 L605.5,274.9 L602.3,271.4 L599.0,267.7 L595.5,264.2 L592.1,260.8 L588.7,257.9 L585.5,255.4 L582.3,253.1 L579.1,251.1 L576.0,249.2 L572.8,247.6 L569.6,246.0 L566.4,244.6 L563.2,243.3 L560.0,242.1 L556.7,241.1 L553.4,240.3 L550.0,239.7 L546.6,239.4 L543.3,239.4 L539.9,239.6 L536.4,239.8 L532.8,239.9 L529.1,239.9 L525.0,239.8 L520.6,239.7 L516.1,239.6 L511.6,239.3 L507.3,238.8 L503.4,238.1 L499.6,237.0 L495.8,235.5 L492.2,233.8 L488.9,232.1 L486.2,230.7 L484.1,229.7Z" fill="#2faaa3" fill-opacity="1"/>
<path d="M487.8,234.6 L489.9,235.6 L492.8,237.0 L496.3,238.7 L500.1,240.4 L504.1,241.9 L508.0,243.1 L512.1,243.8 L516.4,244.3 L520.8,244.6 L525.2,244.8 L529.5,244.9 L533.5,245.1 L537.2,245.1 L540.7,244.9 L544.0,244.6 L547.3,244.4 L550.4,244.4 L553.6,244.6 L556.8,245.2 L560.0,245.9 L563.2,246.8 L566.3,247.9 L569.4,249.1 L572.4,250.4 L575.4,251.8 L578.3,253.4 L581.2,255.0 L584.1,256.9 L587.0,259.0 L590.0,261.4 L593.2,264.2 L596.5,267.5 L600.0,271.1 L603.4,274.6 L606.7,278.0 L609.7,281.1 L612.4,283.9 L615.0,286.8 L617.4,289.5 L619.6,292.0 L621.4,294.0 L622.7,295.5 L623.0,295.3 L621.8,293.7 L620.2,291.5 L618.2,288.9 L616.0,286.0 L613.6,282.9 L611.0,279.9 L608.2,276.6 L605.1,273.1 L601.7,269.4 L598.1,265.9 L594.7,262.6 L591.3,259.7 L588.2,257.3 L585.1,255.2 L582.2,253.4 L579.2,251.8 L576.2,250.3 L573.1,248.9 L570.0,247.6 L566.8,246.4 L563.6,245.4 L560.4,244.5 L557.1,243.8 L553.8,243.3 L550.5,243.1 L547.2,243.2 L544.0,243.4 L540.6,243.7 L537.2,244.0 L533.5,244.0 L529.5,243.9 L525.3,243.8 L520.8,243.7 L516.4,243.4 L512.2,242.9 L508.2,242.2 L504.4,241.1 L500.4,239.7 L496.6,238.0 L493.2,236.4 L490.3,234.9 L488.1,234.0Z" fill="#2aa39d" fill-opacity="1"/>
<path d="M487.4,234.5 L489.5,235.5 L492.2,237.0 L495.5,238.7 L499.2,240.5 L503.1,242.1 L506.9,243.2 L511.0,243.9 L515.4,244.4 L519.9,244.6 L524.5,244.8 L528.9,244.8 L532.9,244.9 L536.5,244.9 L539.9,244.7 L543.1,244.4 L546.2,244.1 L549.2,244.1 L552.4,244.3 L555.6,244.9 L559.0,245.6 L562.3,246.4 L565.6,247.5 L568.8,248.7 L572.0,250.0 L575.0,251.5 L578.0,253.1 L580.9,254.8 L583.7,256.8 L586.6,258.9 L589.6,261.3 L592.6,264.0 L595.8,267.1 L599.0,270.4 L602.2,273.8 L605.3,277.0 L608.2,279.9 L611.0,282.8 L613.7,285.8 L616.3,288.7 L618.7,291.3 L620.7,293.5 L622.2,295.2 L622.4,295.0 L621.1,293.2 L619.3,290.9 L617.1,288.1 L614.7,285.0 L612.1,281.8 L609.5,278.7 L606.8,275.6 L603.8,272.2 L600.7,268.8 L597.4,265.5 L594.1,262.4 L590.9,259.7 L587.9,257.3 L584.9,255.1 L581.9,253.2 L578.9,251.5 L575.8,249.9 L572.7,248.4 L569.4,247.1 L566.1,245.9 L562.7,244.9 L559.3,244.1 L555.9,243.4 L552.5,242.9 L549.3,242.7 L546.1,242.8 L543.0,243.1 L539.8,243.4 L536.5,243.7 L532.9,243.7 L528.9,243.7 L524.5,243.7 L520.0,243.6 L515.5,243.3 L511.1,242.9 L507.2,242.2 L503.4,241.1 L499.6,239.6 L495.9,237.9 L492.7,236.2 L489.9,234.7 L487.8,233.7Z" fill="#36b0a9" fill-opacity="1"/>
<path d="M480.2,232.1 L482.3,233.0 L485.1,234.3 L488.6,235.8 L492.3,237.3 L496.3,238.7 L500.3,239.7 L504.4,240.5 L508.9,241.1 L513.5,241.5 L518.1,241.9 L522.5,242.1 L526.6,242.3 L530.4,242.4 L533.8,242.2 L537.1,242.0 L540.3,241.8 L543.4,241.8 L546.6,242.1 L550.0,242.6 L553.4,243.3 L556.8,244.2 L560.1,245.2 L563.4,246.4 L566.7,247.8 L569.8,249.4 L572.8,251.1 L575.8,253.0 L578.8,255.1 L581.8,257.4 L585.0,260.0 L588.3,262.9 L591.8,266.2 L595.4,269.7 L599.0,273.2 L602.5,276.5 L605.7,279.5 L608.8,282.4 L611.9,285.3 L614.9,288.1 L617.6,290.6 L619.8,292.7 L621.5,294.3 L621.7,294.1 L620.1,292.4 L618.0,290.2 L615.5,287.5 L612.7,284.5 L609.8,281.5 L606.8,278.4 L603.7,275.2 L600.4,271.7 L596.9,268.2 L593.2,264.7 L589.6,261.4 L586.2,258.5 L583.0,256.0 L579.8,253.7 L576.7,251.6 L573.7,249.7 L570.5,247.9 L567.3,246.4 L564.0,245.0 L560.6,243.8 L557.1,242.7 L553.7,241.9 L550.2,241.2 L546.8,240.7 L543.5,240.5 L540.2,240.5 L537.0,240.8 L533.8,241.0 L530.3,241.2 L526.7,241.2 L522.6,241.0 L518.2,240.8 L513.6,240.5 L509.0,240.1 L504.6,239.5 L500.5,238.8 L496.6,237.7 L492.7,236.4 L488.9,234.9 L485.5,233.4 L482.7,232.1 L480.6,231.3Z" fill="#3db6ae" fill-opacity="1"/>
<path d="M484.3,229.8 L486.4,230.7 L489.3,232.1 L492.8,233.7 L496.6,235.3 L500.6,236.8 L504.6,237.9 L508.8,238.6 L513.4,239.1 L518.1,239.3 L522.9,239.5 L527.4,239.7 L531.5,239.8 L535.2,240.0 L538.6,239.9 L541.8,239.9 L544.9,239.9 L547.9,240.1 L551.0,240.4 L554.2,241.0 L557.5,241.7 L560.7,242.6 L563.9,243.6 L567.0,244.8 L570.1,246.3 L573.1,247.9 L575.9,249.7 L578.7,251.7 L581.6,253.9 L584.5,256.3 L587.5,258.9 L590.7,261.8 L594.1,265.0 L597.6,268.5 L601.1,271.9 L604.4,275.2 L607.5,278.3 L610.4,281.3 L613.3,284.4 L615.9,287.5 L618.3,290.3 L620.4,292.7 L621.9,294.4 L622.1,294.2 L620.7,292.4 L618.9,289.9 L616.7,286.9 L614.2,283.7 L611.5,280.3 L608.7,277.1 L605.8,273.9 L602.6,270.4 L599.2,266.9 L595.6,263.5 L592.1,260.3 L588.8,257.4 L585.7,254.8 L582.8,252.4 L579.8,250.2 L576.9,248.2 L573.9,246.4 L570.8,244.8 L567.6,243.3 L564.4,242.1 L561.1,241.1 L557.8,240.3 L554.5,239.6 L551.2,239.1 L548.0,238.7 L544.9,238.6 L541.8,238.6 L538.6,238.7 L535.2,238.8 L531.5,238.7 L527.4,238.5 L522.9,238.4 L518.2,238.3 L513.5,238.0 L509.0,237.6 L504.8,236.9 L500.9,235.9 L496.9,234.5 L493.1,232.9 L489.7,231.3 L486.8,229.9 L484.7,229.0Z" fill="#2faaa3" fill-opacity="1"/>
<path d="M483.7,226.8 L485.7,227.8 L488.4,229.3 L491.6,231.0 L495.2,232.8 L499.0,234.4 L502.9,235.6 L507.0,236.4 L511.5,237.1 L516.3,237.5 L521.0,237.8 L525.6,238.1 L529.8,238.3 L533.5,238.4 L537.0,238.3 L540.3,238.2 L543.5,238.1 L546.7,238.2 L549.9,238.5 L553.2,239.0 L556.6,239.7 L559.9,240.5 L563.2,241.4 L566.4,242.6 L569.5,244.0 L572.5,245.6 L575.3,247.3 L578.0,249.3 L580.8,251.4 L583.6,253.8 L586.6,256.5 L589.9,259.5 L593.4,263.0 L597.0,266.7 L600.6,270.4 L604.1,274.0 L607.3,277.2 L610.3,280.3 L613.2,283.4 L615.9,286.4 L618.4,289.1 L620.5,291.4 L622.0,293.0 L622.2,292.9 L620.8,291.1 L618.9,288.7 L616.5,285.9 L613.9,282.8 L611.2,279.5 L608.3,276.3 L605.3,272.9 L601.9,269.2 L598.4,265.4 L594.7,261.7 L591.1,258.3 L587.8,255.2 L584.7,252.6 L581.8,250.2 L578.9,248.0 L576.1,246.1 L573.2,244.3 L570.1,242.8 L566.9,241.4 L563.6,240.2 L560.2,239.3 L556.8,238.5 L553.4,237.9 L550.0,237.4 L546.7,237.1 L543.5,237.1 L540.3,237.2 L537.0,237.4 L533.5,237.5 L529.8,237.4 L525.6,237.2 L521.1,236.9 L516.3,236.7 L511.6,236.2 L507.1,235.7 L503.1,234.9 L499.3,233.7 L495.5,232.1 L491.9,230.4 L488.7,228.7 L486.0,227.2 L484.0,226.2Z" fill="#3db6ae" fill-opacity="1"/>
<path d="M485.2,237.2 L487.2,238.3 L490.0,239.7 L493.4,241.5 L497.0,243.3 L500.9,245.0 L504.7,246.4 L508.6,247.5 L512.7,248.5 L517.0,249.3 L521.3,250.1 L525.5,250.7 L529.5,251.3 L533.2,251.8 L536.7,252.0 L540.0,252.1 L543.3,252.2 L546.5,252.6 L549.8,253.3 L553.0,254.4 L556.3,255.7 L559.6,257.2 L562.8,258.9 L566.0,260.7 L569.1,262.7 L572.3,264.8 L575.4,267.0 L578.5,269.4 L581.5,272.0 L584.4,274.5 L587.3,277.1 L589.9,279.8 L592.4,282.6 L594.9,285.4 L597.3,288.3 L599.9,291.1 L602.6,293.8 L605.5,296.8 L608.7,299.9 L611.9,303.0 L614.8,306.0 L617.4,308.4 L619.2,310.2 L619.4,310.0 L617.7,308.1 L615.4,305.4 L612.6,302.4 L609.6,299.0 L606.6,295.7 L603.9,292.6 L601.4,289.7 L599.1,286.8 L596.6,283.9 L594.1,281.1 L591.5,278.3 L588.7,275.6 L585.8,273.0 L582.8,270.4 L579.7,267.9 L576.5,265.5 L573.3,263.3 L570.1,261.2 L566.8,259.3 L563.5,257.5 L560.2,255.8 L556.9,254.3 L553.5,253.0 L550.1,252.0 L546.7,251.3 L543.4,251.0 L540.1,250.8 L536.7,250.8 L533.3,250.6 L529.6,250.2 L525.7,249.7 L521.5,249.0 L517.2,248.3 L512.9,247.5 L508.8,246.6 L505.0,245.5 L501.2,244.1 L497.4,242.5 L493.7,240.7 L490.4,239.0 L487.6,237.5 L485.6,236.4Z" fill="#2aa39d" fill-opacity="1"/>
<path d="M487.5,245.5 L489.6,246.3 L492.5,247.4 L496.0,248.7 L499.7,250.1 L503.6,251.4 L507.4,252.6 L511.2,253.6 L515.2,254.6 L519.4,255.5 L523.5,256.3 L527.5,257.1 L531.3,257.7 L535.0,258.2 L538.5,258.5 L541.9,258.8 L545.2,259.0 L548.5,259.4 L551.7,260.1 L554.9,261.0 L558.1,262.1 L561.2,263.4 L564.3,264.8 L567.3,266.3 L570.4,268.1 L573.5,270.1 L576.5,272.3 L579.6,274.7 L582.6,277.2 L585.6,279.7 L588.5,282.1 L591.3,284.5 L593.9,286.8 L596.5,289.1 L599.1,291.4 L601.8,293.7 L604.5,296.0 L607.4,298.6 L610.5,301.5 L613.6,304.4 L616.6,307.1 L619.0,309.4 L620.8,311.0 L621.0,310.8 L619.3,309.1 L617.0,306.6 L614.2,303.8 L611.3,300.7 L608.3,297.7 L605.5,294.9 L603.0,292.4 L600.4,290.0 L597.8,287.6 L595.2,285.3 L592.5,283.0 L589.6,280.7 L586.7,278.4 L583.7,275.9 L580.6,273.4 L577.5,271.1 L574.3,268.8 L571.1,266.9 L568.0,265.1 L564.8,263.6 L561.7,262.2 L558.5,261.0 L555.3,259.9 L552.0,259.0 L548.6,258.3 L545.3,258.0 L541.9,257.7 L538.5,257.6 L535.1,257.3 L531.5,256.8 L527.6,256.2 L523.6,255.5 L519.5,254.7 L515.4,253.8 L511.4,252.9 L507.6,251.9 L503.9,250.7 L500.0,249.4 L496.2,248.1 L492.7,246.8 L489.8,245.6 L487.7,244.8Z" fill="#2faaa3" fill-opacity="1"/>
<path d="M485.7,238.2 L487.9,239.2 L490.8,240.5 L494.3,242.0 L498.2,243.7 L502.2,245.2 L506.1,246.6 L510.0,247.7 L514.1,248.7 L518.4,249.6 L522.7,250.5 L526.8,251.2 L530.6,251.9 L534.1,252.3 L537.4,252.4 L540.5,252.4 L543.4,252.5 L546.4,252.8 L549.5,253.5 L552.7,254.7 L556.0,256.2 L559.3,257.9 L562.6,259.7 L565.9,261.7 L569.2,263.8 L572.4,265.8 L575.6,268.0 L578.8,270.3 L581.9,272.7 L584.9,275.1 L587.7,277.6 L590.4,280.2 L592.9,282.9 L595.3,285.6 L597.8,288.4 L600.3,291.2 L603.0,293.9 L605.9,296.7 L609.0,299.8 L612.2,302.9 L615.2,305.8 L617.7,308.2 L619.5,309.9 L619.7,309.7 L618.0,307.8 L615.7,305.3 L612.9,302.2 L609.9,299.0 L607.0,295.7 L604.2,292.7 L601.8,289.8 L599.5,287.0 L597.1,284.1 L594.5,281.4 L591.9,278.7 L589.1,276.1 L586.2,273.6 L583.1,271.1 L579.9,268.8 L576.6,266.5 L573.4,264.3 L570.1,262.3 L566.8,260.3 L563.4,258.3 L560.0,256.5 L556.6,254.8 L553.2,253.3 L549.9,252.2 L546.6,251.5 L543.5,251.2 L540.5,251.1 L537.4,251.1 L534.2,251.1 L530.8,250.7 L527.0,250.1 L522.9,249.4 L518.6,248.6 L514.4,247.6 L510.2,246.7 L506.4,245.6 L502.5,244.3 L498.6,242.8 L494.7,241.2 L491.2,239.6 L488.3,238.3 L486.1,237.3Z" fill="#2faaa3" fill-opacity="1"/>
<path d="M484.6,235.8 L486.8,236.7 L489.9,238.0 L493.5,239.5 L497.4,241.0 L501.5,242.5 L505.3,243.8 L509.1,244.8 L513.0,245.8 L517.1,246.7 L521.1,247.5 L525.0,248.2 L528.7,248.9 L532.2,249.3 L535.6,249.5 L538.9,249.5 L542.1,249.7 L545.3,250.1 L548.5,250.9 L551.8,252.1 L555.2,253.6 L558.6,255.4 L562.0,257.4 L565.4,259.4 L568.6,261.5 L571.8,263.7 L575.0,266.1 L578.1,268.5 L581.1,271.1 L584.1,273.6 L586.9,276.2 L589.6,278.9 L592.1,281.6 L594.6,284.3 L597.1,287.1 L599.7,289.8 L602.4,292.5 L605.4,295.4 L608.6,298.6 L611.8,301.7 L614.8,304.7 L617.4,307.2 L619.2,308.9 L619.4,308.7 L617.7,306.8 L615.4,304.1 L612.6,301.0 L609.5,297.7 L606.5,294.3 L603.8,291.2 L601.3,288.4 L598.9,285.5 L596.4,282.7 L593.8,280.0 L591.2,277.3 L588.4,274.6 L585.4,272.1 L582.4,269.5 L579.3,267.0 L576.1,264.6 L572.8,262.3 L569.6,260.1 L566.2,258.1 L562.8,256.0 L559.3,254.1 L555.8,252.4 L552.3,250.8 L548.9,249.6 L545.5,248.9 L542.2,248.5 L538.9,248.4 L535.7,248.4 L532.3,248.3 L528.8,247.9 L525.1,247.3 L521.2,246.6 L517.2,245.9 L513.2,245.0 L509.3,244.1 L505.5,243.0 L501.7,241.8 L497.7,240.4 L493.7,238.8 L490.1,237.3 L487.1,236.1 L484.8,235.2Z" fill="#2aa39d" fill-opacity="1"/>
<path d="M490.4,237.4 L492.4,238.4 L495.1,239.8 L498.3,241.5 L501.9,243.2 L505.6,244.8 L509.4,246.0 L513.2,247.0 L517.4,247.8 L521.8,248.5 L526.1,249.1 L530.3,249.7 L534.2,250.2 L537.7,250.6 L541.1,250.9 L544.2,251.2 L547.3,251.5 L550.3,251.9 L553.4,252.7 L556.7,253.8 L559.9,255.1 L563.2,256.6 L566.5,258.3 L569.6,260.1 L572.7,262.1 L575.6,264.2 L578.4,266.6 L581.2,269.2 L583.9,271.8 L586.5,274.6 L589.2,277.2 L591.9,279.9 L594.5,282.7 L597.0,285.4 L599.6,288.2 L602.3,290.9 L604.9,293.5 L607.7,296.3 L610.7,299.3 L613.6,302.3 L616.4,305.1 L618.7,307.4 L620.4,309.1 L620.6,308.9 L619.1,307.1 L616.9,304.6 L614.3,301.7 L611.5,298.5 L608.7,295.3 L606.1,292.4 L603.6,289.6 L601.2,286.7 L598.6,283.9 L596.0,281.2 L593.3,278.5 L590.6,275.8 L587.9,273.2 L585.1,270.5 L582.4,267.9 L579.5,265.3 L576.6,262.9 L573.6,260.8 L570.4,258.8 L567.2,257.0 L563.8,255.3 L560.5,253.9 L557.1,252.6 L553.8,251.5 L550.6,250.8 L547.4,250.3 L544.3,250.0 L541.1,249.8 L537.9,249.6 L534.3,249.2 L530.4,248.7 L526.2,248.2 L521.9,247.6 L517.6,247.0 L513.4,246.2 L509.6,245.3 L505.9,244.0 L502.2,242.5 L498.6,240.8 L495.4,239.2 L492.7,237.8 L490.7,236.8Z" fill="#36b0a9" fill-opacity="1"/>
<path d="M486.0,240.5 L488.1,241.4 L490.9,242.8 L494.3,244.3 L498.0,245.9 L501.9,247.5 L505.7,248.7 L509.5,249.8 L513.6,250.8 L517.8,251.7 L522.0,252.5 L526.1,253.3 L530.0,254.0 L533.5,254.4 L536.9,254.7 L540.2,255.0 L543.4,255.2 L546.5,255.6 L549.8,256.3 L553.1,257.3 L556.5,258.4 L559.9,259.6 L563.3,261.0 L566.6,262.6 L569.8,264.4 L572.9,266.5 L575.9,268.9 L578.9,271.5 L581.8,274.2 L584.6,276.9 L587.4,279.5 L590.1,282.1 L592.6,284.7 L595.1,287.3 L597.6,289.8 L600.2,292.4 L603.0,294.9 L606.0,297.6 L609.4,300.5 L612.7,303.4 L615.9,306.1 L618.6,308.4 L620.5,310.0 L620.7,309.8 L618.9,308.1 L616.3,305.6 L613.3,302.8 L610.1,299.7 L606.9,296.6 L604.1,293.7 L601.5,291.1 L599.1,288.4 L596.6,285.8 L594.0,283.3 L591.4,280.7 L588.7,278.2 L585.9,275.6 L583.0,272.9 L580.0,270.2 L576.9,267.6 L573.8,265.2 L570.6,263.1 L567.3,261.3 L563.9,259.7 L560.4,258.3 L557.0,257.1 L553.5,256.0 L550.1,255.1 L546.7,254.4 L543.5,254.0 L540.3,253.8 L537.0,253.6 L533.7,253.4 L530.1,252.9 L526.3,252.3 L522.2,251.6 L518.0,250.8 L513.8,249.9 L509.7,248.9 L505.9,247.9 L502.2,246.6 L498.3,245.1 L494.6,243.5 L491.3,242.0 L488.4,240.7 L486.3,239.8Z" fill="#2aa39d" fill-opacity="1"/>
<path d="M482.4,242.6 L484.6,243.6 L487.5,245.0 L490.9,246.6 L494.8,248.3 L498.7,249.9 L502.6,251.3 L506.4,252.4 L510.6,253.4 L514.8,254.3 L519.0,255.1 L523.1,255.8 L527.0,256.4 L530.6,256.8 L534.0,256.9 L537.3,256.9 L540.5,257.0 L543.7,257.3 L547.0,258.0 L550.4,259.0 L553.9,260.3 L557.5,261.8 L561.0,263.5 L564.5,265.3 L567.8,267.2 L571.0,269.1 L574.1,271.1 L577.1,273.2 L580.1,275.5 L583.0,277.8 L585.8,280.1 L588.6,282.6 L591.2,285.2 L593.7,287.9 L596.3,290.5 L599.0,293.2 L601.8,295.7 L604.8,298.4 L608.1,301.2 L611.4,304.1 L614.4,306.7 L617.0,308.9 L618.9,310.4 L619.1,310.3 L617.3,308.5 L614.9,306.2 L611.9,303.4 L608.8,300.4 L605.7,297.4 L602.8,294.6 L600.2,291.9 L597.7,289.2 L595.2,286.5 L592.5,283.8 L589.8,281.2 L587.0,278.8 L584.1,276.4 L581.1,274.1 L578.1,271.9 L575.0,269.8 L571.8,267.8 L568.5,265.9 L565.1,264.1 L561.6,262.3 L558.0,260.7 L554.4,259.2 L550.8,257.9 L547.3,256.8 L543.9,256.2 L540.6,255.9 L537.3,255.9 L534.0,255.9 L530.7,255.8 L527.1,255.4 L523.3,254.9 L519.2,254.2 L515.0,253.4 L510.7,252.6 L506.6,251.6 L502.8,250.5 L499.0,249.2 L495.1,247.6 L491.2,245.9 L487.8,244.3 L484.9,242.9 L482.7,241.9Z" fill="#2faaa3" fill-opacity="1"/>
<path d="M488.4,260.8 L490.4,261.6 L493.3,262.7 L496.7,264.1 L500.3,265.5 L504.1,266.8 L507.5,267.9 L510.8,268.8 L514.2,269.4 L517.5,270.0 L520.9,270.6 L524.2,271.1 L527.6,271.7 L531.1,272.4 L534.6,273.0 L538.1,273.6 L541.6,274.2 L545.0,275.0 L548.3,276.0 L551.4,277.1 L554.5,278.3 L557.5,279.7 L560.5,281.1 L563.4,282.8 L566.3,284.6 L569.1,286.7 L571.8,289.0 L574.6,291.4 L577.3,294.0 L580.0,296.6 L582.7,299.1 L585.3,301.5 L587.9,303.9 L590.5,306.3 L593.2,308.7 L595.9,311.0 L598.7,313.4 L601.7,316.1 L605.0,319.0 L608.3,321.9 L611.3,324.6 L614.0,326.9 L615.9,328.6 L616.1,328.4 L614.3,326.6 L611.9,324.1 L609.0,321.1 L605.9,318.0 L602.8,314.9 L600.0,312.0 L597.4,309.5 L594.8,306.9 L592.2,304.5 L589.5,302.1 L586.9,299.8 L584.2,297.4 L581.4,295.0 L578.7,292.5 L575.9,289.9 L573.1,287.5 L570.2,285.2 L567.3,283.1 L564.3,281.3 L561.3,279.7 L558.2,278.2 L555.1,276.9 L551.9,275.7 L548.7,274.6 L545.3,273.7 L541.8,272.9 L538.3,272.3 L534.8,271.7 L531.3,271.2 L527.8,270.6 L524.4,270.0 L521.0,269.5 L517.7,269.0 L514.3,268.5 L511.1,267.8 L507.8,267.0 L504.3,266.0 L500.7,264.7 L497.0,263.3 L493.6,261.9 L490.8,260.8 L488.7,260.0Z" fill="#2faaa3" fill-opacity="1"/>
<path d="M486.8,252.8 L489.0,253.7 L492.0,254.9 L495.6,256.4 L499.5,257.9 L503.3,259.4 L506.9,260.5 L510.3,261.4 L513.7,262.1 L517.1,262.7 L520.4,263.3 L523.8,263.8 L527.2,264.5 L530.6,265.2 L534.0,265.8 L537.4,266.4 L540.8,267.2 L544.2,268.1 L547.4,269.2 L550.5,270.6 L553.6,272.2 L556.7,274.0 L559.7,275.9 L562.6,277.9 L565.5,280.0 L568.2,282.1 L570.8,284.4 L573.4,286.8 L576.0,289.3 L578.5,291.9 L581.2,294.5 L584.0,297.2 L586.8,299.9 L589.7,302.7 L592.6,305.5 L595.5,308.3 L598.4,311.0 L601.4,313.9 L604.6,317.1 L607.9,320.3 L610.8,323.3 L613.4,325.8 L615.2,327.6 L615.4,327.4 L613.7,325.5 L611.3,322.9 L608.5,319.8 L605.4,316.4 L602.3,313.1 L599.4,310.0 L596.7,307.1 L593.9,304.2 L591.0,301.3 L588.1,298.6 L585.2,295.9 L582.4,293.2 L579.7,290.7 L577.1,288.1 L574.5,285.7 L571.9,283.3 L569.2,281.0 L566.4,278.8 L563.4,276.7 L560.4,274.7 L557.4,272.8 L554.3,271.1 L551.1,269.5 L547.8,268.1 L544.5,266.9 L541.1,266.0 L537.7,265.3 L534.2,264.7 L530.8,264.1 L527.4,263.5 L524.0,262.8 L520.6,262.3 L517.2,261.8 L513.9,261.2 L510.5,260.5 L507.2,259.7 L503.6,258.5 L499.8,257.1 L495.9,255.6 L492.3,254.1 L489.3,252.9 L487.1,252.0Z" fill="#36b0a9" fill-opacity="1"/>
<path d="M485.4,256.2 L487.6,256.9 L490.6,257.9 L494.2,259.0 L498.0,260.2 L501.9,261.4 L505.5,262.4 L508.9,263.4 L512.3,264.2 L515.7,265.1 L519.1,265.9 L522.5,266.6 L526.0,267.3 L529.5,267.9 L533.1,268.3 L536.6,268.7 L540.1,269.1 L543.5,269.8 L546.8,270.7 L549.9,272.0 L553.0,273.5 L556.0,275.3 L559.0,277.2 L561.9,279.2 L564.7,281.3 L567.5,283.5 L570.2,285.8 L572.8,288.3 L575.5,290.8 L578.1,293.4 L580.8,296.0 L583.6,298.6 L586.4,301.2 L589.2,303.9 L592.0,306.5 L594.9,309.2 L597.8,311.8 L600.9,314.7 L604.2,317.8 L607.6,321.0 L610.7,323.9 L613.3,326.4 L615.2,328.2 L615.4,328.0 L613.6,326.1 L611.2,323.5 L608.2,320.4 L605.0,317.0 L601.8,313.7 L598.9,310.7 L596.1,307.9 L593.4,305.1 L590.6,302.4 L587.7,299.8 L584.9,297.2 L582.1,294.6 L579.4,292.1 L576.7,289.5 L574.0,287.0 L571.3,284.6 L568.5,282.2 L565.6,280.0 L562.7,278.0 L559.8,276.0 L556.7,274.1 L553.7,272.3 L550.5,270.8 L547.2,269.5 L543.8,268.5 L540.3,267.9 L536.7,267.5 L533.2,267.2 L529.6,266.8 L526.2,266.3 L522.7,265.6 L519.3,264.9 L515.9,264.1 L512.5,263.3 L509.1,262.4 L505.7,261.5 L502.1,260.5 L498.3,259.4 L494.4,258.2 L490.9,257.0 L487.9,256.0 L485.7,255.4Z" fill="#2faaa3" fill-opacity="1"/>
<path d="M488.2,254.1 L490.4,254.9 L493.4,255.9 L497.0,257.2 L500.9,258.5 L504.8,259.8 L508.4,260.9 L511.8,261.8 L515.1,262.7 L518.5,263.5 L521.9,264.2 L525.2,265.0 L528.5,265.7 L531.9,266.3 L535.3,266.8 L538.6,267.3 L541.9,267.9 L545.1,268.6 L548.3,269.7 L551.4,271.1 L554.5,272.7 L557.6,274.5 L560.6,276.4 L563.5,278.5 L566.4,280.6 L569.2,282.7 L571.8,285.0 L574.4,287.3 L577.0,289.8 L579.6,292.3 L582.3,294.8 L584.9,297.4 L587.6,300.0 L590.2,302.7 L592.9,305.4 L595.7,308.1 L598.5,310.8 L601.6,313.7 L604.9,317.0 L608.2,320.2 L611.4,323.2 L614.0,325.7 L615.9,327.6 L616.1,327.4 L614.3,325.5 L611.8,322.8 L608.8,319.6 L605.6,316.2 L602.5,312.9 L599.5,309.8 L596.9,307.0 L594.2,304.1 L591.6,301.4 L588.9,298.7 L586.2,296.1 L583.4,293.6 L580.8,291.1 L578.1,288.6 L575.5,286.2 L572.8,283.9 L570.1,281.6 L567.2,279.5 L564.3,277.4 L561.3,275.4 L558.2,273.4 L555.1,271.6 L551.9,270.0 L548.7,268.6 L545.4,267.6 L542.1,266.8 L538.8,266.3 L535.4,265.8 L532.1,265.4 L528.7,264.8 L525.4,264.1 L522.0,263.4 L518.7,262.6 L515.3,261.9 L512.0,261.1 L508.6,260.2 L505.0,259.1 L501.1,257.8 L497.3,256.5 L493.7,255.2 L490.6,254.2 L488.4,253.4Z" fill="#2aa39d" fill-opacity="1"/>
<path d="M488.6,259.7 L490.7,260.5 L493.8,261.7 L497.4,263.2 L501.2,264.6 L505.1,266.0 L508.8,267.1 L512.2,267.9 L515.6,268.5 L519.1,269.0 L522.5,269.5 L525.9,269.9 L529.3,270.5 L532.6,271.0 L535.9,271.5 L539.2,271.9 L542.4,272.5 L545.6,273.2 L548.7,274.1 L551.9,275.3 L555.0,276.7 L558.1,278.3 L561.1,280.0 L564.1,281.8 L567.0,283.8 L569.7,285.9 L572.3,288.2 L574.8,290.7 L577.3,293.2 L579.8,295.8 L582.4,298.4 L585.0,300.9 L587.6,303.5 L590.2,306.1 L592.9,308.7 L595.6,311.2 L598.4,313.7 L601.5,316.3 L604.8,319.2 L608.1,322.1 L611.2,324.7 L613.9,326.9 L615.8,328.5 L615.9,328.4 L614.1,326.6 L611.6,324.3 L608.7,321.4 L605.5,318.4 L602.3,315.4 L599.4,312.6 L596.8,310.0 L594.2,307.3 L591.6,304.7 L588.9,302.1 L586.3,299.6 L583.6,297.1 L581.0,294.6 L578.5,292.1 L575.9,289.5 L573.3,287.1 L570.6,284.7 L567.8,282.6 L564.8,280.6 L561.8,278.8 L558.7,277.1 L555.5,275.6 L552.3,274.2 L549.1,273.0 L545.9,272.1 L542.6,271.4 L539.3,270.9 L536.0,270.4 L532.7,270.0 L529.4,269.5 L526.0,269.0 L522.6,268.6 L519.2,268.2 L515.8,267.7 L512.3,267.1 L509.0,266.3 L505.4,265.3 L501.5,263.9 L497.6,262.4 L494.1,261.0 L491.0,259.8 L488.8,259.0Z" fill="#2aa39d" fill-opacity="1"/>
<path d="M493.2,253.0 L495.3,253.9 L498.2,255.1 L501.6,256.5 L505.3,258.0 L509.0,259.4 L512.5,260.5 L515.9,261.3 L519.3,262.0 L522.7,262.6 L526.2,263.1 L529.6,263.6 L532.9,264.3 L536.3,264.9 L539.7,265.6 L543.0,266.3 L546.4,267.1 L549.6,268.0 L552.7,269.2 L555.8,270.6 L558.8,272.2 L561.8,274.0 L564.7,276.0 L567.6,278.0 L570.3,280.1 L573.0,282.2 L575.5,284.4 L578.0,286.6 L580.5,289.0 L582.9,291.5 L585.4,294.0 L588.0,296.7 L590.6,299.5 L593.3,302.5 L595.9,305.4 L598.6,308.3 L601.2,311.1 L604.0,314.1 L606.9,317.3 L609.7,320.5 L612.3,323.5 L614.6,326.0 L616.2,327.8 L616.4,327.6 L614.9,325.7 L612.8,323.1 L610.4,319.9 L607.7,316.6 L605.0,313.2 L602.4,310.1 L599.9,307.1 L597.4,304.1 L594.7,301.1 L592.1,298.2 L589.4,295.4 L586.7,292.7 L584.2,290.2 L581.7,287.8 L579.2,285.4 L576.6,283.1 L574.0,280.9 L571.3,278.8 L568.4,276.8 L565.5,274.8 L562.6,272.9 L559.5,271.1 L556.4,269.4 L553.2,268.0 L550.0,266.8 L546.7,265.9 L543.3,265.1 L539.9,264.5 L536.5,263.9 L533.1,263.2 L529.7,262.6 L526.3,262.1 L522.9,261.6 L519.5,261.0 L516.1,260.4 L512.8,259.6 L509.3,258.5 L505.6,257.2 L501.9,255.7 L498.5,254.3 L495.6,253.1 L493.6,252.2Z" fill="#36b0a9" fill-opacity="1"/>
<path d="M488.9,254.2 L491.0,255.0 L493.9,256.2 L497.3,257.5 L501.0,258.9 L504.7,260.2 L508.2,261.2 L511.6,262.0 L514.9,262.6 L518.3,263.2 L521.6,263.7 L525.0,264.2 L528.3,264.9 L531.6,265.6 L534.9,266.3 L538.2,267.1 L541.5,268.0 L544.7,268.9 L548.0,270.1 L551.2,271.4 L554.5,272.8 L557.8,274.3 L561.0,276.0 L564.1,277.8 L567.0,279.8 L569.7,282.0 L572.3,284.4 L574.7,287.0 L577.2,289.7 L579.7,292.4 L582.3,295.1 L585.0,297.8 L587.7,300.4 L590.4,303.0 L593.2,305.6 L596.0,308.2 L598.8,310.8 L601.8,313.7 L604.9,317.0 L608.0,320.3 L610.9,323.4 L613.4,326.0 L615.1,327.9 L615.4,327.7 L613.7,325.7 L611.5,322.9 L608.8,319.6 L605.8,316.2 L602.9,312.7 L600.1,309.6 L597.5,306.7 L594.8,304.0 L592.0,301.3 L589.2,298.7 L586.4,296.2 L583.7,293.7 L581.1,291.1 L578.6,288.4 L576.1,285.7 L573.5,283.1 L570.8,280.7 L567.9,278.4 L564.9,276.4 L561.7,274.6 L558.4,273.0 L555.1,271.5 L551.7,270.2 L548.4,268.9 L545.1,267.8 L541.8,266.8 L538.5,266.0 L535.1,265.3 L531.8,264.6 L528.5,263.9 L525.1,263.3 L521.7,262.8 L518.4,262.3 L515.0,261.8 L511.7,261.2 L508.4,260.5 L505.0,259.4 L501.3,258.2 L497.6,256.8 L494.1,255.5 L491.3,254.4 L489.2,253.6Z" fill="#2aa39d" fill-opacity="1"/>
<path d="M492.2,266.8 L494.4,267.8 L497.4,269.2 L501.0,270.8 L504.8,272.6 L508.6,274.2 L512.0,275.6 L515.1,276.8 L518.2,277.7 L521.3,278.6 L524.3,279.5 L527.3,280.5 L530.2,281.6 L533.2,282.8 L536.1,284.1 L539.1,285.4 L542.0,286.8 L544.9,288.4 L547.7,290.0 L550.4,291.8 L553.2,293.8 L555.9,295.8 L558.6,297.9 L561.2,300.1 L563.8,302.3 L566.4,304.4 L569.0,306.6 L571.5,308.8 L574.0,311.0 L576.4,313.3 L578.7,315.6 L580.7,317.9 L582.5,320.2 L584.3,322.5 L586.2,325.0 L588.3,327.5 L590.7,330.2 L593.8,333.5 L597.4,337.3 L601.2,341.2 L604.8,344.9 L607.9,348.0 L610.1,350.2 L610.2,350.1 L608.2,347.7 L605.2,344.5 L601.7,340.6 L598.1,336.6 L594.7,332.7 L591.8,329.3 L589.5,326.5 L587.6,323.9 L585.8,321.4 L583.9,319.1 L582.0,316.8 L579.9,314.5 L577.5,312.1 L575.1,309.9 L572.5,307.7 L569.9,305.5 L567.3,303.3 L564.7,301.2 L562.0,299.1 L559.4,296.9 L556.7,294.8 L553.9,292.8 L551.1,290.8 L548.3,289.0 L545.4,287.4 L542.5,285.9 L539.5,284.5 L536.5,283.1 L533.6,281.9 L530.6,280.7 L527.5,279.6 L524.5,278.7 L521.5,277.8 L518.5,276.9 L515.4,276.0 L512.3,274.9 L508.9,273.5 L505.1,271.9 L501.3,270.1 L497.7,268.5 L494.7,267.1 L492.6,266.1Z" fill="#2faaa3" fill-opacity="1"/>
<path d="M490.6,265.6 L492.9,266.7 L496.1,268.3 L499.9,270.1 L503.9,272.0 L507.9,273.8 L511.4,275.3 L514.4,276.5 L517.3,277.5 L520.1,278.3 L522.9,279.1 L525.6,280.1 L528.5,281.2 L531.4,282.4 L534.5,283.7 L537.5,285.1 L540.6,286.6 L543.6,288.2 L546.6,289.9 L549.5,291.8 L552.4,293.7 L555.4,295.8 L558.2,297.9 L561.0,300.1 L563.7,302.2 L566.2,304.4 L568.7,306.7 L571.1,309.0 L573.4,311.3 L575.7,313.6 L577.8,316.0 L579.9,318.3 L581.7,320.5 L583.5,322.8 L585.4,325.1 L587.5,327.6 L590.0,330.3 L593.0,333.5 L596.5,337.2 L600.2,341.1 L603.7,344.8 L606.7,347.9 L608.8,350.1 L609.1,349.9 L607.1,347.5 L604.3,344.2 L600.9,340.4 L597.5,336.3 L594.1,332.4 L591.4,329.1 L589.1,326.2 L587.2,323.6 L585.4,321.3 L583.5,319.0 L581.6,316.8 L579.5,314.5 L577.2,312.2 L574.9,309.9 L572.5,307.6 L570.0,305.3 L567.4,303.1 L564.8,300.9 L562.1,298.7 L559.2,296.6 L556.3,294.5 L553.3,292.5 L550.3,290.5 L547.3,288.7 L544.2,287.0 L541.2,285.5 L538.0,284.0 L535.0,282.6 L531.9,281.3 L528.9,280.1 L526.0,279.0 L523.2,278.1 L520.4,277.3 L517.6,276.5 L514.7,275.6 L511.7,274.5 L508.2,273.0 L504.3,271.2 L500.3,269.3 L496.5,267.5 L493.3,266.0 L491.0,264.9Z" fill="#2faaa3" fill-opacity="1"/>
<path d="M492.5,267.2 L494.8,268.3 L497.9,269.9 L501.7,271.7 L505.6,273.6 L509.6,275.4 L513.1,276.8 L516.3,277.9 L519.4,278.8 L522.3,279.5 L525.3,280.2 L528.2,280.9 L531.1,281.9 L534.1,283.1 L537.1,284.3 L540.0,285.6 L542.9,287.0 L545.8,288.6 L548.7,290.2 L551.5,292.1 L554.3,294.1 L557.1,296.3 L559.8,298.5 L562.5,300.8 L565.1,303.0 L567.6,305.3 L570.1,307.6 L572.5,310.0 L574.8,312.4 L577.1,314.8 L579.3,317.1 L581.4,319.4 L583.2,321.6 L585.0,323.8 L586.9,326.1 L589.1,328.4 L591.5,330.9 L594.5,334.0 L598.0,337.5 L601.7,341.1 L605.2,344.5 L608.2,347.4 L610.3,349.5 L610.5,349.3 L608.5,347.1 L605.7,344.0 L602.4,340.4 L598.9,336.6 L595.6,333.0 L592.8,329.8 L590.5,327.1 L588.6,324.7 L586.7,322.4 L584.9,320.2 L582.9,318.0 L580.8,315.8 L578.5,313.4 L576.2,311.1 L573.8,308.7 L571.3,306.4 L568.7,304.1 L566.1,301.8 L563.5,299.6 L560.8,297.3 L558.0,295.1 L555.1,293.0 L552.3,291.0 L549.4,289.1 L546.5,287.5 L543.5,285.9 L540.5,284.5 L537.5,283.3 L534.5,282.1 L531.5,280.9 L528.5,280.0 L525.5,279.2 L522.6,278.5 L519.6,277.9 L516.5,277.1 L513.4,276.0 L509.9,274.6 L506.0,272.8 L502.0,271.0 L498.3,269.1 L495.1,267.6 L492.8,266.5Z" fill="#2aa39d" fill-opacity="1"/>
<path d="M498.2,263.8 L500.3,264.7 L503.2,265.9 L506.7,267.4 L510.4,269.0 L514.1,270.5 L517.5,271.9 L520.7,273.2 L523.9,274.4 L527.1,275.6 L530.3,276.8 L533.3,278.0 L536.3,279.2 L539.2,280.3 L542.0,281.4 L544.8,282.5 L547.5,283.6 L550.1,284.9 L552.8,286.4 L555.6,288.3 L558.4,290.4 L561.2,292.6 L563.9,295.0 L566.6,297.4 L569.1,299.7 L571.4,302.1 L573.6,304.5 L575.7,306.9 L577.8,309.3 L579.8,311.8 L581.8,314.3 L583.7,316.7 L585.5,319.1 L587.2,321.5 L589.0,323.9 L591.1,326.5 L593.4,329.2 L596.1,332.4 L599.2,336.1 L602.4,340.0 L605.5,343.6 L608.2,346.7 L610.1,348.8 L610.3,348.6 L608.6,346.3 L606.2,343.1 L603.3,339.3 L600.2,335.3 L597.3,331.4 L594.8,328.1 L592.8,325.2 L591.0,322.5 L589.2,320.0 L587.4,317.7 L585.5,315.3 L583.5,312.9 L581.5,310.4 L579.4,308.0 L577.2,305.6 L575.0,303.1 L572.7,300.8 L570.3,298.4 L567.7,296.1 L565.0,293.7 L562.2,291.4 L559.3,289.1 L556.4,287.1 L553.6,285.2 L550.8,283.7 L548.0,282.4 L545.3,281.2 L542.5,280.2 L539.7,279.2 L536.8,278.1 L533.7,276.9 L530.6,275.7 L527.5,274.6 L524.3,273.4 L521.1,272.2 L517.9,271.0 L514.5,269.6 L510.8,268.1 L507.0,266.6 L503.6,265.1 L500.6,263.9 L498.5,263.0Z" fill="#36b0a9" fill-opacity="1"/>
<path d="M492.7,265.1 L495.0,266.2 L498.2,267.6 L501.9,269.4 L505.9,271.2 L509.8,273.0 L513.3,274.5 L516.4,275.7 L519.4,276.8 L522.4,277.8 L525.2,278.7 L528.1,279.8 L531.0,280.9 L534.0,282.2 L537.0,283.4 L540.0,284.8 L542.9,286.2 L545.9,287.7 L548.7,289.3 L551.5,291.0 L554.2,292.8 L556.9,294.8 L559.6,296.8 L562.2,298.9 L564.8,301.0 L567.3,303.2 L569.8,305.5 L572.3,307.9 L574.7,310.4 L577.0,312.8 L579.2,315.2 L581.2,317.5 L582.9,319.7 L584.5,322.0 L586.2,324.3 L588.3,326.8 L590.6,329.5 L593.6,332.8 L597.1,336.7 L600.9,340.7 L604.5,344.6 L607.5,347.8 L609.7,350.1 L609.9,350.0 L607.9,347.5 L604.9,344.1 L601.5,340.1 L597.9,336.0 L594.6,332.0 L591.8,328.5 L589.6,325.7 L587.8,323.1 L586.1,320.8 L584.4,318.6 L582.6,316.3 L580.6,314.0 L578.3,311.6 L575.9,309.2 L573.4,306.8 L570.9,304.4 L568.3,302.1 L565.7,299.9 L563.1,297.7 L560.4,295.7 L557.7,293.7 L554.9,291.8 L552.1,290.0 L549.3,288.3 L546.4,286.7 L543.4,285.2 L540.4,283.8 L537.4,282.5 L534.4,281.2 L531.4,280.0 L528.5,278.9 L525.5,277.9 L522.6,276.9 L519.7,276.0 L516.7,274.9 L513.6,273.7 L510.1,272.2 L506.2,270.5 L502.2,268.7 L498.5,267.0 L495.3,265.5 L493.0,264.4Z" fill="#2aa39d" fill-opacity="1"/>
<path d="M494.9,267.6 L497.0,268.6 L500.0,270.0 L503.6,271.7 L507.4,273.4 L511.1,275.1 L514.5,276.6 L517.7,277.9 L520.8,279.1 L523.8,280.2 L526.8,281.3 L529.8,282.3 L532.7,283.5 L535.7,284.6 L538.7,285.7 L541.6,286.7 L544.5,287.9 L547.4,289.2 L550.2,290.6 L552.9,292.3 L555.6,294.2 L558.2,296.2 L560.9,298.3 L563.4,300.4 L565.9,302.6 L568.4,304.9 L570.9,307.3 L573.3,309.7 L575.7,312.2 L578.0,314.7 L580.2,317.0 L582.2,319.3 L583.9,321.3 L585.6,323.4 L587.4,325.5 L589.5,327.7 L591.8,330.2 L594.7,333.3 L598.1,337.0 L601.7,340.8 L605.1,344.5 L608.1,347.6 L610.2,349.8 L610.3,349.6 L608.4,347.3 L605.6,344.1 L602.3,340.3 L598.9,336.3 L595.6,332.5 L592.9,329.3 L590.7,326.6 L588.8,324.3 L587.1,322.2 L585.3,320.1 L583.5,318.1 L581.4,315.9 L579.2,313.5 L576.9,311.1 L574.5,308.6 L572.0,306.2 L569.5,303.8 L566.9,301.5 L564.3,299.3 L561.7,297.2 L559.1,295.1 L556.3,293.1 L553.6,291.2 L550.8,289.6 L547.9,288.1 L545.0,286.8 L542.0,285.7 L539.1,284.6 L536.1,283.6 L533.1,282.5 L530.1,281.4 L527.1,280.3 L524.1,279.3 L521.1,278.2 L518.0,277.0 L514.9,275.8 L511.5,274.3 L507.7,272.6 L503.9,270.9 L500.4,269.2 L497.4,267.8 L495.2,266.8Z" fill="#2faaa3" fill-opacity="1"/>
<path d="M498.3,266.5 L500.6,267.5 L503.8,268.8 L507.6,270.4 L511.6,272.1 L515.5,273.7 L519.1,275.0 L522.2,276.2 L525.2,277.2 L528.2,278.1 L531.1,279.1 L534.0,280.1 L536.8,281.2 L539.7,282.4 L542.6,283.7 L545.4,285.0 L548.2,286.5 L551.0,288.0 L553.7,289.6 L556.5,291.4 L559.2,293.3 L561.9,295.3 L564.5,297.4 L567.1,299.5 L569.5,301.7 L571.9,303.8 L574.2,306.0 L576.5,308.3 L578.6,310.6 L580.7,312.9 L582.7,315.3 L584.5,317.6 L586.1,319.9 L587.7,322.2 L589.4,324.5 L591.3,327.1 L593.4,329.8 L596.1,333.1 L599.2,337.0 L602.5,341.0 L605.7,344.8 L608.4,348.1 L610.3,350.4 L610.5,350.2 L608.7,347.8 L606.2,344.4 L603.2,340.5 L600.1,336.3 L597.1,332.4 L594.6,328.9 L592.7,326.1 L591.0,323.5 L589.3,321.0 L587.7,318.8 L586.0,316.5 L584.0,314.2 L582.0,311.8 L579.8,309.5 L577.6,307.2 L575.3,304.9 L572.9,302.7 L570.5,300.6 L568.0,298.4 L565.3,296.3 L562.6,294.3 L559.9,292.3 L557.1,290.4 L554.3,288.6 L551.5,287.0 L548.7,285.5 L545.8,284.1 L543.0,282.8 L540.1,281.6 L537.2,280.4 L534.3,279.3 L531.4,278.3 L528.4,277.4 L525.5,276.4 L522.5,275.4 L519.3,274.3 L515.8,273.0 L511.9,271.4 L507.8,269.7 L504.1,268.2 L500.9,266.9 L498.6,265.9Z" fill="#3db6ae" fill-opacity="1"/>
<path d="M526.3,311.1 L526.9,312.5 L527.8,314.5 L528.8,316.8 L529.9,319.4 L531.2,322.0 L532.5,324.4 L534.0,326.8 L535.6,329.2 L537.3,331.6 L539.1,334.1 L541.0,336.7 L542.8,339.4 L544.6,342.2 L546.4,345.1 L548.2,348.2 L550.2,351.3 L552.3,354.5 L554.7,357.7 L557.5,361.1 L560.6,364.6 L563.9,368.1 L567.2,371.6 L570.5,375.2 L573.7,378.7 L576.8,382.2 L579.9,385.7 L583.0,389.3 L586.0,392.8 L589.0,396.2 L591.8,399.6 L594.5,402.8 L597.1,405.9 L599.6,408.9 L602.1,411.9 L604.5,414.6 L606.8,417.3 L609.0,420.0 L611.1,422.8 L613.2,425.6 L615.0,428.1 L616.5,430.2 L617.7,431.7 L618.0,431.5 L617.0,429.9 L615.7,427.6 L614.1,424.9 L612.3,422.0 L610.4,419.0 L608.4,416.0 L606.3,413.2 L604.1,410.2 L601.6,407.2 L599.0,404.2 L596.3,401.2 L593.5,398.0 L590.6,394.8 L587.6,391.4 L584.5,388.0 L581.3,384.5 L578.2,381.0 L575.0,377.5 L571.7,374.1 L568.3,370.6 L564.9,367.1 L561.6,363.6 L558.5,360.3 L555.7,357.0 L553.2,353.8 L551.0,350.7 L549.1,347.6 L547.2,344.6 L545.4,341.7 L543.5,338.9 L541.6,336.3 L539.7,333.7 L537.9,331.2 L536.1,328.8 L534.5,326.5 L533.0,324.2 L531.6,321.7 L530.3,319.2 L529.2,316.6 L528.2,314.3 L527.3,312.3 L526.7,310.9Z" fill="#2aa39d" fill-opacity="1"/>
<path d="M523.9,304.2 L524.7,306.0 L525.7,308.4 L526.9,311.3 L528.3,314.4 L529.8,317.5 L531.2,320.4 L532.8,323.1 L534.4,325.8 L536.1,328.5 L537.8,331.3 L539.7,334.0 L541.6,336.9 L543.6,339.8 L545.6,342.7 L547.7,345.7 L549.9,348.7 L552.2,351.9 L554.7,355.2 L557.3,358.6 L560.1,362.2 L563.1,365.9 L566.1,369.6 L569.1,373.4 L572.1,377.1 L575.1,380.8 L578.1,384.6 L581.1,388.3 L584.2,392.0 L587.2,395.7 L590.1,399.2 L593.1,402.6 L596.1,406.0 L599.0,409.2 L601.9,412.3 L604.7,415.1 L607.2,417.8 L609.5,420.4 L611.7,422.9 L613.7,425.4 L615.5,427.5 L617.0,429.3 L618.1,430.7 L618.4,430.4 L617.5,429.0 L616.3,427.0 L614.8,424.6 L613.0,421.9 L611.1,419.1 L609.0,416.3 L606.7,413.4 L604.1,410.3 L601.3,407.2 L598.2,404.0 L595.2,400.7 L592.2,397.4 L589.1,394.0 L586.1,390.5 L582.9,386.8 L579.8,383.1 L576.7,379.5 L573.6,375.8 L570.6,372.2 L567.5,368.5 L564.4,364.8 L561.4,361.2 L558.5,357.6 L555.8,354.3 L553.3,351.0 L550.9,347.9 L548.7,344.9 L546.5,342.0 L544.4,339.1 L542.4,336.3 L540.5,333.5 L538.6,330.7 L536.8,328.1 L535.1,325.4 L533.4,322.7 L531.9,320.1 L530.4,317.2 L528.9,314.1 L527.5,311.0 L526.3,308.1 L525.2,305.7 L524.5,304.0Z" fill="#2faaa3" fill-opacity="1"/>
<path d="M521.7,309.4 L522.6,311.0 L523.8,313.1 L525.2,315.7 L526.8,318.5 L528.4,321.3 L529.9,323.9 L531.4,326.4 L533.0,328.8 L534.5,331.2 L536.2,333.6 L538.0,336.2 L539.9,338.9 L542.0,341.8 L544.1,344.8 L546.4,348.0 L548.8,351.2 L551.3,354.4 L553.9,357.7 L556.6,361.1 L559.4,364.5 L562.3,368.0 L565.3,371.5 L568.4,375.0 L571.4,378.5 L574.5,381.9 L577.7,385.4 L581.0,388.8 L584.2,392.3 L587.3,395.6 L590.2,398.9 L593.1,402.2 L595.8,405.4 L598.4,408.6 L601.0,411.7 L603.6,414.6 L606.1,417.3 L608.5,419.9 L610.8,422.6 L613.1,425.2 L615.1,427.5 L616.8,429.4 L618.1,430.8 L618.4,430.6 L617.3,429.1 L615.8,427.0 L614.0,424.5 L612.0,421.7 L609.8,418.8 L607.6,416.0 L605.4,413.1 L603.1,410.0 L600.5,406.9 L597.7,403.8 L594.9,400.6 L592.0,397.4 L588.9,394.1 L585.7,390.8 L582.4,387.4 L579.1,384.1 L575.8,380.7 L572.7,377.3 L569.6,373.9 L566.5,370.5 L563.5,367.0 L560.5,363.6 L557.6,360.3 L554.9,357.0 L552.2,353.7 L549.7,350.5 L547.2,347.4 L544.9,344.3 L542.7,341.3 L540.6,338.4 L538.6,335.8 L536.8,333.2 L535.1,330.8 L533.5,328.4 L531.9,326.1 L530.4,323.7 L528.8,321.1 L527.2,318.3 L525.6,315.5 L524.2,312.9 L523.0,310.8 L522.1,309.2Z" fill="#3db6ae" fill-opacity="1"/>
<path d="M530.1,305.4 L530.7,307.5 L531.6,310.3 L532.6,313.8 L533.7,317.5 L534.8,321.1 L535.8,324.6 L536.8,327.8 L537.8,331.1 L538.7,334.3 L539.7,337.5 L540.7,340.8 L541.7,344.0 L542.7,347.1 L543.6,350.2 L544.5,353.2 L545.5,356.4 L546.9,359.7 L548.7,363.2 L551.1,367.1 L554.0,371.1 L557.1,375.3 L560.4,379.5 L563.7,383.7 L566.8,387.8 L569.8,391.8 L572.8,395.7 L575.8,399.6 L578.8,403.5 L581.8,407.4 L584.8,411.4 L587.9,415.6 L591.1,419.9 L594.3,424.3 L597.5,428.5 L600.8,432.4 L604.0,436.0 L607.2,439.4 L610.5,442.6 L613.6,445.7 L616.5,448.3 L619.0,450.5 L620.8,452.2 L621.1,451.9 L619.5,450.0 L617.3,447.6 L614.7,444.7 L611.8,441.4 L608.8,437.9 L605.9,434.4 L603.1,430.6 L600.1,426.5 L596.9,422.3 L593.6,418.0 L590.3,413.7 L587.1,409.6 L583.9,405.7 L580.8,401.8 L577.7,398.0 L574.6,394.2 L571.5,390.4 L568.5,386.5 L565.2,382.5 L561.9,378.3 L558.5,374.2 L555.3,370.1 L552.4,366.2 L550.0,362.5 L548.1,359.1 L546.7,355.9 L545.6,352.9 L544.6,349.9 L543.7,346.8 L542.7,343.7 L541.5,340.5 L540.5,337.3 L539.4,334.1 L538.4,330.8 L537.4,327.6 L536.4,324.4 L535.4,321.0 L534.2,317.3 L533.1,313.6 L532.1,310.2 L531.2,307.3 L530.5,305.3Z" fill="#3db6ae" fill-opacity="1"/>
<path d="M528.1,313.0 L528.7,314.7 L529.6,316.9 L530.6,319.5 L531.7,322.4 L532.9,325.3 L534.0,328.2 L535.2,331.1 L536.4,334.0 L537.6,337.1 L538.8,340.2 L540.0,343.3 L541.2,346.5 L542.1,349.5 L542.8,352.5 L543.5,355.6 L544.3,358.8 L545.5,362.1 L547.3,365.6 L549.7,369.3 L552.7,373.2 L556.0,377.2 L559.4,381.2 L562.9,385.2 L566.1,389.2 L569.2,393.2 L572.2,397.3 L575.3,401.3 L578.3,405.4 L581.4,409.4 L584.4,413.4 L587.6,417.4 L590.7,421.3 L593.9,425.3 L597.1,429.1 L600.4,432.7 L603.5,436.0 L606.8,439.2 L610.2,442.4 L613.5,445.4 L616.6,448.1 L619.2,450.4 L621.0,452.0 L621.3,451.8 L619.6,449.9 L617.2,447.5 L614.4,444.5 L611.3,441.3 L608.2,437.9 L605.2,434.5 L602.3,431.0 L599.3,427.3 L596.1,423.4 L592.9,419.6 L589.6,415.7 L586.4,411.8 L583.3,407.9 L580.2,404.0 L577.0,400.0 L573.9,396.0 L570.8,392.0 L567.6,388.0 L564.3,384.1 L560.8,380.1 L557.2,376.1 L553.9,372.2 L550.9,368.4 L548.5,364.9 L546.7,361.5 L545.5,358.4 L544.6,355.3 L543.8,352.3 L543.1,349.2 L542.1,346.1 L540.9,343.0 L539.6,339.9 L538.3,336.8 L537.0,333.8 L535.8,330.8 L534.6,328.0 L533.5,325.1 L532.3,322.1 L531.1,319.3 L530.1,316.7 L529.2,314.5 L528.5,312.9Z" fill="#3db6ae" fill-opacity="1"/>
<path d="M531.2,310.4 L531.8,312.2 L532.7,314.6 L533.8,317.5 L535.0,320.7 L536.1,323.9 L537.0,326.9 L537.9,329.9 L538.6,333.0 L539.3,336.1 L540.0,339.2 L540.8,342.4 L541.7,345.5 L542.7,348.5 L543.6,351.4 L544.6,354.4 L545.8,357.4 L547.3,360.6 L549.1,364.0 L551.5,367.7 L554.3,371.6 L557.4,375.7 L560.6,379.8 L563.8,383.9 L567.0,388.0 L570.0,392.0 L573.1,395.9 L576.3,399.9 L579.4,403.9 L582.5,407.9 L585.6,411.9 L588.6,415.9 L591.6,420.1 L594.7,424.3 L597.7,428.3 L600.8,432.1 L603.9,435.6 L607.1,439.0 L610.4,442.3 L613.6,445.3 L616.6,448.1 L619.2,450.3 L621.0,452.0 L621.3,451.8 L619.6,449.9 L617.2,447.5 L614.4,444.5 L611.4,441.3 L608.3,437.8 L605.4,434.3 L602.7,430.7 L599.8,426.8 L596.8,422.7 L593.7,418.6 L590.5,414.5 L587.4,410.5 L584.2,406.5 L581.0,402.6 L577.8,398.7 L574.6,394.8 L571.4,390.8 L568.3,386.9 L565.1,382.9 L561.8,378.9 L558.5,374.8 L555.4,370.8 L552.6,367.0 L550.2,363.4 L548.3,360.1 L546.8,357.0 L545.5,354.0 L544.5,351.1 L543.5,348.2 L542.5,345.2 L541.5,342.2 L540.7,339.0 L539.9,335.9 L539.2,332.8 L538.4,329.8 L537.6,326.8 L536.5,323.7 L535.4,320.5 L534.2,317.3 L533.1,314.4 L532.2,312.0 L531.6,310.2Z" fill="#2faaa3" fill-opacity="1"/>
<path d="M545.7,314.4 L545.7,316.6 L545.8,319.7 L545.9,323.3 L546.0,327.2 L546.1,331.2 L546.3,335.0 L546.4,338.7 L546.6,342.5 L546.8,346.4 L547.0,350.3 L547.3,354.3 L547.6,358.2 L547.9,362.1 L548.0,366.0 L548.1,370.0 L548.5,374.0 L549.3,378.2 L550.7,382.5 L552.9,387.0 L555.7,391.6 L558.9,396.3 L562.3,401.0 L565.7,405.6 L569.0,410.0 L572.2,414.3 L575.4,418.5 L578.7,422.6 L581.9,426.5 L585.1,430.4 L588.1,434.2 L590.9,437.9 L593.6,441.6 L596.3,445.1 L598.9,448.6 L601.6,451.8 L604.3,454.9 L607.1,458.1 L609.9,461.3 L612.8,464.5 L615.4,467.3 L617.6,469.7 L619.2,471.4 L619.5,471.1 L618.1,469.2 L616.2,466.6 L613.8,463.6 L611.3,460.2 L608.7,456.8 L606.2,453.4 L603.8,450.1 L601.4,446.7 L598.8,443.2 L596.1,439.7 L593.2,436.1 L590.3,432.5 L587.2,428.7 L583.9,424.9 L580.6,421.0 L577.2,417.0 L573.9,412.9 L570.6,408.8 L567.3,404.4 L563.8,399.9 L560.3,395.3 L557.1,390.7 L554.3,386.2 L552.1,381.9 L550.7,377.8 L549.8,373.8 L549.3,369.9 L549.1,366.0 L549.0,362.1 L548.7,358.2 L548.3,354.2 L547.9,350.3 L547.7,346.4 L547.4,342.5 L547.2,338.7 L547.0,335.0 L546.8,331.2 L546.6,327.2 L546.5,323.3 L546.4,319.7 L546.3,316.6 L546.2,314.4Z" fill="#36b0a9" fill-opacity="1"/>
<path d="M543.0,313.3 L543.2,315.7 L543.6,319.0 L544.1,323.0 L544.5,327.2 L544.9,331.5 L545.3,335.5 L545.5,339.1 L545.6,342.8 L545.7,346.5 L545.8,350.2 L546.0,354.0 L546.4,357.9 L546.7,361.9 L546.9,365.9 L547.3,370.0 L547.8,374.2 L548.8,378.5 L550.3,382.8 L552.6,387.3 L555.4,391.9 L558.6,396.5 L562.0,401.1 L565.4,405.6 L568.7,410.0 L571.9,414.2 L575.2,418.4 L578.5,422.4 L581.7,426.4 L584.9,430.3 L587.8,434.1 L590.5,437.7 L593.1,441.3 L595.6,444.7 L598.0,448.0 L600.6,451.2 L603.2,454.3 L606.0,457.5 L608.9,460.7 L611.9,463.9 L614.6,466.8 L616.9,469.2 L618.5,471.0 L618.8,470.7 L617.3,468.8 L615.3,466.2 L612.8,463.1 L610.2,459.7 L607.5,456.2 L605.0,452.9 L602.7,449.6 L600.4,446.3 L598.0,442.9 L595.4,439.5 L592.7,436.0 L589.9,432.4 L586.8,428.7 L583.6,424.9 L580.2,421.0 L576.8,417.0 L573.5,412.9 L570.2,408.8 L566.9,404.5 L563.4,400.0 L559.9,395.5 L556.7,391.0 L553.8,386.6 L551.6,382.3 L550.0,378.1 L549.0,374.0 L548.4,369.9 L548.0,365.8 L547.7,361.8 L547.3,357.8 L546.9,354.0 L546.6,350.2 L546.4,346.5 L546.3,342.8 L546.1,339.1 L545.8,335.4 L545.5,331.4 L545.0,327.2 L544.5,322.9 L544.1,319.0 L543.7,315.6 L543.4,313.2Z" fill="#2aa39d" fill-opacity="1"/>
<path d="M549.2,315.2 L549.1,317.5 L549.0,320.6 L548.8,324.2 L548.6,328.2 L548.5,332.2 L548.5,336.0 L548.5,339.7 L548.6,343.4 L548.8,347.2 L549.0,351.1 L549.3,354.9 L549.6,358.8 L549.8,362.7 L550.0,366.6 L550.2,370.6 L550.6,374.7 L551.5,378.8 L552.9,383.1 L555.1,387.5 L557.9,392.0 L561.1,396.6 L564.5,401.1 L567.8,405.6 L571.0,409.9 L574.0,414.0 L576.9,418.1 L579.9,422.1 L582.8,426.0 L585.7,429.8 L588.5,433.5 L591.1,437.2 L593.7,440.8 L596.3,444.3 L598.8,447.7 L601.5,451.0 L604.0,454.1 L606.7,457.4 L609.5,460.8 L612.3,464.1 L614.8,467.1 L617.0,469.7 L618.5,471.5 L618.8,471.3 L617.5,469.3 L615.6,466.5 L613.3,463.3 L610.8,459.8 L608.3,456.2 L605.9,452.7 L603.6,449.4 L601.2,445.9 L598.7,442.5 L596.1,439.0 L593.4,435.5 L590.6,431.9 L587.7,428.2 L584.7,424.5 L581.7,420.7 L578.7,416.8 L575.6,412.8 L572.6,408.7 L569.3,404.5 L565.9,400.1 L562.4,395.6 L559.2,391.1 L556.4,386.8 L554.2,382.5 L552.7,378.5 L551.8,374.5 L551.3,370.5 L551.0,366.6 L550.8,362.7 L550.5,358.7 L550.1,354.9 L549.8,351.0 L549.5,347.2 L549.3,343.4 L549.2,339.7 L549.1,336.0 L549.1,332.2 L549.1,328.2 L549.3,324.2 L549.4,320.6 L549.6,317.5 L549.7,315.3Z" fill="#2faaa3" fill-opacity="1"/>
<path d="M557.1,321.8 L556.9,324.3 L556.5,327.6 L556.1,331.6 L555.8,336.1 L555.4,340.7 L555.2,345.2 L555.1,349.9 L555.0,354.8 L555.0,359.9 L555.0,365.2 L555.2,370.4 L555.4,375.6 L555.7,380.8 L555.9,386.1 L556.2,391.5 L556.8,396.8 L557.8,402.0 L559.4,407.0 L561.8,411.8 L564.8,416.3 L568.2,420.7 L571.8,425.0 L575.3,429.1 L578.4,433.1 L581.2,437.0 L583.9,440.8 L586.6,444.5 L589.1,448.1 L591.6,451.6 L594.0,454.8 L596.3,457.9 L598.6,460.9 L600.9,463.7 L603.1,466.2 L605.2,468.6 L607.2,470.8 L609.2,473.0 L611.0,475.2 L612.8,477.3 L614.4,479.2 L615.7,480.7 L616.7,481.8 L617.0,481.6 L616.2,480.3 L615.1,478.6 L613.8,476.6 L612.3,474.3 L610.7,471.9 L609.0,469.5 L607.2,467.0 L605.3,464.4 L603.1,461.8 L600.8,459.1 L598.4,456.3 L596.0,453.3 L593.5,450.1 L591.0,446.7 L588.4,443.2 L585.6,439.6 L582.8,435.8 L579.9,431.9 L576.7,427.9 L573.1,423.9 L569.5,419.7 L566.0,415.4 L563.0,411.0 L560.6,406.5 L559.0,401.7 L558.0,396.6 L557.4,391.4 L557.0,386.1 L556.7,380.8 L556.4,375.6 L556.1,370.4 L555.8,365.1 L555.7,359.9 L555.7,354.8 L555.8,349.9 L555.9,345.3 L556.0,340.7 L556.3,336.1 L556.7,331.7 L557.1,327.7 L557.4,324.3 L557.6,321.9Z" fill="#2faaa3" fill-opacity="1"/>
<path d="M552.0,324.0 L552.0,326.2 L552.2,329.3 L552.3,333.0 L552.5,337.1 L552.6,341.4 L552.8,345.7 L552.9,350.2 L552.9,355.0 L552.9,360.1 L553.0,365.2 L553.2,370.5 L553.6,375.6 L553.9,380.8 L554.2,386.0 L554.6,391.3 L555.2,396.6 L556.2,401.9 L557.8,406.9 L560.2,411.8 L563.1,416.6 L566.5,421.3 L570.0,425.8 L573.4,430.2 L576.5,434.3 L579.3,438.2 L582.0,442.0 L584.7,445.6 L587.3,449.1 L589.8,452.4 L592.3,455.5 L594.8,458.5 L597.3,461.3 L599.7,464.0 L602.1,466.4 L604.4,468.6 L606.6,470.8 L608.6,473.0 L610.5,475.4 L612.4,477.6 L614.0,479.7 L615.4,481.4 L616.4,482.7 L616.7,482.4 L615.9,481.0 L614.9,479.1 L613.5,476.8 L612.0,474.3 L610.3,471.7 L608.5,469.2 L606.6,466.7 L604.5,464.2 L602.1,461.7 L599.6,459.2 L597.1,456.5 L594.5,453.7 L592.0,450.6 L589.3,447.4 L586.7,444.1 L583.9,440.6 L581.1,436.9 L578.2,433.0 L575.0,428.9 L571.5,424.6 L567.9,420.2 L564.6,415.7 L561.6,411.0 L559.3,406.3 L557.6,401.5 L556.5,396.4 L555.8,391.2 L555.4,385.9 L555.0,380.7 L554.6,375.5 L554.2,370.4 L554.0,365.2 L553.8,360.1 L553.7,355.0 L553.6,350.2 L553.5,345.7 L553.3,341.4 L553.1,337.0 L552.9,333.0 L552.7,329.3 L552.6,326.2 L552.5,323.9Z" fill="#2faaa3" fill-opacity="1"/>
<path d="M552.9,321.8 L552.9,324.2 L552.9,327.5 L552.9,331.4 L552.9,335.8 L552.9,340.3 L552.9,344.9 L553.0,349.5 L553.0,354.4 L553.1,359.6 L553.2,364.8 L553.4,370.1 L553.7,375.3 L554.0,380.4 L554.2,385.7 L554.5,391.0 L555.1,396.2 L556.1,401.4 L557.7,406.4 L560.2,411.2 L563.3,415.9 L566.9,420.5 L570.6,424.9 L574.2,429.1 L577.3,433.2 L580.1,437.2 L582.7,441.0 L585.2,444.7 L587.6,448.3 L589.9,451.7 L592.3,455.0 L594.6,458.0 L596.9,460.8 L599.1,463.4 L601.3,465.7 L603.6,467.9 L605.7,470.1 L607.8,472.4 L610.0,474.7 L612.1,476.9 L614.0,478.9 L615.6,480.6 L616.8,481.8 L617.1,481.6 L616.1,480.2 L614.8,478.3 L613.1,476.0 L611.3,473.6 L609.4,471.0 L607.5,468.6 L605.6,466.1 L603.6,463.7 L601.4,461.3 L599.1,458.8 L596.8,456.2 L594.4,453.3 L592.0,450.2 L589.6,446.9 L587.1,443.4 L584.6,439.7 L581.9,435.9 L579.0,432.0 L575.7,427.9 L572.0,423.7 L568.3,419.4 L564.7,414.9 L561.5,410.4 L559.1,405.8 L557.4,401.0 L556.4,396.0 L555.7,390.8 L555.3,385.6 L555.0,380.4 L554.7,375.2 L554.3,370.0 L554.0,364.8 L553.9,359.6 L553.8,354.4 L553.7,349.5 L553.6,344.8 L553.5,340.3 L553.5,335.8 L553.5,331.4 L553.5,327.5 L553.5,324.2 L553.5,321.8Z" fill="#2aa39d" fill-opacity="1"/>
<path d="M560.8,334.2 L560.7,337.3 L560.5,341.5 L560.3,346.5 L560.0,351.9 L559.9,357.3 L559.8,362.3 L559.9,367.1 L560.0,371.9 L560.1,376.7 L560.3,381.5 L560.6,386.4 L560.8,391.3 L561.0,396.4 L561.1,401.7 L561.3,407.0 L561.6,412.2 L562.1,417.3 L562.9,422.2 L564.2,426.7 L565.6,430.9 L567.4,435.0 L569.2,439.1 L571.3,443.0 L573.3,447.1 L575.6,451.3 L578.0,455.5 L580.5,459.7 L583.1,463.9 L585.7,467.9 L588.3,471.8 L590.9,475.5 L593.7,479.3 L596.5,482.9 L599.2,486.3 L601.9,489.3 L604.2,491.9 L606.3,494.1 L608.3,496.0 L610.0,497.5 L611.5,498.8 L612.7,499.9 L613.7,500.7 L613.9,500.5 L613.1,499.5 L612.0,498.3 L610.7,496.8 L609.2,495.1 L607.5,493.0 L605.6,490.7 L603.5,487.9 L601.0,484.8 L598.3,481.4 L595.5,477.9 L592.7,474.3 L590.0,470.6 L587.4,466.8 L584.7,462.9 L582.0,458.8 L579.4,454.6 L577.0,450.5 L574.7,446.4 L572.6,442.4 L570.5,438.4 L568.6,434.5 L566.8,430.5 L565.3,426.3 L564.0,421.9 L563.2,417.2 L562.6,412.1 L562.2,406.9 L562.0,401.6 L561.9,396.4 L561.6,391.3 L561.3,386.4 L561.0,381.5 L560.8,376.6 L560.6,371.9 L560.4,367.1 L560.4,362.3 L560.4,357.3 L560.6,351.9 L560.7,346.5 L561.0,341.5 L561.2,337.3 L561.3,334.3Z" fill="#36b0a9" fill-opacity="1"/>
<path d="M563.3,333.9 L563.2,336.7 L563.0,340.6 L562.8,345.2 L562.6,350.2 L562.5,355.3 L562.4,360.1 L562.3,364.9 L562.3,369.8 L562.3,374.9 L562.4,379.9 L562.5,385.0 L562.6,390.1 L562.8,395.2 L563.0,400.4 L563.2,405.6 L563.5,410.7 L564.1,415.7 L564.9,420.6 L566.1,425.2 L567.6,429.6 L569.3,433.8 L571.1,438.0 L573.1,442.2 L575.2,446.4 L577.4,450.6 L579.9,454.9 L582.6,459.2 L585.3,463.4 L587.9,467.5 L590.4,471.3 L592.9,475.0 L595.4,478.6 L597.9,482.1 L600.3,485.3 L602.7,488.2 L604.8,490.8 L606.7,493.2 L608.6,495.2 L610.2,497.0 L611.7,498.6 L612.9,499.8 L613.8,500.8 L614.0,500.6 L613.2,499.5 L612.2,498.1 L610.9,496.5 L609.4,494.5 L607.8,492.3 L606.0,489.9 L604.1,487.2 L601.9,484.1 L599.5,480.9 L597.0,477.5 L594.5,474.0 L591.9,470.3 L589.3,466.5 L586.6,462.5 L583.9,458.4 L581.2,454.2 L578.7,449.9 L576.4,445.7 L574.2,441.6 L572.2,437.5 L570.3,433.4 L568.6,429.2 L567.1,424.9 L565.9,420.4 L565.0,415.6 L564.4,410.6 L564.0,405.5 L563.8,400.3 L563.6,395.2 L563.4,390.1 L563.1,385.0 L563.0,379.9 L562.9,374.8 L562.9,369.8 L562.9,364.9 L562.9,360.2 L563.0,355.3 L563.1,350.2 L563.3,345.2 L563.5,340.6 L563.6,336.8 L563.8,334.0Z" fill="#36b0a9" fill-opacity="1"/>
<path d="M564.8,334.6 L564.8,337.4 L564.7,341.3 L564.5,345.9 L564.4,350.9 L564.3,356.0 L564.1,360.9 L563.9,365.7 L563.6,370.6 L563.3,375.6 L563.0,380.7 L562.9,385.7 L562.9,390.8 L563.1,395.8 L563.3,400.9 L563.7,406.1 L564.2,411.2 L564.9,416.1 L565.9,420.9 L567.1,425.5 L568.6,430.0 L570.3,434.4 L572.1,438.6 L574.0,442.8 L576.0,447.0 L578.2,451.1 L580.5,455.3 L582.9,459.3 L585.4,463.3 L587.9,467.2 L590.3,471.0 L592.7,474.7 L595.1,478.5 L597.6,482.3 L600.0,485.7 L602.4,488.8 L604.5,491.5 L606.6,493.7 L608.6,495.5 L610.4,497.0 L612.0,498.1 L613.3,499.1 L614.3,499.8 L614.5,499.6 L613.6,498.7 L612.4,497.6 L611.0,496.2 L609.4,494.6 L607.7,492.7 L605.9,490.4 L603.9,487.7 L601.8,484.5 L599.4,481.0 L596.9,477.4 L594.4,473.6 L591.9,469.9 L589.5,466.2 L586.9,462.3 L584.4,458.4 L581.9,454.4 L579.6,450.4 L577.4,446.3 L575.3,442.2 L573.3,438.0 L571.5,433.9 L569.8,429.6 L568.3,425.2 L567.0,420.7 L566.0,415.9 L565.3,411.0 L564.7,406.0 L564.3,400.9 L564.0,395.8 L563.8,390.8 L563.7,385.7 L563.8,380.7 L564.0,375.6 L564.3,370.6 L564.6,365.7 L564.8,361.0 L564.9,356.1 L565.0,350.9 L565.1,345.9 L565.2,341.3 L565.3,337.4 L565.4,334.6Z" fill="#3db6ae" fill-opacity="1"/>
<path d="M546.9,347.6 L547.2,351.3 L547.5,356.5 L548.0,362.5 L548.4,369.1 L548.9,375.6 L549.4,381.7 L549.8,387.5 L550.3,393.2 L550.7,399.0 L551.2,404.8 L551.7,410.4 L552.3,415.9 L553.1,421.3 L554.0,426.5 L555.0,431.7 L555.9,436.7 L556.7,441.6 L557.4,446.3 L557.8,450.9 L558.1,455.2 L558.2,459.4 L558.3,463.5 L558.4,467.6 L558.7,471.7 L559.0,475.8 L559.3,479.8 L559.6,483.8 L560.1,487.8 L560.6,491.8 L561.4,495.8 L562.3,499.8 L563.4,503.8 L564.6,507.8 L566.0,511.8 L567.4,515.6 L569.0,519.2 L570.7,522.7 L572.4,526.0 L574.3,529.2 L576.3,532.3 L578.4,535.3 L580.6,538.3 L583.0,541.2 L585.6,543.9 L588.3,546.5 L591.0,549.1 L593.8,551.6 L596.5,554.0 L599.3,556.4 L602.3,558.9 L605.3,561.4 L608.1,563.6 L610.4,565.5 L612.1,566.8 L612.2,566.7 L610.6,565.3 L608.3,563.3 L605.6,561.0 L602.7,558.5 L599.8,555.8 L597.1,553.3 L594.5,550.8 L591.8,548.3 L589.2,545.6 L586.6,543.0 L584.1,540.2 L581.7,537.4 L579.5,534.5 L577.4,531.6 L575.4,528.5 L573.5,525.4 L571.8,522.2 L570.1,518.8 L568.5,515.2 L567.0,511.4 L565.7,507.5 L564.4,503.5 L563.3,499.5 L562.3,495.6 L561.6,491.6 L561.0,487.7 L560.5,483.8 L560.2,479.8 L559.8,475.7 L559.5,471.7 L559.2,467.6 L559.1,463.5 L558.9,459.4 L558.8,455.2 L558.5,450.8 L558.0,446.3 L557.4,441.5 L556.5,436.6 L555.5,431.6 L554.6,426.4 L553.6,421.2 L552.8,415.9 L552.2,410.4 L551.7,404.7 L551.2,399.0 L550.7,393.2 L550.3,387.4 L549.9,381.7 L549.4,375.6 L548.9,369.1 L548.4,362.5 L548.0,356.4 L547.6,351.3 L547.3,347.6Z" fill="#45b7b0" fill-opacity="1"/>
<path d="M546.4,344.7 L546.6,348.3 L546.8,353.4 L547.1,359.4 L547.4,366.0 L547.7,372.5 L548.2,378.6 L548.6,384.4 L549.2,390.2 L549.8,396.1 L550.5,402.0 L551.2,407.7 L551.9,413.2 L552.9,418.6 L553.9,423.9 L555.1,429.1 L556.2,434.1 L557.1,438.9 L557.8,443.6 L558.1,448.0 L558.2,452.2 L558.1,456.3 L558.0,460.3 L558.0,464.3 L558.1,468.4 L558.5,472.6 L558.8,476.9 L559.3,481.2 L559.9,485.5 L560.6,489.7 L561.4,493.9 L562.4,497.9 L563.6,501.9 L564.9,505.8 L566.3,509.6 L567.8,513.3 L569.3,517.0 L571.0,520.5 L572.7,523.9 L574.5,527.2 L576.4,530.4 L578.5,533.5 L580.6,536.5 L582.9,539.5 L585.4,542.3 L588.0,545.0 L590.7,547.6 L593.4,550.1 L596.1,552.5 L599.0,554.9 L602.2,557.4 L605.4,559.8 L608.4,562.0 L610.9,563.8 L612.8,565.1 L612.9,564.9 L611.1,563.5 L608.6,561.6 L605.7,559.4 L602.6,556.9 L599.5,554.4 L596.7,551.9 L594.1,549.4 L591.5,546.8 L588.9,544.1 L586.4,541.4 L584.0,538.6 L581.7,535.7 L579.6,532.7 L577.5,529.7 L575.6,526.5 L573.8,523.3 L572.0,519.9 L570.4,516.5 L568.8,512.9 L567.3,509.2 L565.9,505.4 L564.6,501.6 L563.4,497.6 L562.4,493.6 L561.5,489.6 L560.8,485.4 L560.2,481.1 L559.7,476.8 L559.3,472.6 L559.0,468.4 L558.8,464.3 L558.8,460.3 L558.9,456.3 L558.9,452.2 L558.8,448.0 L558.5,443.5 L557.8,438.8 L556.8,434.0 L555.7,428.9 L554.6,423.8 L553.5,418.5 L552.5,413.2 L551.8,407.6 L551.0,401.9 L550.4,396.1 L549.7,390.2 L549.2,384.3 L548.7,378.5 L548.3,372.4 L547.9,365.9 L547.6,359.4 L547.3,353.4 L547.1,348.3 L546.9,344.6Z" fill="#52bdb6" fill-opacity="1"/>
<path d="M550.2,354.5 L550.5,358.2 L551.0,363.3 L551.5,369.4 L552.1,375.9 L552.7,382.4 L553.4,388.5 L554.1,394.2 L554.9,400.0 L555.8,405.8 L556.7,411.4 L557.5,416.9 L558.3,422.1 L559.1,427.0 L559.9,431.6 L560.7,435.9 L561.4,440.2 L562.1,444.5 L562.7,448.9 L563.2,453.4 L563.6,458.0 L564.0,462.6 L564.3,467.1 L564.7,471.5 L565.2,475.7 L565.6,479.5 L566.1,483.2 L566.6,486.7 L567.2,490.1 L567.9,493.5 L568.8,497.0 L569.8,500.5 L571.0,504.0 L572.3,507.6 L573.7,511.1 L575.2,514.5 L577.0,517.9 L578.9,521.1 L581.1,524.3 L583.4,527.4 L585.8,530.4 L588.2,533.4 L590.5,536.4 L592.9,539.5 L595.4,542.5 L598.0,545.5 L600.5,548.4 L602.9,551.1 L605.1,553.6 L607.3,555.8 L609.4,557.8 L611.4,559.6 L613.2,561.3 L614.7,562.6 L615.9,563.6 L616.0,563.4 L614.9,562.4 L613.5,561.0 L611.8,559.3 L609.9,557.3 L607.8,555.2 L605.8,552.9 L603.7,550.4 L601.4,547.7 L599.0,544.7 L596.5,541.6 L594.1,538.5 L591.7,535.5 L589.3,532.5 L586.9,529.6 L584.5,526.6 L582.1,523.5 L580.0,520.5 L578.0,517.3 L576.3,514.0 L574.7,510.6 L573.3,507.2 L572.0,503.7 L570.8,500.2 L569.7,496.7 L568.8,493.3 L568.1,489.9 L567.5,486.5 L566.9,483.1 L566.4,479.4 L565.9,475.6 L565.5,471.4 L565.1,467.1 L564.7,462.6 L564.3,457.9 L563.9,453.3 L563.4,448.8 L562.7,444.4 L562.0,440.1 L561.2,435.8 L560.4,431.5 L559.6,426.9 L558.8,422.1 L558.0,416.9 L557.1,411.4 L556.2,405.7 L555.4,399.9 L554.5,394.1 L553.8,388.4 L553.1,382.4 L552.5,375.9 L551.9,369.3 L551.3,363.3 L550.9,358.1 L550.6,354.4Z" fill="#45b7b0" fill-opacity="1"/>
<path d="M551.0,360.0 L551.3,363.8 L551.7,369.0 L552.2,375.1 L552.7,381.8 L553.3,388.3 L554.0,394.4 L554.6,400.0 L555.3,405.6 L556.0,411.2 L556.8,416.7 L557.6,422.0 L558.5,427.1 L559.4,431.9 L560.4,436.5 L561.5,440.9 L562.5,445.1 L563.4,449.4 L564.1,453.8 L564.6,458.3 L564.8,462.9 L564.9,467.5 L565.0,472.0 L565.2,476.4 L565.5,480.5 L566.1,484.4 L566.7,488.1 L567.4,491.6 L568.2,495.0 L569.1,498.3 L570.1,501.7 L571.2,505.1 L572.3,508.4 L573.5,511.7 L574.9,515.0 L576.3,518.3 L578.0,521.5 L579.8,524.7 L581.8,527.9 L583.9,531.1 L586.1,534.2 L588.3,537.2 L590.7,540.2 L593.2,543.1 L596.0,546.0 L598.8,548.7 L601.6,551.4 L604.2,553.8 L606.5,556.1 L608.6,558.2 L610.6,560.2 L612.4,562.0 L614.0,563.6 L615.3,565.0 L616.3,566.0 L616.4,565.8 L615.5,564.8 L614.3,563.3 L612.8,561.6 L611.1,559.7 L609.2,557.6 L607.2,555.4 L605.0,553.0 L602.5,550.5 L599.8,547.8 L597.1,544.9 L594.4,542.0 L591.9,539.2 L589.5,536.3 L587.3,533.3 L585.0,530.3 L582.9,527.1 L580.9,524.0 L579.1,520.9 L577.5,517.7 L576.0,514.5 L574.6,511.3 L573.4,508.0 L572.2,504.7 L571.1,501.4 L570.1,498.0 L569.2,494.7 L568.3,491.4 L567.6,487.9 L566.9,484.3 L566.4,480.4 L566.0,476.3 L565.8,472.0 L565.6,467.4 L565.5,462.8 L565.2,458.2 L564.8,453.7 L564.0,449.3 L563.1,445.0 L562.1,440.7 L561.0,436.4 L559.9,431.8 L559.0,427.0 L558.1,422.0 L557.3,416.6 L556.5,411.2 L555.7,405.6 L555.0,399.9 L554.4,394.3 L553.7,388.3 L553.1,381.7 L552.6,375.1 L552.1,369.0 L551.7,363.8 L551.4,360.0Z" fill="#3db2ab" fill-opacity="1"/>
<path d="M554.0,371.2 L554.3,374.7 L554.8,379.6 L555.3,385.3 L555.9,391.4 L556.6,397.5 L557.2,403.1 L557.9,408.3 L558.6,413.4 L559.3,418.5 L560.1,423.5 L560.9,428.4 L561.7,433.2 L562.7,437.9 L563.7,442.4 L564.9,446.9 L565.9,451.3 L566.9,455.5 L567.7,459.7 L568.2,463.8 L568.5,467.8 L568.8,471.7 L569.0,475.6 L569.3,479.5 L569.9,483.4 L570.7,487.4 L571.6,491.3 L572.7,495.3 L573.9,499.2 L575.1,503.1 L576.5,506.9 L578.0,510.8 L579.5,514.6 L581.2,518.4 L582.9,522.1 L584.8,525.8 L586.8,529.4 L588.9,533.0 L591.3,536.6 L593.8,540.2 L596.3,543.5 L598.8,546.7 L601.2,549.6 L603.6,552.3 L606.1,554.9 L608.6,557.3 L610.9,559.4 L612.8,561.1 L614.2,562.4 L614.3,562.3 L613.0,560.9 L611.2,559.0 L609.0,556.8 L606.7,554.3 L604.3,551.7 L602.1,548.9 L599.8,545.9 L597.4,542.7 L595.0,539.2 L592.6,535.7 L590.2,532.2 L588.1,528.6 L586.1,525.1 L584.2,521.5 L582.4,517.8 L580.7,514.1 L579.1,510.3 L577.7,506.5 L576.3,502.7 L575.0,498.8 L573.8,495.0 L572.7,491.1 L571.7,487.1 L570.9,483.2 L570.3,479.4 L569.9,475.5 L569.6,471.7 L569.4,467.8 L569.0,463.7 L568.5,459.6 L567.6,455.4 L566.6,451.1 L565.5,446.7 L564.4,442.3 L563.3,437.7 L562.3,433.1 L561.4,428.3 L560.6,423.4 L559.8,418.4 L559.1,413.3 L558.4,408.2 L557.7,403.0 L557.0,397.5 L556.4,391.4 L555.8,385.3 L555.2,379.5 L554.8,374.7 L554.4,371.2Z" fill="#52bdb6" fill-opacity="1"/>
<path d="M556.8,368.0 L557.1,371.5 L557.4,376.4 L557.8,382.3 L558.3,388.5 L558.9,394.6 L559.6,400.2 L560.4,405.3 L561.3,410.3 L562.3,415.3 L563.3,420.1 L564.4,424.9 L565.3,429.5 L566.3,434.1 L567.2,438.5 L568.2,442.9 L569.1,447.2 L569.9,451.4 L570.6,455.6 L571.1,459.7 L571.4,463.7 L571.7,467.7 L571.9,471.6 L572.3,475.6 L572.8,479.6 L573.5,483.6 L574.3,487.7 L575.2,491.8 L576.2,495.9 L577.3,500.0 L578.6,504.0 L580.1,507.9 L581.8,511.9 L583.6,515.8 L585.5,519.6 L587.5,523.3 L589.6,527.0 L591.7,530.6 L593.9,534.1 L596.3,537.5 L598.7,540.7 L601.1,543.8 L603.3,546.7 L605.4,549.6 L607.7,552.5 L609.9,555.2 L611.8,557.7 L613.5,559.7 L614.7,561.2 L614.9,561.1 L613.7,559.5 L612.2,557.4 L610.3,554.9 L608.3,552.0 L606.2,549.1 L604.1,546.1 L602.0,543.1 L599.8,539.9 L597.5,536.6 L595.2,533.2 L592.9,529.8 L590.8,526.3 L588.8,522.7 L586.7,519.0 L584.8,515.2 L582.9,511.3 L581.2,507.5 L579.7,503.6 L578.4,499.6 L577.2,495.6 L576.2,491.6 L575.3,487.5 L574.5,483.5 L573.8,479.4 L573.2,475.5 L572.8,471.6 L572.6,467.6 L572.3,463.7 L571.9,459.6 L571.4,455.5 L570.7,451.3 L569.8,447.1 L568.9,442.8 L567.9,438.4 L566.9,433.9 L566.0,429.4 L565.0,424.7 L564.0,420.0 L562.9,415.1 L561.9,410.2 L561.0,405.2 L560.2,400.1 L559.5,394.6 L558.9,388.4 L558.4,382.2 L558.0,376.4 L557.6,371.5 L557.3,367.9Z" fill="#3db2ab" fill-opacity="1"/>
<path d="M548.2,389.5 L548.7,393.1 L549.5,398.1 L550.3,404.0 L551.3,410.3 L552.3,416.5 L553.3,422.0 L554.4,426.9 L555.6,431.7 L556.8,436.3 L557.9,440.7 L559.0,445.2 L560.0,449.6 L560.7,454.1 L561.3,458.4 L561.9,462.8 L562.4,467.1 L562.9,471.3 L563.7,475.6 L564.5,479.7 L565.3,483.9 L566.3,488.0 L567.3,492.1 L568.5,496.1 L569.8,500.1 L571.4,503.9 L573.1,507.7 L575.0,511.5 L577.0,515.1 L579.1,518.8 L581.2,522.3 L583.4,525.9 L585.8,529.5 L588.2,533.0 L590.7,536.4 L593.2,539.6 L595.7,542.7 L598.4,545.8 L601.3,549.0 L604.2,552.0 L606.9,554.7 L609.1,557.0 L610.8,558.7 L610.9,558.6 L609.4,556.8 L607.2,554.4 L604.7,551.6 L601.9,548.4 L599.2,545.2 L596.6,542.0 L594.3,538.8 L591.9,535.5 L589.4,532.1 L587.0,528.7 L584.6,525.2 L582.4,521.6 L580.2,518.1 L578.1,514.5 L576.1,510.9 L574.2,507.2 L572.4,503.5 L570.8,499.7 L569.4,495.8 L568.2,491.8 L567.2,487.8 L566.2,483.7 L565.3,479.6 L564.5,475.4 L563.7,471.2 L563.1,467.0 L562.5,462.7 L562.0,458.3 L561.4,454.0 L560.6,449.5 L559.6,445.1 L558.5,440.6 L557.3,436.1 L556.1,431.5 L554.9,426.8 L553.8,421.9 L552.8,416.4 L551.8,410.3 L550.8,404.0 L549.9,398.0 L549.1,393.0 L548.6,389.4Z" fill="#3db2ab" fill-opacity="1"/>
<path d="M549.0,389.9 L549.5,393.5 L550.2,398.6 L551.1,404.6 L552.1,411.0 L553.1,417.2 L554.1,422.8 L555.2,427.7 L556.3,432.4 L557.6,437.0 L558.8,441.5 L559.9,445.9 L560.9,450.3 L561.7,454.7 L562.4,459.0 L563.0,463.3 L563.5,467.5 L564.1,471.7 L564.9,475.9 L565.7,480.0 L566.5,484.1 L567.4,488.1 L568.4,492.1 L569.6,496.1 L570.9,500.0 L572.5,503.9 L574.2,507.8 L576.1,511.6 L578.1,515.3 L580.2,519.0 L582.2,522.6 L584.4,526.2 L586.6,529.8 L588.8,533.3 L591.2,536.7 L593.6,540.0 L596.1,543.1 L598.8,546.4 L601.7,549.7 L604.6,552.9 L607.4,555.8 L609.7,558.2 L611.4,560.0 L611.5,559.9 L609.9,558.0 L607.7,555.4 L605.1,552.4 L602.3,549.1 L599.6,545.7 L597.1,542.4 L594.8,539.2 L592.5,535.8 L590.2,532.4 L587.9,529.0 L585.7,525.5 L583.5,521.9 L581.4,518.3 L579.3,514.7 L577.3,511.0 L575.3,507.2 L573.6,503.4 L572.0,499.6 L570.6,495.8 L569.5,491.9 L568.4,487.9 L567.5,483.9 L566.6,479.8 L565.8,475.7 L565.0,471.6 L564.3,467.4 L563.7,463.2 L563.1,458.9 L562.5,454.5 L561.6,450.1 L560.6,445.7 L559.4,441.3 L558.2,436.8 L556.9,432.3 L555.7,427.6 L554.6,422.7 L553.6,417.1 L552.6,410.9 L551.6,404.5 L550.7,398.5 L550.0,393.5 L549.5,389.8Z" fill="#3db2ab" fill-opacity="1"/>
<path d="M555.8,439.0 L556.1,442.2 L556.5,446.6 L556.9,451.9 L557.4,457.6 L557.9,463.2 L558.5,468.4 L559.1,473.3 L559.6,478.2 L560.2,483.0 L561.0,487.8 L561.9,492.6 L563.1,497.3 L564.7,501.8 L566.5,506.2 L568.5,510.6 L570.7,514.9 L572.9,519.1 L575.1,523.3 L577.3,527.5 L579.7,531.6 L582.1,535.7 L584.5,539.8 L586.9,543.8 L589.3,547.7 L591.7,551.6 L594.1,555.4 L596.6,559.2 L599.0,562.9 L601.3,566.4 L603.6,569.6 L605.8,572.6 L608.1,575.5 L610.2,578.2 L612.2,580.6 L613.8,582.6 L615.0,584.1 L615.2,584.0 L614.1,582.4 L612.6,580.3 L610.9,577.7 L608.9,574.9 L606.8,571.9 L604.8,568.7 L602.7,565.5 L600.4,562.0 L597.9,558.4 L595.4,554.6 L592.9,550.8 L590.5,546.9 L588.0,543.1 L585.6,539.1 L583.1,535.1 L580.7,531.1 L578.3,526.9 L576.0,522.8 L573.8,518.6 L571.5,514.4 L569.3,510.2 L567.3,505.9 L565.4,501.5 L563.9,497.0 L562.6,492.4 L561.7,487.7 L560.9,482.9 L560.3,478.1 L559.7,473.2 L559.2,468.3 L558.5,463.1 L558.0,457.5 L557.5,451.8 L557.0,446.6 L556.6,442.1 L556.4,438.9Z" fill="#45b7b0" fill-opacity="1"/>
<path d="M557.4,438.3 L557.5,441.5 L557.6,446.1 L557.7,451.4 L558.0,457.1 L558.3,462.8 L558.8,468.1 L559.4,472.9 L560.1,477.7 L560.9,482.5 L561.9,487.2 L563.0,491.9 L564.3,496.5 L565.8,500.9 L567.5,505.3 L569.4,509.6 L571.4,513.9 L573.5,518.1 L575.6,522.2 L577.8,526.4 L580.2,530.5 L582.6,534.6 L585.1,538.6 L587.5,542.6 L589.9,546.5 L592.2,550.5 L594.5,554.6 L596.8,558.6 L599.0,562.5 L601.2,566.1 L603.4,569.3 L605.7,572.3 L608.0,575.1 L610.2,577.7 L612.2,579.9 L614.0,581.7 L615.2,583.1 L615.4,583.0 L614.3,581.5 L612.7,579.5 L610.8,577.1 L608.8,574.5 L606.7,571.6 L604.6,568.5 L602.6,565.2 L600.4,561.6 L598.1,557.8 L595.8,553.8 L593.4,549.8 L591.1,545.8 L588.7,541.9 L586.2,537.9 L583.7,533.9 L581.2,529.9 L578.8,525.9 L576.5,521.8 L574.4,517.6 L572.2,513.5 L570.2,509.3 L568.3,505.0 L566.5,500.7 L565.0,496.2 L563.7,491.7 L562.5,487.1 L561.6,482.4 L560.7,477.6 L560.0,472.8 L559.4,468.0 L558.8,462.8 L558.5,457.1 L558.2,451.4 L558.1,446.0 L557.9,441.5 L557.8,438.3Z" fill="#3db2ab" fill-opacity="1"/>
 </g>
 <g id="parts">
  <ellipse cx="519" cy="253" rx="6.5" ry="5.5" fill="#a9a0dc" opacity="0.7" filter="url(#b1)"/>
  <ellipse cx="518" cy="251" rx="6.5" ry="5.5" fill="#a5905c"/>
  <ellipse cx="518.3" cy="240" rx="10" ry="9.2" fill="url(#gPart)" opacity="0.88"/>
  <path d="M508.5,236.5 C514,238.5 522,238.5 528,236 M508.3,241 C514,243.5 522,243.5 528.3,240.5 M509.5,245.5 C514,247.5 521,247.5 527,245" fill="none" stroke="#3aada6" stroke-width="1.2" opacity="0.85"/>
  <ellipse cx="554.5" cy="201.5" rx="12.5" ry="12.5" fill="#a9a0dc" opacity="0.75" filter="url(#b1)"/>
  <path d="M551,184.6 C556,184.8 560.5,187 562.8,190.5 C565,194 565.6,198 564.6,202 C563.5,206.5 560,210 556,211.8 C552.5,213 548,212.6 544.5,210.5 C540.5,208 538,204 537.6,199.5 C537.3,194.5 539,190 542.5,187.4 C545,185.5 548,184.6 551,184.6 Z" fill="url(#gPart)"/>
  <ellipse cx="564.5" cy="275.5" rx="8" ry="9" fill="#a9a0dc" opacity="0.7" filter="url(#b1)" transform="rotate(25 564 275)"/>
  <ellipse cx="562.4" cy="273.2" rx="8" ry="9.6" fill="url(#gPart)" transform="rotate(25 562.4 273.2)"/>
 </g>
</g>
<!-- arrow -->
<g id="arrow">
 <rect x="444" y="94" width="10.3" height="292" fill="url(#gGlow)"/>
 <rect x="439.5" y="94" width="11.3" height="286" fill="url(#gShaft)"/>
 <rect x="446" y="94" width="4.8" height="286" fill="url(#gShaftHi)"/>
 <polygon points="447,72 463,97 433,97" fill="#8fd4e4" opacity="0.55"/>
 <polygon points="445.3,69.5 461.5,95.5 429.3,95.5" fill="#000"/>
</g>
<!-- box -->
<rect x="401" y="49.9" width="388.9" height="547.2" fill="none" stroke="#000" stroke-width="3.6"/>
<!-- leader lines -->
<g stroke="#111" stroke-width="1.7" fill="none" stroke-linecap="butt">
 <line x1="364" y1="214.5" x2="551" y2="197.5"/>
 <line x1="364" y1="267.5" x2="662" y2="227"/>
 <line x1="362.5" y1="327.2" x2="514" y2="307"/>
 <line x1="364" y1="377.8" x2="555" y2="363.5"/>
 <line x1="364" y1="432" x2="644" y2="435.7"/>
 <line x1="364" y1="486" x2="745" y2="470"/>
 <line x1="364" y1="536" x2="775" y2="524.5"/>
 <line x1="372" y1="579.3" x2="772" y2="575.3"/>
</g>
<!-- labels -->
<g class="lbl" text-anchor="end">
 <text x="359.5" y="223">Particulate</text>
 <text x="359.5" y="278.7">Mucous cell</text>
 <text x="358.5" y="335">Mucus layer</text>
 <text x="359.5" y="386">Cilia</text>
 <text x="359.5" y="441" textLength="357.3" lengthAdjust="spacingAndGlyphs">Ciliated columnar epithelial cell</text>
 <text x="359.5" y="491">Stem cell</text>
 <text x="359.5" y="541">Lamina propria</text>
 <text x="359.5" y="588.5">Basement membrane</text>
</g>
<text class="lbl" x="385.5" y="26.3" font-style="italic">Movement of mucus to the pharynx</text>
</svg>
</body></html>
